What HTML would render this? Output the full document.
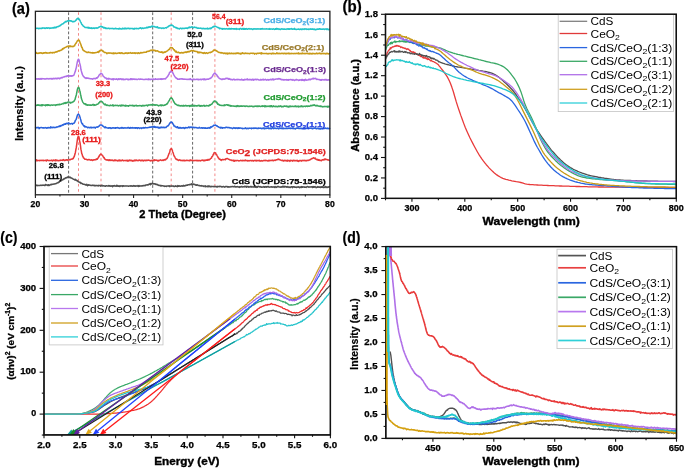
<!DOCTYPE html>
<html><head><meta charset="utf-8"><style>
html,body{margin:0;padding:0;background:#fff;overflow:hidden}
svg{display:block;will-change:transform}
text{font-family:"Liberation Sans",sans-serif}
</style></head><body>
<svg width="685" height="468" viewBox="0 0 685 468">
<rect x="0" y="0" width="685" height="468" fill="#fff"/>
<line x1="68.6" y1="12.3" x2="68.6" y2="194.8" stroke="#333" stroke-width="0.75" stroke-dasharray="2.8,2"/>
<line x1="152.7" y1="12.3" x2="152.7" y2="194.8" stroke="#333" stroke-width="0.75" stroke-dasharray="2.8,2"/>
<line x1="192.6" y1="12.3" x2="192.6" y2="194.8" stroke="#333" stroke-width="0.75" stroke-dasharray="2.8,2"/>
<line x1="78.5" y1="12.3" x2="78.5" y2="194.8" stroke="#f06a6a" stroke-width="0.8" stroke-dasharray="2.6,2.6"/>
<line x1="101" y1="12.3" x2="101" y2="194.8" stroke="#f06a6a" stroke-width="0.8" stroke-dasharray="2.6,2.6"/>
<line x1="171.2" y1="12.3" x2="171.2" y2="194.8" stroke="#f06a6a" stroke-width="0.8" stroke-dasharray="2.6,2.6"/>
<line x1="214.9" y1="12.3" x2="214.9" y2="194.8" stroke="#f06a6a" stroke-width="0.8" stroke-dasharray="2.6,2.6"/>
<polyline points="35.4,185.6 35.8,185.7 36.2,185.5 36.7,185.1 37.1,185.7 37.5,185.6 37.9,185.3 38.3,185.6 38.8,185.5 39.2,185.5 39.6,185.4 40.0,185.5 40.5,185.2 40.9,185.3 41.3,185.2 41.7,185.5 42.1,185.3 42.6,185.3 43.0,185.1 43.4,185.2 43.8,185.3 44.2,185.2 44.7,185.6 45.1,185.5 45.5,184.5 45.9,184.7 46.4,185.1 46.8,185.0 47.2,185.2 47.6,185.1 48.0,185.6 48.5,184.7 48.9,184.9 49.3,185.4 49.7,185.0 50.1,185.0 50.6,184.6 51.0,184.3 51.4,184.7 51.8,184.6 52.3,184.2 52.7,184.2 53.1,184.3 53.5,184.0 53.9,184.1 54.4,184.0 54.8,183.9 55.2,183.6 55.6,183.8 56.0,183.7 56.5,183.4 56.9,182.9 57.3,183.1 57.7,182.6 58.2,182.8 58.6,182.1 59.0,182.3 59.4,181.9 59.8,181.3 60.3,181.3 60.7,181.1 61.1,180.9 61.5,180.3 61.9,180.0 62.4,180.1 62.8,179.6 63.2,179.5 63.6,179.4 64.0,178.5 64.5,178.7 64.9,178.7 65.3,178.1 65.7,177.7 66.2,177.9 66.6,177.6 67.0,177.7 67.4,177.3 67.8,176.9 68.3,177.2 68.7,177.1 69.1,177.5 69.5,177.4 69.9,177.1 70.4,177.3 70.8,178.0 71.2,178.1 71.6,178.0 72.1,178.3 72.5,178.7 72.9,178.9 73.3,179.2 73.7,179.3 74.2,179.4 74.6,179.5 75.0,180.1 75.4,179.4 75.8,180.1 76.3,180.4 76.7,180.2 77.1,180.9 77.5,180.8 78.0,181.5 78.4,181.5 78.8,181.9 79.2,182.3 79.6,182.4 80.1,182.3 80.5,182.4 80.9,183.4 81.3,183.2 81.7,183.3 82.2,183.7 82.6,183.8 83.0,184.2 83.4,184.2 83.9,184.3 84.3,184.2 84.7,184.6 85.1,184.4 85.5,184.9 86.0,185.2 86.4,184.5 86.8,184.3 87.2,185.2 87.6,185.7 88.1,184.9 88.5,184.8 88.9,185.3 89.3,185.0 89.7,185.1 90.2,185.2 90.6,185.5 91.0,185.3 91.4,185.5 91.9,185.4 92.3,185.2 92.7,185.4 93.1,185.3 93.5,185.5 94.0,185.3 94.4,185.3 94.8,185.9 95.2,185.6 95.6,185.6 96.1,185.7 96.5,185.5 96.9,185.6 97.3,185.8 97.8,185.7 98.2,185.4 98.6,185.9 99.0,185.6 99.4,185.5 99.9,185.5 100.3,185.6 100.7,186.2 101.1,185.5 101.5,185.8 102.0,185.2 102.4,185.8 102.8,186.0 103.2,185.8 103.7,185.7 104.1,185.9 104.5,186.0 104.9,186.0 105.3,186.3 105.8,185.9 106.2,185.7 106.6,185.8 107.0,185.9 107.4,185.9 107.9,185.9 108.3,185.9 108.7,185.5 109.1,186.1 109.6,185.8 110.0,185.6 110.4,186.1 110.8,186.3 111.2,186.1 111.7,186.0 112.1,185.7 112.5,186.7 112.9,186.2 113.3,185.7 113.8,185.8 114.2,186.0 114.6,185.6 115.0,186.0 115.5,185.9 115.9,186.3 116.3,186.2 116.7,185.3 117.1,186.0 117.6,185.6 118.0,186.3 118.4,186.1 118.8,186.2 119.2,185.8 119.7,186.5 120.1,186.5 120.5,185.8 120.9,186.1 121.3,185.9 121.8,186.0 122.2,185.7 122.6,186.5 123.0,185.8 123.5,186.0 123.9,186.2 124.3,185.9 124.7,186.0 125.1,185.9 125.6,186.0 126.0,185.8 126.4,186.0 126.8,186.0 127.2,186.0 127.7,186.1 128.1,186.0 128.5,186.3 128.9,186.0 129.4,186.0 129.8,185.9 130.2,185.9 130.6,185.8 131.0,186.2 131.5,185.8 131.9,185.9 132.3,186.2 132.7,186.2 133.1,186.0 133.6,185.6 134.0,186.2 134.4,186.1 134.8,185.7 135.3,186.3 135.7,185.9 136.1,185.8 136.5,186.1 136.9,186.0 137.4,186.1 137.8,185.6 138.2,186.5 138.6,185.9 139.0,185.6 139.5,186.2 139.9,185.9 140.3,186.1 140.7,185.9 141.2,185.9 141.6,186.0 142.0,185.7 142.4,186.0 142.8,185.7 143.3,185.5 143.7,185.7 144.1,185.8 144.5,185.5 144.9,185.3 145.4,185.6 145.8,184.9 146.2,185.0 146.6,185.1 147.0,184.7 147.5,184.9 147.9,184.8 148.3,184.9 148.7,184.3 149.2,184.2 149.6,184.3 150.0,183.5 150.4,184.8 150.8,183.7 151.3,183.6 151.7,184.0 152.1,183.7 152.5,183.2 152.9,183.8 153.4,183.9 153.8,183.7 154.2,183.8 154.6,184.1 155.1,183.8 155.5,184.3 155.9,184.4 156.3,184.3 156.7,184.2 157.2,184.7 157.6,184.6 158.0,185.2 158.4,185.1 158.8,185.4 159.3,185.3 159.7,185.5 160.1,185.3 160.5,185.8 161.0,186.1 161.4,185.7 161.8,185.6 162.2,185.8 162.6,185.8 163.1,185.8 163.5,186.0 163.9,185.9 164.3,186.4 164.7,186.1 165.2,186.2 165.6,186.3 166.0,186.0 166.4,186.5 166.9,186.0 167.3,186.0 167.7,186.1 168.1,186.1 168.5,185.8 169.0,186.2 169.4,185.8 169.8,186.6 170.2,186.2 170.6,186.1 171.1,186.0 171.5,186.1 171.9,186.2 172.3,186.0 172.7,186.0 173.2,186.2 173.6,186.1 174.0,186.5 174.4,186.5 174.9,186.2 175.3,186.3 175.7,185.9 176.1,186.4 176.5,186.2 177.0,186.3 177.4,186.6 177.8,185.6 178.2,186.3 178.6,185.9 179.1,186.3 179.5,185.8 179.9,186.0 180.3,186.2 180.8,186.2 181.2,186.1 181.6,185.8 182.0,185.8 182.4,186.2 182.9,185.9 183.3,185.4 183.7,186.0 184.1,185.8 184.5,185.9 185.0,185.5 185.4,185.7 185.8,185.2 186.2,185.5 186.7,185.1 187.1,185.3 187.5,185.3 187.9,184.8 188.3,184.8 188.8,184.7 189.2,184.9 189.6,184.7 190.0,184.2 190.4,184.5 190.9,184.5 191.3,184.8 191.7,183.8 192.1,184.1 192.6,184.5 193.0,183.9 193.4,183.9 193.8,184.4 194.2,184.6 194.7,184.3 195.1,184.7 195.5,184.7 195.9,185.1 196.3,184.8 196.8,185.2 197.2,184.8 197.6,185.1 198.0,185.2 198.4,185.6 198.9,185.6 199.3,185.4 199.7,185.8 200.1,185.9 200.6,185.8 201.0,185.8 201.4,185.9 201.8,185.6 202.2,186.1 202.7,186.1 203.1,185.9 203.5,186.4 203.9,185.9 204.3,186.1 204.8,186.2 205.2,186.8 205.6,185.9 206.0,186.5 206.5,186.6 206.9,186.5 207.3,186.7 207.7,186.2 208.1,185.9 208.6,186.6 209.0,186.1 209.4,186.4 209.8,186.2 210.2,186.7 210.7,186.7 211.1,186.3 211.5,186.7 211.9,186.5 212.4,186.5 212.8,186.5 213.2,186.5 213.6,186.7 214.0,186.6 214.5,186.5 214.9,186.8 215.3,186.4 215.7,186.6 216.1,186.7 216.6,186.9 217.0,186.4 217.4,187.0 217.8,186.6 218.3,186.5 218.7,186.4 219.1,186.7 219.5,186.6 219.9,186.3 220.4,186.3 220.8,186.5 221.2,186.4 221.6,186.9 222.0,187.0 222.5,186.8 222.9,186.7 223.3,186.5 223.7,186.6 224.1,186.9 224.6,187.2 225.0,186.9 225.4,186.6 225.8,186.7 226.3,186.5 226.7,186.5 227.1,186.6 227.5,186.7 227.9,187.1 228.4,186.7 228.8,187.0 229.2,187.1 229.6,186.7 230.0,187.1 230.5,186.9 230.9,186.6 231.3,186.7 231.7,186.7 232.2,186.6 232.6,186.6 233.0,186.7 233.4,186.8 233.8,186.5 234.3,186.7 234.7,186.3 235.1,186.8 235.5,186.9 235.9,186.8 236.4,186.8 236.8,186.9 237.2,186.6 237.6,186.7 238.1,186.9 238.5,187.0 238.9,186.8 239.3,187.4 239.7,186.7 240.2,187.0 240.6,187.1 241.0,186.7 241.4,186.5 241.8,186.5 242.3,186.8 242.7,187.0 243.1,186.8 243.5,186.8 244.0,186.7 244.4,186.9 244.8,186.2 245.2,186.8 245.6,186.8 246.1,186.4 246.5,187.3 246.9,186.4 247.3,186.5 247.7,186.5 248.2,187.1 248.6,186.6 249.0,187.0 249.4,186.9 249.8,186.9 250.3,186.5 250.7,186.6 251.1,187.2 251.5,186.5 252.0,186.6 252.4,186.8 252.8,187.0 253.2,186.9 253.6,187.0 254.1,186.5 254.5,187.1 254.9,187.0 255.3,186.4 255.7,187.2 256.2,187.4 256.6,186.6 257.0,186.8 257.4,187.2 257.9,186.5 258.3,186.3 258.7,186.5 259.1,186.7 259.5,186.7 260.0,187.0 260.4,186.9 260.8,186.5 261.2,187.0 261.6,187.3 262.1,187.2 262.5,187.1 262.9,186.9 263.3,187.1 263.8,186.6 264.2,187.1 264.6,186.8 265.0,187.2 265.4,187.0 265.9,186.6 266.3,186.9 266.7,187.2 267.1,186.6 267.5,186.7 268.0,186.7 268.4,186.5 268.8,187.1 269.2,187.2 269.7,187.1 270.1,187.0 270.5,186.9 270.9,187.0 271.3,186.7 271.8,187.1 272.2,187.2 272.6,187.1 273.0,186.8 273.4,186.9 273.9,186.9 274.3,187.4 274.7,187.0 275.1,186.5 275.6,187.0 276.0,187.4 276.4,187.1 276.8,187.2 277.2,186.9 277.7,186.4 278.1,186.5 278.5,186.6 278.9,186.9 279.3,187.0 279.8,187.1 280.2,186.9 280.6,187.2 281.0,186.9 281.4,186.8 281.9,187.2 282.3,186.7 282.7,186.3 283.1,186.7 283.6,187.0 284.0,186.2 284.4,186.9 284.8,186.9 285.2,186.6 285.7,186.6 286.1,186.9 286.5,186.8 286.9,187.3 287.3,187.1 287.8,186.6 288.2,186.8 288.6,187.2 289.0,187.5 289.5,187.1 289.9,187.1 290.3,187.5 290.7,187.0 291.1,186.9 291.6,186.7 292.0,186.9 292.4,187.6 292.8,186.7 293.2,187.0 293.7,186.7 294.1,187.0 294.5,187.2 294.9,187.0 295.4,187.2 295.8,187.2 296.2,187.1 296.6,187.5 297.0,187.2 297.5,187.0 297.9,186.9 298.3,186.8 298.7,187.2 299.1,187.0 299.6,187.7 300.0,187.5 300.4,187.0 300.8,187.0 301.3,187.5 301.7,186.6 302.1,186.9 302.5,187.3 302.9,186.8 303.4,186.9 303.8,187.0 304.2,187.2 304.6,187.1 305.0,187.2 305.5,187.2 305.9,187.1 306.3,187.4 306.7,186.9 307.1,186.7 307.6,186.6 308.0,186.7 308.4,186.9 308.8,187.3 309.3,187.1 309.7,186.9 310.1,186.8 310.5,187.0 310.9,187.0 311.4,187.0 311.8,186.7 312.2,187.0 312.6,187.4 313.0,186.6 313.5,187.1 313.9,186.6 314.3,187.2 314.7,186.9 315.2,186.6 315.6,187.1 316.0,187.6 316.4,187.2 316.8,187.4 317.3,187.1 317.7,186.6 318.1,187.3 318.5,187.0 318.9,186.8 319.4,187.3 319.8,187.2 320.2,187.0 320.6,187.4 321.1,186.9 321.5,187.3 321.9,186.9 322.3,187.3 322.7,186.9 323.2,187.5 323.6,187.2 324.0,187.5 324.4,187.0 324.8,187.0 325.3,187.4 325.7,186.5 326.1,186.9 326.5,187.4 327.0,187.3 327.4,187.4 327.8,187.1 328.2,187.3 328.6,187.0 329.1,186.8 329.5,186.8 329.9,187.1" fill="none" stroke="#505050" stroke-width="1.5" stroke-linejoin="round"/>
<polyline points="35.4,160.5 35.8,160.3 36.2,160.4 36.7,159.8 37.1,160.9 37.5,160.7 37.9,160.4 38.3,160.6 38.8,160.5 39.2,160.3 39.6,160.7 40.0,160.4 40.5,160.4 40.9,160.3 41.3,160.6 41.7,160.4 42.1,160.6 42.6,160.3 43.0,160.5 43.4,160.2 43.8,160.7 44.2,160.5 44.7,160.5 45.1,160.5 45.5,160.2 45.9,160.6 46.4,161.0 46.8,160.0 47.2,160.0 47.6,160.1 48.0,160.6 48.5,160.5 48.9,160.7 49.3,160.6 49.7,160.5 50.1,160.5 50.6,160.4 51.0,160.6 51.4,160.1 51.8,160.3 52.3,160.5 52.7,160.9 53.1,160.2 53.5,160.1 53.9,160.3 54.4,160.6 54.8,160.3 55.2,160.7 55.6,159.9 56.0,160.7 56.5,160.6 56.9,160.0 57.3,160.4 57.7,160.7 58.2,160.4 58.6,160.6 59.0,160.9 59.4,160.4 59.8,160.3 60.3,160.1 60.7,160.5 61.1,160.2 61.5,160.2 61.9,160.2 62.4,160.4 62.8,160.0 63.2,159.8 63.6,159.6 64.0,160.5 64.5,160.2 64.9,160.5 65.3,160.1 65.7,159.9 66.2,160.2 66.6,160.0 67.0,159.7 67.4,159.8 67.8,160.4 68.3,160.0 68.7,160.0 69.1,159.7 69.5,159.6 69.9,159.9 70.4,159.5 70.8,159.3 71.2,159.3 71.6,159.0 72.1,159.1 72.5,159.1 72.9,158.3 73.3,158.4 73.7,157.3 74.2,156.7 74.6,155.3 75.0,154.1 75.4,152.4 75.8,150.0 76.3,147.4 76.7,144.6 77.1,141.7 77.5,138.8 78.0,137.0 78.4,136.2 78.8,136.6 79.2,138.0 79.6,140.9 80.1,143.2 80.5,145.9 80.9,149.2 81.3,150.9 81.7,153.4 82.2,154.5 82.6,156.1 83.0,156.5 83.4,157.9 83.9,158.2 84.3,158.3 84.7,159.3 85.1,159.3 85.5,159.2 86.0,159.2 86.4,159.5 86.8,159.5 87.2,159.8 87.6,159.9 88.1,159.6 88.5,159.7 88.9,159.7 89.3,159.5 89.7,159.8 90.2,159.9 90.6,160.1 91.0,160.3 91.4,159.8 91.9,160.1 92.3,159.9 92.7,160.5 93.1,160.0 93.5,160.1 94.0,159.7 94.4,159.7 94.8,159.9 95.2,159.7 95.6,159.8 96.1,159.1 96.5,159.5 96.9,158.9 97.3,159.2 97.8,158.2 98.2,158.1 98.6,156.9 99.0,156.6 99.4,155.6 99.9,155.0 100.3,154.6 100.7,154.1 101.1,154.2 101.5,154.6 102.0,155.0 102.4,155.5 102.8,155.9 103.2,156.7 103.7,157.5 104.1,157.6 104.5,158.8 104.9,159.0 105.3,159.3 105.8,159.8 106.2,159.9 106.6,159.9 107.0,159.7 107.4,160.1 107.9,160.2 108.3,159.9 108.7,160.5 109.1,160.4 109.6,159.8 110.0,160.3 110.4,160.0 110.8,160.6 111.2,160.5 111.7,160.1 112.1,160.1 112.5,160.4 112.9,160.3 113.3,160.8 113.8,160.6 114.2,160.3 114.6,160.6 115.0,159.9 115.5,160.5 115.9,160.7 116.3,160.4 116.7,160.3 117.1,160.6 117.6,160.9 118.0,160.5 118.4,160.2 118.8,160.8 119.2,160.0 119.7,160.6 120.1,160.3 120.5,160.7 120.9,160.3 121.3,160.8 121.8,160.6 122.2,160.1 122.6,160.0 123.0,160.4 123.5,160.8 123.9,160.5 124.3,160.5 124.7,160.4 125.1,160.7 125.6,160.6 126.0,160.6 126.4,160.3 126.8,160.8 127.2,160.9 127.7,160.2 128.1,161.1 128.5,160.7 128.9,160.4 129.4,160.0 129.8,160.7 130.2,160.7 130.6,160.4 131.0,160.1 131.5,160.8 131.9,160.4 132.3,160.4 132.7,161.2 133.1,161.1 133.6,160.8 134.0,160.4 134.4,160.7 134.8,160.0 135.3,160.6 135.7,160.3 136.1,160.2 136.5,160.1 136.9,160.7 137.4,160.6 137.8,160.6 138.2,160.7 138.6,160.3 139.0,160.2 139.5,160.1 139.9,160.4 140.3,160.7 140.7,160.5 141.2,160.7 141.6,160.2 142.0,160.4 142.4,160.3 142.8,160.2 143.3,161.0 143.7,160.7 144.1,160.3 144.5,160.3 144.9,160.5 145.4,160.2 145.8,160.6 146.2,160.2 146.6,160.4 147.0,160.3 147.5,160.4 147.9,160.2 148.3,160.1 148.7,160.3 149.2,160.3 149.6,160.4 150.0,160.5 150.4,160.9 150.8,160.7 151.3,160.4 151.7,160.7 152.1,160.3 152.5,160.9 152.9,160.6 153.4,160.1 153.8,160.7 154.2,160.7 154.6,159.8 155.1,160.3 155.5,160.3 155.9,160.0 156.3,160.2 156.7,160.2 157.2,160.5 157.6,160.5 158.0,161.1 158.4,160.3 158.8,160.7 159.3,160.4 159.7,160.4 160.1,160.0 160.5,159.8 161.0,160.1 161.4,160.4 161.8,160.6 162.2,160.3 162.6,160.3 163.1,159.9 163.5,160.4 163.9,160.3 164.3,159.8 164.7,159.8 165.2,159.4 165.6,159.9 166.0,159.4 166.4,158.9 166.9,158.6 167.3,158.0 167.7,157.1 168.1,156.0 168.5,154.9 169.0,153.6 169.4,152.8 169.8,151.9 170.2,149.7 170.6,149.2 171.1,148.7 171.5,148.5 171.9,149.4 172.3,150.2 172.7,152.0 173.2,152.9 173.6,154.4 174.0,155.7 174.4,156.5 174.9,157.0 175.3,158.0 175.7,158.8 176.1,159.0 176.5,159.4 177.0,159.3 177.4,159.8 177.8,160.0 178.2,159.9 178.6,160.5 179.1,160.0 179.5,159.9 179.9,159.8 180.3,160.5 180.8,160.2 181.2,160.5 181.6,160.4 182.0,160.7 182.4,160.7 182.9,160.3 183.3,160.4 183.7,160.7 184.1,160.1 184.5,160.8 185.0,160.7 185.4,160.7 185.8,160.4 186.2,160.5 186.7,160.2 187.1,160.5 187.5,160.3 187.9,160.5 188.3,160.4 188.8,160.6 189.2,160.8 189.6,160.2 190.0,160.7 190.4,160.0 190.9,160.0 191.3,160.5 191.7,160.5 192.1,160.6 192.6,160.1 193.0,160.5 193.4,160.5 193.8,160.8 194.2,160.5 194.7,160.6 195.1,160.3 195.5,160.5 195.9,160.4 196.3,160.7 196.8,160.3 197.2,160.3 197.6,160.6 198.0,160.9 198.4,160.6 198.9,160.6 199.3,160.4 199.7,160.8 200.1,160.6 200.6,160.9 201.0,160.6 201.4,160.2 201.8,160.3 202.2,160.2 202.7,160.1 203.1,160.7 203.5,160.6 203.9,160.1 204.3,160.8 204.8,160.4 205.2,160.1 205.6,160.4 206.0,160.3 206.5,160.1 206.9,159.7 207.3,160.2 207.7,160.2 208.1,159.4 208.6,160.1 209.0,160.0 209.4,159.5 209.8,159.4 210.2,159.0 210.7,158.5 211.1,158.2 211.5,158.1 211.9,156.7 212.4,156.4 212.8,155.6 213.2,154.6 213.6,153.8 214.0,152.9 214.5,152.6 214.9,152.6 215.3,152.9 215.7,153.0 216.1,154.6 216.6,154.5 217.0,155.5 217.4,156.2 217.8,156.9 218.3,158.0 218.7,158.1 219.1,159.0 219.5,159.3 219.9,159.1 220.4,159.8 220.8,159.6 221.2,160.5 221.6,159.8 222.0,159.7 222.5,159.5 222.9,159.7 223.3,159.8 223.7,159.6 224.1,159.5 224.6,159.5 225.0,159.5 225.4,159.8 225.8,158.8 226.3,158.9 226.7,158.7 227.1,158.5 227.5,158.6 227.9,158.8 228.4,159.3 228.8,159.3 229.2,159.4 229.6,159.8 230.0,159.9 230.5,160.0 230.9,160.2 231.3,160.0 231.7,160.5 232.2,160.5 232.6,160.3 233.0,160.1 233.4,160.9 233.8,160.5 234.3,161.3 234.7,160.4 235.1,160.8 235.5,160.4 235.9,160.6 236.4,160.8 236.8,160.4 237.2,160.6 237.6,160.6 238.1,160.6 238.5,160.8 238.9,160.9 239.3,160.8 239.7,160.7 240.2,160.5 240.6,160.3 241.0,160.4 241.4,160.5 241.8,160.8 242.3,160.5 242.7,160.3 243.1,160.8 243.5,160.4 244.0,160.5 244.4,160.6 244.8,160.8 245.2,160.0 245.6,160.4 246.1,160.7 246.5,160.6 246.9,160.4 247.3,160.5 247.7,161.0 248.2,160.5 248.6,160.8 249.0,160.9 249.4,160.6 249.8,160.8 250.3,160.6 250.7,160.5 251.1,160.4 251.5,160.9 252.0,160.6 252.4,160.5 252.8,160.4 253.2,161.1 253.6,160.9 254.1,160.6 254.5,160.5 254.9,160.3 255.3,160.8 255.7,160.8 256.2,160.3 256.6,161.0 257.0,160.9 257.4,160.4 257.9,160.5 258.3,160.6 258.7,160.7 259.1,160.6 259.5,160.3 260.0,161.1 260.4,160.8 260.8,161.0 261.2,161.0 261.6,160.6 262.1,160.8 262.5,160.9 262.9,160.9 263.3,160.6 263.8,160.5 264.2,160.7 264.6,160.5 265.0,160.5 265.4,160.2 265.9,160.7 266.3,160.4 266.7,160.5 267.1,160.7 267.5,160.8 268.0,161.1 268.4,160.7 268.8,160.3 269.2,160.7 269.7,160.5 270.1,160.7 270.5,160.5 270.9,160.5 271.3,160.5 271.8,160.5 272.2,160.1 272.6,160.4 273.0,160.5 273.4,160.8 273.9,160.3 274.3,160.2 274.7,160.4 275.1,160.2 275.6,160.4 276.0,160.0 276.4,159.7 276.8,159.8 277.2,159.8 277.7,159.2 278.1,159.4 278.5,159.0 278.9,159.4 279.3,159.4 279.8,159.8 280.2,159.9 280.6,160.1 281.0,160.2 281.4,160.5 281.9,160.5 282.3,160.3 282.7,160.2 283.1,160.9 283.6,161.0 284.0,160.5 284.4,160.8 284.8,160.3 285.2,160.3 285.7,160.6 286.1,161.0 286.5,160.4 286.9,160.5 287.3,161.1 287.8,160.2 288.2,160.8 288.6,160.8 289.0,160.6 289.5,160.7 289.9,161.4 290.3,160.4 290.7,160.6 291.1,160.6 291.6,160.5 292.0,160.4 292.4,161.1 292.8,160.8 293.2,160.3 293.7,160.5 294.1,160.8 294.5,160.8 294.9,160.3 295.4,160.7 295.8,160.8 296.2,160.8 296.6,160.8 297.0,160.2 297.5,161.2 297.9,160.7 298.3,161.1 298.7,161.4 299.1,160.6 299.6,160.4 300.0,160.9 300.4,160.6 300.8,160.6 301.3,160.4 301.7,161.1 302.1,160.6 302.5,160.3 302.9,160.5 303.4,160.4 303.8,160.7 304.2,160.5 304.6,160.3 305.0,160.8 305.5,160.4 305.9,160.7 306.3,160.9 306.7,160.4 307.1,160.3 307.6,160.5 308.0,160.6 308.4,160.3 308.8,160.2 309.3,160.0 309.7,160.0 310.1,159.8 310.5,159.3 310.9,159.1 311.4,159.0 311.8,158.6 312.2,158.5 312.6,158.4 313.0,158.1 313.5,157.8 313.9,157.8 314.3,158.5 314.7,158.4 315.2,158.1 315.6,158.5 316.0,159.4 316.4,159.6 316.8,159.5 317.3,159.9 317.7,159.4 318.1,160.0 318.5,160.3 318.9,159.7 319.4,160.1 319.8,160.5 320.2,160.6 320.6,160.2 321.1,160.4 321.5,160.7 321.9,160.1 322.3,159.7 322.7,159.9 323.2,159.7 323.6,160.0 324.0,159.5 324.4,159.1 324.8,159.8 325.3,159.0 325.7,159.2 326.1,159.4 326.5,159.5 327.0,159.6 327.4,159.8 327.8,159.9 328.2,159.7 328.6,160.1 329.1,160.3 329.5,160.4 329.9,160.5" fill="none" stroke="#e83a3a" stroke-width="1.5" stroke-linejoin="round"/>
<polyline points="35.4,128.3 35.8,127.2 36.2,127.9 36.7,127.7 37.1,127.7 37.5,127.7 37.9,127.3 38.3,127.7 38.8,127.6 39.2,128.6 39.6,127.8 40.0,127.7 40.5,127.7 40.9,127.6 41.3,127.5 41.7,127.7 42.1,127.9 42.6,127.7 43.0,128.0 43.4,127.7 43.8,127.8 44.2,128.1 44.7,127.9 45.1,127.6 45.5,127.7 45.9,127.9 46.4,128.2 46.8,127.7 47.2,127.7 47.6,128.0 48.0,127.5 48.5,127.6 48.9,127.9 49.3,127.8 49.7,127.7 50.1,127.8 50.6,126.9 51.0,127.9 51.4,127.4 51.8,127.2 52.3,127.6 52.7,127.7 53.1,127.4 53.5,127.2 53.9,127.5 54.4,127.4 54.8,127.7 55.2,127.5 55.6,127.3 56.0,127.5 56.5,127.1 56.9,126.8 57.3,127.1 57.7,127.0 58.2,126.7 58.6,126.5 59.0,126.6 59.4,125.8 59.8,126.5 60.3,126.3 60.7,125.6 61.1,125.8 61.5,125.4 61.9,125.6 62.4,124.8 62.8,124.8 63.2,125.0 63.6,125.0 64.0,123.9 64.5,124.2 64.9,124.2 65.3,123.8 65.7,124.2 66.2,123.4 66.6,123.6 67.0,123.2 67.4,123.7 67.8,123.3 68.3,123.2 68.7,122.9 69.1,123.8 69.5,123.6 69.9,123.7 70.4,123.9 70.8,123.8 71.2,123.6 71.6,123.6 72.1,123.6 72.5,124.2 72.9,123.4 73.3,123.4 73.7,123.2 74.2,123.0 74.6,122.5 75.0,121.4 75.4,120.4 75.8,119.8 76.3,119.0 76.7,117.7 77.1,116.3 77.5,115.1 78.0,114.5 78.4,114.1 78.8,114.5 79.2,114.8 79.6,116.1 80.1,117.4 80.5,118.9 80.9,120.2 81.3,122.0 81.7,122.9 82.2,123.9 82.6,123.8 83.0,124.9 83.4,125.4 83.9,126.1 84.3,125.7 84.7,126.8 85.1,127.0 85.5,126.5 86.0,126.7 86.4,126.9 86.8,127.1 87.2,127.4 87.6,127.8 88.1,127.2 88.5,127.5 88.9,127.4 89.3,127.8 89.7,127.6 90.2,127.8 90.6,127.2 91.0,127.5 91.4,127.3 91.9,127.9 92.3,127.7 92.7,127.5 93.1,127.4 93.5,127.7 94.0,127.4 94.4,127.3 94.8,127.6 95.2,128.1 95.6,127.4 96.1,127.3 96.5,127.0 96.9,126.9 97.3,127.2 97.8,127.1 98.2,126.7 98.6,126.5 99.0,126.1 99.4,125.8 99.9,125.1 100.3,125.1 100.7,125.1 101.1,124.9 101.5,125.0 102.0,125.2 102.4,125.6 102.8,126.2 103.2,126.2 103.7,126.6 104.1,127.1 104.5,127.2 104.9,127.7 105.3,126.9 105.8,127.7 106.2,127.5 106.6,127.7 107.0,127.9 107.4,128.0 107.9,128.0 108.3,127.8 108.7,128.2 109.1,127.7 109.6,127.8 110.0,128.0 110.4,127.7 110.8,128.4 111.2,128.1 111.7,128.4 112.1,127.9 112.5,127.8 112.9,127.9 113.3,128.1 113.8,127.7 114.2,128.0 114.6,127.9 115.0,128.3 115.5,127.7 115.9,128.2 116.3,127.8 116.7,127.7 117.1,127.7 117.6,127.6 118.0,128.0 118.4,128.2 118.8,128.0 119.2,128.1 119.7,128.4 120.1,128.0 120.5,128.0 120.9,127.9 121.3,127.5 121.8,128.1 122.2,127.5 122.6,128.1 123.0,128.0 123.5,128.2 123.9,127.9 124.3,127.8 124.7,128.1 125.1,127.8 125.6,127.9 126.0,128.0 126.4,127.9 126.8,127.9 127.2,127.8 127.7,127.9 128.1,127.4 128.5,127.9 128.9,127.7 129.4,128.3 129.8,128.3 130.2,127.5 130.6,128.0 131.0,127.9 131.5,127.7 131.9,128.1 132.3,127.9 132.7,127.5 133.1,127.9 133.6,127.9 134.0,128.0 134.4,127.7 134.8,128.1 135.3,128.2 135.7,127.7 136.1,127.8 136.5,127.9 136.9,127.8 137.4,128.4 137.8,128.0 138.2,127.7 138.6,127.8 139.0,127.9 139.5,128.5 139.9,127.9 140.3,128.0 140.7,128.1 141.2,127.9 141.6,128.5 142.0,127.8 142.4,128.1 142.8,127.9 143.3,128.0 143.7,127.5 144.1,128.2 144.5,127.7 144.9,127.8 145.4,127.5 145.8,127.5 146.2,127.8 146.6,127.8 147.0,127.7 147.5,127.8 147.9,127.6 148.3,127.4 148.7,127.5 149.2,127.4 149.6,127.1 150.0,127.3 150.4,127.3 150.8,127.0 151.3,126.8 151.7,127.0 152.1,127.3 152.5,126.8 152.9,126.8 153.4,126.8 153.8,127.2 154.2,126.4 154.6,127.0 155.1,127.3 155.5,126.9 155.9,127.5 156.3,127.3 156.7,127.1 157.2,127.4 157.6,127.0 158.0,127.3 158.4,127.9 158.8,127.3 159.3,128.0 159.7,127.6 160.1,127.9 160.5,127.6 161.0,127.1 161.4,127.5 161.8,127.7 162.2,127.4 162.6,127.3 163.1,127.7 163.5,127.5 163.9,127.2 164.3,127.4 164.7,127.7 165.2,127.3 165.6,127.6 166.0,127.6 166.4,127.0 166.9,126.5 167.3,126.1 167.7,126.1 168.1,125.8 168.5,125.2 169.0,124.7 169.4,123.8 169.8,123.4 170.2,122.7 170.6,122.4 171.1,121.9 171.5,121.9 171.9,122.4 172.3,122.7 172.7,123.3 173.2,124.3 173.6,124.7 174.0,126.0 174.4,126.0 174.9,126.1 175.3,126.8 175.7,126.9 176.1,126.9 176.5,127.5 177.0,127.2 177.4,126.7 177.8,127.8 178.2,127.5 178.6,128.1 179.1,127.6 179.5,127.5 179.9,128.2 180.3,127.5 180.8,127.9 181.2,128.2 181.6,127.9 182.0,127.8 182.4,127.9 182.9,128.1 183.3,127.6 183.7,128.0 184.1,128.0 184.5,128.4 185.0,127.7 185.4,127.6 185.8,128.0 186.2,127.6 186.7,127.8 187.1,127.7 187.5,127.9 187.9,127.4 188.3,127.5 188.8,126.9 189.2,127.3 189.6,127.8 190.0,127.2 190.4,127.2 190.9,127.0 191.3,127.5 191.7,127.3 192.1,127.0 192.6,127.4 193.0,127.4 193.4,127.5 193.8,127.2 194.2,127.8 194.7,127.5 195.1,127.4 195.5,127.4 195.9,127.5 196.3,127.8 196.8,127.6 197.2,127.9 197.6,127.9 198.0,128.1 198.4,128.0 198.9,127.8 199.3,127.4 199.7,127.9 200.1,128.1 200.6,128.0 201.0,128.1 201.4,127.8 201.8,127.9 202.2,127.7 202.7,128.3 203.1,128.0 203.5,127.9 203.9,127.7 204.3,127.9 204.8,128.3 205.2,128.1 205.6,127.8 206.0,128.3 206.5,128.3 206.9,128.2 207.3,128.1 207.7,128.2 208.1,128.0 208.6,128.0 209.0,127.6 209.4,128.1 209.8,127.7 210.2,128.0 210.7,126.9 211.1,127.4 211.5,127.2 211.9,126.6 212.4,126.5 212.8,126.3 213.2,125.9 213.6,125.3 214.0,125.2 214.5,125.3 214.9,125.3 215.3,125.0 215.7,125.2 216.1,125.5 216.6,126.0 217.0,125.8 217.4,126.1 217.8,126.7 218.3,126.7 218.7,127.0 219.1,127.4 219.5,127.6 219.9,127.4 220.4,127.9 220.8,127.4 221.2,128.0 221.6,127.5 222.0,127.6 222.5,128.1 222.9,127.8 223.3,127.7 223.7,127.7 224.1,127.9 224.6,127.7 225.0,127.7 225.4,127.8 225.8,127.3 226.3,127.3 226.7,127.2 227.1,127.6 227.5,127.6 227.9,127.7 228.4,127.4 228.8,127.5 229.2,127.8 229.6,127.6 230.0,128.0 230.5,128.1 230.9,127.8 231.3,128.0 231.7,128.0 232.2,128.5 232.6,128.7 233.0,128.1 233.4,128.1 233.8,127.6 234.3,128.2 234.7,128.1 235.1,127.9 235.5,128.4 235.9,127.8 236.4,128.1 236.8,128.2 237.2,127.9 237.6,128.4 238.1,128.5 238.5,127.8 238.9,127.8 239.3,128.3 239.7,128.2 240.2,127.9 240.6,128.1 241.0,128.2 241.4,128.2 241.8,128.4 242.3,128.3 242.7,128.7 243.1,128.6 243.5,128.4 244.0,128.5 244.4,128.6 244.8,128.4 245.2,127.9 245.6,128.4 246.1,128.2 246.5,128.6 246.9,128.3 247.3,128.4 247.7,128.3 248.2,128.7 248.6,128.3 249.0,128.2 249.4,128.3 249.8,128.1 250.3,128.3 250.7,128.2 251.1,128.3 251.5,128.7 252.0,128.1 252.4,128.3 252.8,128.2 253.2,128.4 253.6,128.0 254.1,128.1 254.5,128.2 254.9,128.4 255.3,128.2 255.7,128.1 256.2,128.0 256.6,128.4 257.0,128.6 257.4,128.3 257.9,128.3 258.3,128.4 258.7,128.0 259.1,128.2 259.5,128.2 260.0,128.3 260.4,128.3 260.8,128.0 261.2,128.5 261.6,128.7 262.1,128.2 262.5,128.4 262.9,128.3 263.3,128.5 263.8,127.9 264.2,128.7 264.6,128.2 265.0,128.6 265.4,128.3 265.9,128.2 266.3,128.2 266.7,128.5 267.1,128.1 267.5,128.2 268.0,128.2 268.4,127.9 268.8,128.6 269.2,128.4 269.7,128.3 270.1,128.6 270.5,128.0 270.9,128.3 271.3,128.7 271.8,128.5 272.2,127.7 272.6,127.5 273.0,128.0 273.4,128.6 273.9,128.2 274.3,128.2 274.7,128.4 275.1,128.1 275.6,128.3 276.0,128.5 276.4,128.4 276.8,128.4 277.2,128.1 277.7,128.4 278.1,128.2 278.5,128.6 278.9,128.9 279.3,128.1 279.8,127.8 280.2,128.2 280.6,128.4 281.0,128.6 281.4,128.6 281.9,128.1 282.3,128.1 282.7,128.6 283.1,128.0 283.6,128.6 284.0,128.3 284.4,128.5 284.8,128.5 285.2,128.5 285.7,128.5 286.1,128.1 286.5,128.4 286.9,128.3 287.3,128.4 287.8,128.6 288.2,128.3 288.6,128.1 289.0,128.1 289.5,128.2 289.9,128.5 290.3,128.1 290.7,128.6 291.1,128.4 291.6,128.3 292.0,128.0 292.4,128.4 292.8,128.5 293.2,127.9 293.7,128.6 294.1,128.7 294.5,128.4 294.9,128.5 295.4,128.9 295.8,128.6 296.2,128.1 296.6,128.3 297.0,128.3 297.5,128.3 297.9,127.7 298.3,128.5 298.7,128.2 299.1,128.4 299.6,128.3 300.0,128.6 300.4,128.3 300.8,128.1 301.3,128.5 301.7,128.7 302.1,128.3 302.5,128.7 302.9,128.4 303.4,128.2 303.8,128.7 304.2,128.1 304.6,128.6 305.0,128.2 305.5,128.5 305.9,128.0 306.3,128.1 306.7,128.6 307.1,128.4 307.6,128.4 308.0,128.2 308.4,128.5 308.8,128.0 309.3,128.1 309.7,128.3 310.1,128.2 310.5,128.2 310.9,128.3 311.4,128.3 311.8,128.3 312.2,128.8 312.6,128.6 313.0,128.7 313.5,128.4 313.9,128.2 314.3,128.0 314.7,128.3 315.2,127.8 315.6,128.2 316.0,128.6 316.4,128.8 316.8,128.6 317.3,128.2 317.7,128.5 318.1,128.2 318.5,128.6 318.9,128.3 319.4,128.6 319.8,129.0 320.2,128.6 320.6,129.0 321.1,128.4 321.5,128.3 321.9,128.7 322.3,128.8 322.7,128.2 323.2,128.4 323.6,128.0 324.0,128.3 324.4,128.6 324.8,128.4 325.3,128.2 325.7,128.0 326.1,128.5 326.5,128.6 327.0,128.5 327.4,128.5 327.8,128.1 328.2,128.8 328.6,128.4 329.1,128.4 329.5,128.6 329.9,127.9" fill="none" stroke="#2a62dc" stroke-width="1.5" stroke-linejoin="round"/>
<polyline points="35.4,105.1 35.8,105.2 36.2,105.6 36.7,105.4 37.1,104.8 37.5,105.2 37.9,105.1 38.3,105.3 38.8,104.8 39.2,105.3 39.6,105.3 40.0,105.6 40.5,105.3 40.9,105.4 41.3,104.9 41.7,105.8 42.1,104.7 42.6,105.5 43.0,105.1 43.4,105.0 43.8,105.1 44.2,105.1 44.7,105.3 45.1,105.2 45.5,105.6 45.9,104.8 46.4,105.2 46.8,105.0 47.2,105.4 47.6,104.7 48.0,105.1 48.5,105.2 48.9,104.8 49.3,105.4 49.7,105.2 50.1,105.4 50.6,105.4 51.0,104.9 51.4,105.0 51.8,105.1 52.3,105.3 52.7,105.3 53.1,104.9 53.5,104.9 53.9,104.9 54.4,104.9 54.8,105.0 55.2,105.0 55.6,105.5 56.0,104.8 56.5,104.8 56.9,105.0 57.3,104.6 57.7,104.7 58.2,104.7 58.6,104.8 59.0,104.2 59.4,104.8 59.8,104.3 60.3,104.4 60.7,104.4 61.1,104.3 61.5,104.3 61.9,103.9 62.4,103.8 62.8,103.7 63.2,103.3 63.6,103.7 64.0,103.1 64.5,102.8 64.9,103.5 65.3,102.9 65.7,102.5 66.2,103.2 66.6,102.6 67.0,102.8 67.4,102.3 67.8,102.4 68.3,102.0 68.7,102.0 69.1,102.2 69.5,102.4 69.9,102.7 70.4,103.1 70.8,102.3 71.2,102.8 71.6,102.4 72.1,102.4 72.5,102.0 72.9,101.9 73.3,101.8 73.7,101.3 74.2,101.0 74.6,100.1 75.0,99.6 75.4,98.0 75.8,96.5 76.3,95.0 76.7,92.9 77.1,90.8 77.5,89.0 78.0,87.7 78.4,87.3 78.8,87.5 79.2,88.4 79.6,90.2 80.1,91.8 80.5,94.2 80.9,95.7 81.3,98.1 81.7,99.3 82.2,100.6 82.6,101.8 83.0,102.4 83.4,102.9 83.9,103.7 84.3,103.8 84.7,103.8 85.1,104.3 85.5,103.9 86.0,104.9 86.4,104.5 86.8,104.6 87.2,105.3 87.6,105.3 88.1,104.8 88.5,105.0 88.9,105.2 89.3,105.3 89.7,104.9 90.2,105.0 90.6,105.3 91.0,105.1 91.4,105.2 91.9,105.2 92.3,104.8 92.7,104.8 93.1,104.4 93.5,105.0 94.0,105.4 94.4,104.7 94.8,105.3 95.2,105.2 95.6,104.9 96.1,104.8 96.5,104.7 96.9,104.3 97.3,104.2 97.8,104.0 98.2,103.8 98.6,103.5 99.0,102.6 99.4,102.6 99.9,101.7 100.3,101.5 100.7,101.4 101.1,101.2 101.5,101.4 102.0,101.8 102.4,102.0 102.8,102.5 103.2,103.1 103.7,103.8 104.1,103.9 104.5,104.7 104.9,104.6 105.3,104.0 105.8,104.8 106.2,105.4 106.6,105.1 107.0,105.1 107.4,105.0 107.9,105.6 108.3,105.6 108.7,105.5 109.1,105.5 109.6,105.7 110.0,105.6 110.4,105.1 110.8,105.6 111.2,105.5 111.7,105.4 112.1,105.6 112.5,105.5 112.9,104.7 113.3,105.9 113.8,105.8 114.2,105.5 114.6,105.4 115.0,105.6 115.5,105.2 115.9,105.6 116.3,105.5 116.7,105.4 117.1,105.3 117.6,105.4 118.0,105.8 118.4,105.9 118.8,105.7 119.2,105.6 119.7,105.3 120.1,105.7 120.5,106.0 120.9,105.2 121.3,105.9 121.8,105.0 122.2,105.5 122.6,105.7 123.0,105.3 123.5,105.2 123.9,105.6 124.3,105.8 124.7,105.5 125.1,105.9 125.6,105.4 126.0,106.1 126.4,105.6 126.8,105.7 127.2,105.8 127.7,105.7 128.1,106.1 128.5,106.2 128.9,105.8 129.4,105.6 129.8,105.3 130.2,105.4 130.6,105.6 131.0,105.6 131.5,105.6 131.9,105.6 132.3,105.8 132.7,105.3 133.1,105.4 133.6,105.9 134.0,105.9 134.4,105.5 134.8,106.0 135.3,105.5 135.7,105.6 136.1,105.2 136.5,105.9 136.9,105.6 137.4,105.9 137.8,105.8 138.2,105.7 138.6,105.7 139.0,105.9 139.5,105.6 139.9,105.6 140.3,105.6 140.7,105.8 141.2,105.8 141.6,106.1 142.0,105.6 142.4,105.9 142.8,105.4 143.3,105.7 143.7,105.6 144.1,106.0 144.5,105.7 144.9,105.4 145.4,105.6 145.8,105.5 146.2,105.3 146.6,105.3 147.0,105.1 147.5,106.0 147.9,105.3 148.3,105.4 148.7,104.8 149.2,104.8 149.6,105.0 150.0,104.9 150.4,105.1 150.8,104.6 151.3,104.9 151.7,105.1 152.1,104.5 152.5,105.0 152.9,104.5 153.4,104.8 153.8,104.8 154.2,105.2 154.6,104.7 155.1,104.9 155.5,105.2 155.9,104.7 156.3,105.0 156.7,104.9 157.2,105.0 157.6,105.3 158.0,105.4 158.4,105.9 158.8,105.6 159.3,105.6 159.7,105.3 160.1,105.3 160.5,105.4 161.0,104.8 161.4,105.8 161.8,105.2 162.2,105.1 162.6,105.2 163.1,105.6 163.5,105.6 163.9,105.2 164.3,105.3 164.7,105.1 165.2,104.7 165.6,104.9 166.0,104.7 166.4,104.0 166.9,104.3 167.3,103.2 167.7,103.2 168.1,102.2 168.5,101.6 169.0,100.8 169.4,100.4 169.8,99.1 170.2,98.6 170.6,98.5 171.1,97.7 171.5,97.9 171.9,98.4 172.3,98.7 172.7,99.8 173.2,100.3 173.6,101.5 174.0,102.1 174.4,102.5 174.9,103.7 175.3,103.8 175.7,104.2 176.1,104.3 176.5,104.7 177.0,105.0 177.4,105.2 177.8,105.5 178.2,105.0 178.6,105.3 179.1,105.8 179.5,105.6 179.9,105.6 180.3,106.0 180.8,105.7 181.2,105.7 181.6,105.6 182.0,106.1 182.4,106.0 182.9,105.5 183.3,105.9 183.7,105.4 184.1,106.0 184.5,105.9 185.0,105.7 185.4,105.7 185.8,105.3 186.2,106.0 186.7,105.8 187.1,105.7 187.5,106.0 187.9,105.7 188.3,105.7 188.8,105.7 189.2,105.5 189.6,106.5 190.0,105.8 190.4,105.8 190.9,106.1 191.3,105.1 191.7,105.9 192.1,105.9 192.6,105.6 193.0,106.0 193.4,105.4 193.8,105.9 194.2,106.1 194.7,105.3 195.1,105.5 195.5,105.8 195.9,105.9 196.3,105.7 196.8,106.0 197.2,105.9 197.6,105.5 198.0,105.8 198.4,105.5 198.9,105.3 199.3,105.3 199.7,106.1 200.1,105.8 200.6,106.3 201.0,105.5 201.4,105.8 201.8,105.9 202.2,105.8 202.7,106.0 203.1,105.9 203.5,105.7 203.9,105.2 204.3,105.6 204.8,106.2 205.2,106.0 205.6,106.1 206.0,105.6 206.5,105.7 206.9,105.5 207.3,105.8 207.7,105.7 208.1,105.7 208.6,106.0 209.0,105.3 209.4,105.6 209.8,104.9 210.2,105.3 210.7,104.7 211.1,104.5 211.5,104.2 211.9,104.2 212.4,103.3 212.8,102.7 213.2,102.0 213.6,101.9 214.0,101.2 214.5,101.0 214.9,101.0 215.3,101.3 215.7,101.2 216.1,102.0 216.6,102.7 217.0,102.4 217.4,103.6 217.8,104.3 218.3,104.0 218.7,104.7 219.1,104.5 219.5,105.1 219.9,105.2 220.4,105.4 220.8,105.2 221.2,105.3 221.6,105.5 222.0,105.5 222.5,105.5 222.9,105.6 223.3,105.3 223.7,105.6 224.1,105.7 224.6,104.9 225.0,105.4 225.4,105.1 225.8,104.9 226.3,104.8 226.7,104.8 227.1,104.8 227.5,105.1 227.9,104.7 228.4,105.4 228.8,105.0 229.2,105.5 229.6,105.8 230.0,105.3 230.5,106.0 230.9,106.3 231.3,105.7 231.7,106.0 232.2,105.9 232.6,106.0 233.0,105.9 233.4,105.9 233.8,106.2 234.3,106.3 234.7,106.1 235.1,106.4 235.5,106.3 235.9,106.3 236.4,105.9 236.8,106.6 237.2,106.4 237.6,105.6 238.1,105.8 238.5,106.0 238.9,106.4 239.3,106.4 239.7,106.1 240.2,106.2 240.6,106.3 241.0,105.8 241.4,106.3 241.8,106.1 242.3,106.2 242.7,106.2 243.1,105.9 243.5,105.9 244.0,106.2 244.4,106.2 244.8,106.1 245.2,106.5 245.6,106.1 246.1,105.9 246.5,106.1 246.9,106.2 247.3,106.2 247.7,106.5 248.2,106.3 248.6,106.5 249.0,106.4 249.4,106.2 249.8,106.5 250.3,106.2 250.7,106.3 251.1,106.0 251.5,106.3 252.0,106.1 252.4,106.3 252.8,106.7 253.2,106.8 253.6,106.5 254.1,106.2 254.5,106.4 254.9,106.3 255.3,106.1 255.7,106.2 256.2,106.2 256.6,106.1 257.0,106.6 257.4,106.1 257.9,106.1 258.3,106.4 258.7,106.1 259.1,106.0 259.5,106.1 260.0,106.4 260.4,106.4 260.8,106.4 261.2,106.2 261.6,106.1 262.1,106.5 262.5,105.9 262.9,106.2 263.3,106.0 263.8,106.2 264.2,106.3 264.6,106.6 265.0,105.6 265.4,106.6 265.9,106.1 266.3,106.4 266.7,106.5 267.1,106.1 267.5,106.3 268.0,106.4 268.4,106.3 268.8,106.1 269.2,106.4 269.7,106.3 270.1,105.9 270.5,106.7 270.9,106.4 271.3,105.7 271.8,106.1 272.2,106.8 272.6,106.7 273.0,106.4 273.4,105.9 273.9,106.3 274.3,106.6 274.7,106.4 275.1,106.3 275.6,106.2 276.0,106.6 276.4,106.3 276.8,106.4 277.2,106.5 277.7,106.8 278.1,106.4 278.5,106.4 278.9,105.9 279.3,106.6 279.8,106.6 280.2,106.4 280.6,105.8 281.0,106.2 281.4,106.4 281.9,106.9 282.3,106.5 282.7,106.6 283.1,106.6 283.6,106.7 284.0,106.1 284.4,106.2 284.8,106.1 285.2,106.3 285.7,106.3 286.1,106.4 286.5,106.1 286.9,106.4 287.3,106.2 287.8,106.9 288.2,106.3 288.6,107.0 289.0,106.8 289.5,106.1 289.9,106.7 290.3,106.6 290.7,106.0 291.1,106.6 291.6,106.4 292.0,106.5 292.4,106.2 292.8,106.4 293.2,106.5 293.7,106.4 294.1,106.3 294.5,106.4 294.9,106.2 295.4,106.5 295.8,105.8 296.2,106.8 296.6,106.4 297.0,106.5 297.5,106.6 297.9,106.1 298.3,107.0 298.7,106.2 299.1,106.6 299.6,106.5 300.0,106.8 300.4,106.4 300.8,106.1 301.3,106.5 301.7,105.8 302.1,106.4 302.5,106.3 302.9,106.8 303.4,106.4 303.8,106.3 304.2,106.2 304.6,106.2 305.0,106.3 305.5,106.6 305.9,106.1 306.3,106.3 306.7,106.0 307.1,106.3 307.6,106.4 308.0,106.0 308.4,106.1 308.8,106.2 309.3,106.3 309.7,106.3 310.1,105.9 310.5,105.6 310.9,105.3 311.4,105.8 311.8,105.8 312.2,105.4 312.6,105.6 313.0,105.0 313.5,104.9 313.9,105.4 314.3,104.8 314.7,105.3 315.2,105.4 315.6,105.5 316.0,106.0 316.4,105.5 316.8,105.7 317.3,105.4 317.7,105.8 318.1,106.0 318.5,106.1 318.9,106.2 319.4,106.4 319.8,106.2 320.2,105.9 320.6,106.5 321.1,106.5 321.5,106.2 321.9,106.3 322.3,106.9 322.7,106.7 323.2,106.8 323.6,106.7 324.0,106.5 324.4,106.4 324.8,106.7 325.3,106.5 325.7,106.4 326.1,106.5 326.5,106.5 327.0,106.8 327.4,106.3 327.8,107.2 328.2,106.3 328.6,106.5 329.1,106.8 329.5,106.4 329.9,106.4" fill="none" stroke="#3aa860" stroke-width="1.5" stroke-linejoin="round"/>
<polyline points="35.4,78.7 35.8,78.6 36.2,78.9 36.7,79.0 37.1,79.2 37.5,79.0 37.9,78.8 38.3,78.7 38.8,79.1 39.2,79.3 39.6,79.0 40.0,78.6 40.5,78.7 40.9,79.3 41.3,79.0 41.7,78.5 42.1,78.9 42.6,78.6 43.0,78.8 43.4,78.8 43.8,78.7 44.2,79.0 44.7,78.9 45.1,78.8 45.5,79.0 45.9,79.1 46.4,78.5 46.8,78.8 47.2,78.6 47.6,78.8 48.0,78.6 48.5,78.9 48.9,78.9 49.3,78.8 49.7,78.6 50.1,78.8 50.6,78.6 51.0,78.5 51.4,78.9 51.8,78.5 52.3,79.1 52.7,79.0 53.1,78.3 53.5,78.8 53.9,78.5 54.4,78.7 54.8,78.7 55.2,78.2 55.6,78.6 56.0,78.5 56.5,78.8 56.9,78.2 57.3,78.7 57.7,78.2 58.2,78.3 58.6,78.1 59.0,78.6 59.4,78.3 59.8,78.7 60.3,78.1 60.7,78.1 61.1,78.0 61.5,77.5 61.9,77.5 62.4,77.8 62.8,77.2 63.2,77.2 63.6,77.0 64.0,77.1 64.5,76.7 64.9,76.6 65.3,76.6 65.7,76.5 66.2,76.1 66.6,76.5 67.0,75.9 67.4,75.8 67.8,75.8 68.3,76.3 68.7,76.0 69.1,75.8 69.5,75.8 69.9,76.2 70.4,75.8 70.8,75.8 71.2,76.3 71.6,75.8 72.1,76.0 72.5,75.9 72.9,75.6 73.3,75.4 73.7,75.4 74.2,74.3 74.6,73.3 75.0,72.0 75.4,71.1 75.8,69.3 76.3,67.6 76.7,65.3 77.1,63.2 77.5,61.2 78.0,59.8 78.4,59.2 78.8,59.4 79.2,60.6 79.6,62.9 80.1,64.6 80.5,66.4 80.9,69.3 81.3,70.9 81.7,72.2 82.2,74.1 82.6,74.9 83.0,75.6 83.4,76.3 83.9,76.7 84.3,77.3 84.7,77.8 85.1,77.7 85.5,78.0 86.0,78.5 86.4,77.8 86.8,78.3 87.2,78.2 87.6,78.1 88.1,78.1 88.5,78.4 88.9,78.6 89.3,78.4 89.7,78.5 90.2,78.7 90.6,78.7 91.0,78.8 91.4,78.7 91.9,78.7 92.3,79.1 92.7,78.8 93.1,78.6 93.5,78.8 94.0,78.4 94.4,78.5 94.8,78.7 95.2,78.6 95.6,78.7 96.1,78.2 96.5,77.7 96.9,78.3 97.3,77.8 97.8,76.9 98.2,77.0 98.6,76.1 99.0,75.1 99.4,74.8 99.9,74.2 100.3,74.2 100.7,73.2 101.1,73.3 101.5,73.5 102.0,73.9 102.4,74.4 102.8,75.3 103.2,76.2 103.7,76.6 104.1,76.8 104.5,77.2 104.9,77.8 105.3,77.9 105.8,78.1 106.2,78.0 106.6,79.1 107.0,78.9 107.4,78.5 107.9,79.0 108.3,79.2 108.7,78.3 109.1,78.8 109.6,78.8 110.0,79.1 110.4,79.0 110.8,78.9 111.2,79.0 111.7,79.5 112.1,79.6 112.5,78.9 112.9,78.8 113.3,79.8 113.8,78.8 114.2,79.0 114.6,79.1 115.0,79.2 115.5,79.4 115.9,79.2 116.3,78.9 116.7,79.3 117.1,79.2 117.6,79.6 118.0,79.2 118.4,78.8 118.8,78.9 119.2,79.5 119.7,79.0 120.1,78.7 120.5,79.0 120.9,79.2 121.3,79.5 121.8,78.9 122.2,79.4 122.6,79.4 123.0,79.0 123.5,79.2 123.9,79.7 124.3,79.6 124.7,79.4 125.1,79.3 125.6,79.5 126.0,79.2 126.4,79.2 126.8,79.0 127.2,79.2 127.7,79.2 128.1,79.9 128.5,79.2 128.9,79.6 129.4,79.6 129.8,79.2 130.2,79.5 130.6,78.7 131.0,79.3 131.5,79.5 131.9,78.7 132.3,79.0 132.7,79.5 133.1,79.2 133.6,79.0 134.0,79.2 134.4,79.1 134.8,79.4 135.3,79.4 135.7,79.2 136.1,79.1 136.5,79.3 136.9,79.6 137.4,79.4 137.8,79.4 138.2,79.2 138.6,79.0 139.0,79.1 139.5,79.4 139.9,79.3 140.3,79.1 140.7,78.9 141.2,79.3 141.6,79.2 142.0,79.2 142.4,79.2 142.8,79.4 143.3,79.4 143.7,79.5 144.1,79.5 144.5,79.6 144.9,79.5 145.4,79.2 145.8,79.3 146.2,79.4 146.6,79.2 147.0,79.4 147.5,79.6 147.9,79.1 148.3,78.9 148.7,79.6 149.2,79.3 149.6,79.5 150.0,79.0 150.4,79.7 150.8,79.5 151.3,79.3 151.7,79.2 152.1,79.3 152.5,79.2 152.9,79.2 153.4,79.0 153.8,79.6 154.2,79.3 154.6,79.3 155.1,79.3 155.5,78.7 155.9,79.4 156.3,79.2 156.7,79.2 157.2,79.3 157.6,79.0 158.0,79.4 158.4,79.0 158.8,79.0 159.3,79.0 159.7,79.2 160.1,79.3 160.5,79.0 161.0,78.7 161.4,79.4 161.8,78.8 162.2,79.3 162.6,79.0 163.1,78.8 163.5,78.8 163.9,79.0 164.3,79.0 164.7,78.7 165.2,78.8 165.6,78.9 166.0,78.1 166.4,77.6 166.9,77.3 167.3,76.7 167.7,76.4 168.1,75.7 168.5,74.8 169.0,74.4 169.4,72.8 169.8,72.2 170.2,72.3 170.6,71.5 171.1,71.1 171.5,71.1 171.9,71.8 172.3,72.2 172.7,72.9 173.2,73.4 173.6,74.5 174.0,75.2 174.4,75.9 174.9,76.6 175.3,77.2 175.7,77.6 176.1,78.2 176.5,78.0 177.0,78.5 177.4,79.1 177.8,78.8 178.2,79.2 178.6,79.2 179.1,79.3 179.5,79.2 179.9,78.7 180.3,79.0 180.8,79.0 181.2,78.8 181.6,79.1 182.0,78.9 182.4,78.8 182.9,79.3 183.3,79.3 183.7,79.1 184.1,79.1 184.5,79.2 185.0,79.2 185.4,79.2 185.8,79.3 186.2,79.2 186.7,79.4 187.1,79.5 187.5,79.4 187.9,79.2 188.3,79.2 188.8,79.5 189.2,79.3 189.6,79.4 190.0,78.8 190.4,78.7 190.9,79.5 191.3,79.5 191.7,79.8 192.1,79.6 192.6,79.5 193.0,79.4 193.4,79.1 193.8,79.6 194.2,79.3 194.7,79.5 195.1,79.5 195.5,79.5 195.9,79.6 196.3,79.3 196.8,79.3 197.2,79.2 197.6,79.3 198.0,79.8 198.4,79.3 198.9,79.7 199.3,79.6 199.7,79.6 200.1,79.6 200.6,79.2 201.0,79.5 201.4,79.8 201.8,79.2 202.2,79.4 202.7,79.2 203.1,79.4 203.5,79.1 203.9,79.8 204.3,79.2 204.8,78.9 205.2,79.8 205.6,79.5 206.0,79.4 206.5,79.4 206.9,79.1 207.3,79.1 207.7,79.3 208.1,79.3 208.6,79.2 209.0,78.9 209.4,78.6 209.8,78.5 210.2,78.6 210.7,78.4 211.1,77.6 211.5,77.2 211.9,77.1 212.4,76.4 212.8,75.7 213.2,74.6 213.6,74.2 214.0,73.6 214.5,73.5 214.9,72.8 215.3,73.7 215.7,73.8 216.1,74.4 216.6,74.6 217.0,75.5 217.4,76.5 217.8,76.3 218.3,77.3 218.7,77.9 219.1,77.9 219.5,78.5 219.9,78.5 220.4,79.1 220.8,79.0 221.2,79.0 221.6,79.5 222.0,79.3 222.5,79.4 222.9,78.8 223.3,78.9 223.7,79.3 224.1,79.3 224.6,79.0 225.0,79.1 225.4,78.5 225.8,78.7 226.3,78.3 226.7,78.6 227.1,78.4 227.5,78.3 227.9,78.6 228.4,79.1 228.8,78.5 229.2,78.7 229.6,79.3 230.0,79.0 230.5,79.6 230.9,79.3 231.3,79.4 231.7,79.5 232.2,79.9 232.6,79.6 233.0,79.6 233.4,79.6 233.8,79.1 234.3,79.3 234.7,79.9 235.1,79.8 235.5,79.7 235.9,79.7 236.4,79.4 236.8,79.7 237.2,79.4 237.6,79.7 238.1,79.4 238.5,79.6 238.9,79.7 239.3,79.5 239.7,79.8 240.2,79.7 240.6,79.7 241.0,80.0 241.4,79.3 241.8,79.2 242.3,79.8 242.7,79.9 243.1,80.2 243.5,79.8 244.0,79.9 244.4,79.4 244.8,79.9 245.2,79.8 245.6,79.4 246.1,79.4 246.5,79.6 246.9,79.7 247.3,78.9 247.7,79.7 248.2,79.7 248.6,79.6 249.0,79.8 249.4,79.8 249.8,79.4 250.3,79.8 250.7,79.6 251.1,79.5 251.5,79.7 252.0,80.1 252.4,79.3 252.8,79.3 253.2,79.3 253.6,80.2 254.1,79.6 254.5,79.7 254.9,79.5 255.3,79.5 255.7,79.2 256.2,79.8 256.6,79.8 257.0,79.2 257.4,79.5 257.9,79.5 258.3,79.7 258.7,79.8 259.1,80.0 259.5,80.1 260.0,80.0 260.4,80.1 260.8,79.4 261.2,79.6 261.6,80.0 262.1,79.8 262.5,79.7 262.9,79.2 263.3,79.3 263.8,79.9 264.2,79.8 264.6,79.7 265.0,79.6 265.4,79.3 265.9,79.8 266.3,80.0 266.7,80.2 267.1,79.8 267.5,79.7 268.0,79.5 268.4,80.0 268.8,80.2 269.2,79.6 269.7,79.8 270.1,79.8 270.5,79.6 270.9,79.1 271.3,79.6 271.8,79.9 272.2,79.3 272.6,79.5 273.0,78.8 273.4,79.9 273.9,79.7 274.3,79.5 274.7,79.4 275.1,79.2 275.6,79.2 276.0,79.1 276.4,79.0 276.8,78.9 277.2,78.9 277.7,79.2 278.1,78.5 278.5,78.9 278.9,78.8 279.3,78.8 279.8,78.6 280.2,79.4 280.6,79.1 281.0,79.3 281.4,79.7 281.9,79.3 282.3,79.7 282.7,79.7 283.1,79.9 283.6,80.0 284.0,79.5 284.4,80.0 284.8,79.7 285.2,79.8 285.7,79.7 286.1,80.0 286.5,79.5 286.9,79.9 287.3,80.1 287.8,79.7 288.2,80.3 288.6,79.6 289.0,79.9 289.5,79.7 289.9,79.7 290.3,79.5 290.7,79.7 291.1,79.8 291.6,79.6 292.0,80.1 292.4,80.2 292.8,79.5 293.2,80.0 293.7,79.9 294.1,79.9 294.5,80.5 294.9,80.1 295.4,79.9 295.8,79.9 296.2,79.3 296.6,80.0 297.0,79.7 297.5,79.9 297.9,79.9 298.3,80.1 298.7,80.4 299.1,80.1 299.6,80.2 300.0,79.8 300.4,80.0 300.8,80.0 301.3,79.5 301.7,80.4 302.1,79.7 302.5,79.5 302.9,80.3 303.4,80.4 303.8,79.7 304.2,79.7 304.6,80.6 305.0,79.9 305.5,79.3 305.9,79.7 306.3,80.3 306.7,79.9 307.1,80.0 307.6,80.0 308.0,79.9 308.4,79.6 308.8,79.2 309.3,79.6 309.7,79.2 310.1,79.3 310.5,79.7 310.9,79.3 311.4,79.0 311.8,78.9 312.2,78.9 312.6,78.8 313.0,78.2 313.5,78.5 313.9,78.9 314.3,78.7 314.7,78.4 315.2,78.5 315.6,78.3 316.0,78.8 316.4,79.5 316.8,79.2 317.3,79.2 317.7,79.3 318.1,79.5 318.5,79.6 318.9,79.6 319.4,79.5 319.8,79.9 320.2,80.2 320.6,79.7 321.1,79.7 321.5,80.2 321.9,79.5 322.3,79.7 322.7,79.8 323.2,79.9 323.6,79.8 324.0,79.7 324.4,80.0 324.8,79.6 325.3,79.5 325.7,79.4 326.1,80.1 326.5,79.5 327.0,80.1 327.4,80.1 327.8,80.2 328.2,79.9 328.6,79.8 329.1,80.0 329.5,79.8 329.9,79.6" fill="none" stroke="#b070e8" stroke-width="1.5" stroke-linejoin="round"/>
<polyline points="35.4,53.3 35.8,53.5 36.2,52.4 36.7,53.0 37.1,53.3 37.5,53.4 37.9,53.2 38.3,53.4 38.8,53.1 39.2,53.2 39.6,53.1 40.0,52.7 40.5,52.8 40.9,53.1 41.3,52.8 41.7,53.3 42.1,53.3 42.6,53.4 43.0,53.0 43.4,53.3 43.8,52.7 44.2,52.7 44.7,53.0 45.1,53.0 45.5,52.5 45.9,52.5 46.4,53.0 46.8,52.7 47.2,53.2 47.6,53.0 48.0,52.9 48.5,52.9 48.9,53.0 49.3,52.8 49.7,53.0 50.1,52.6 50.6,52.7 51.0,52.5 51.4,52.8 51.8,52.6 52.3,52.4 52.7,53.0 53.1,52.4 53.5,52.4 53.9,52.5 54.4,52.8 54.8,52.2 55.2,52.3 55.6,52.1 56.0,51.6 56.5,52.1 56.9,52.0 57.3,51.6 57.7,51.5 58.2,51.0 58.6,50.8 59.0,50.9 59.4,51.0 59.8,50.5 60.3,50.5 60.7,50.5 61.1,50.0 61.5,49.9 61.9,49.9 62.4,48.9 62.8,49.2 63.2,48.3 63.6,48.6 64.0,48.3 64.5,47.8 64.9,47.5 65.3,47.5 65.7,47.2 66.2,47.1 66.6,46.6 67.0,46.8 67.4,46.3 67.8,46.3 68.3,46.2 68.7,46.6 69.1,45.9 69.5,46.1 69.9,46.6 70.4,46.1 70.8,46.0 71.2,46.5 71.6,46.4 72.1,46.7 72.5,46.3 72.9,46.5 73.3,46.5 73.7,46.4 74.2,45.6 74.6,45.8 75.0,44.7 75.4,44.0 75.8,43.4 76.3,42.9 76.7,42.0 77.1,41.4 77.5,40.7 78.0,40.3 78.4,40.0 78.8,40.8 79.2,40.4 79.6,41.4 80.1,42.7 80.5,43.7 80.9,44.5 81.3,46.1 81.7,47.1 82.2,47.6 82.6,49.2 83.0,50.0 83.4,50.5 83.9,50.5 84.3,51.1 84.7,51.1 85.1,51.6 85.5,51.6 86.0,52.0 86.4,52.0 86.8,52.4 87.2,52.4 87.6,52.6 88.1,52.0 88.5,52.0 88.9,52.6 89.3,52.4 89.7,52.6 90.2,52.6 90.6,52.6 91.0,52.9 91.4,52.8 91.9,52.8 92.3,52.5 92.7,53.1 93.1,52.7 93.5,53.0 94.0,52.8 94.4,53.0 94.8,52.7 95.2,52.7 95.6,52.7 96.1,52.4 96.5,52.4 96.9,52.4 97.3,52.2 97.8,51.8 98.2,52.5 98.6,51.4 99.0,51.3 99.4,51.7 99.9,50.6 100.3,50.7 100.7,50.5 101.1,50.3 101.5,50.1 102.0,50.3 102.4,50.9 102.8,51.4 103.2,51.0 103.7,51.9 104.1,51.9 104.5,52.5 104.9,52.5 105.3,52.4 105.8,52.6 106.2,52.8 106.6,53.2 107.0,53.7 107.4,53.0 107.9,53.0 108.3,53.2 108.7,53.0 109.1,53.2 109.6,53.1 110.0,53.1 110.4,52.9 110.8,53.1 111.2,53.3 111.7,53.1 112.1,53.5 112.5,53.3 112.9,53.1 113.3,53.6 113.8,52.8 114.2,53.4 114.6,53.6 115.0,53.1 115.5,53.1 115.9,53.4 116.3,53.5 116.7,53.3 117.1,53.2 117.6,53.4 118.0,53.2 118.4,52.9 118.8,53.1 119.2,53.2 119.7,52.8 120.1,53.3 120.5,53.0 120.9,53.4 121.3,52.8 121.8,53.0 122.2,52.8 122.6,53.5 123.0,53.5 123.5,53.6 123.9,53.6 124.3,53.4 124.7,53.4 125.1,52.8 125.6,53.3 126.0,53.1 126.4,53.1 126.8,52.9 127.2,53.5 127.7,53.2 128.1,52.8 128.5,53.3 128.9,53.2 129.4,52.9 129.8,53.1 130.2,53.0 130.6,52.6 131.0,52.8 131.5,53.3 131.9,53.2 132.3,53.2 132.7,52.8 133.1,53.0 133.6,53.1 134.0,53.3 134.4,52.9 134.8,52.8 135.3,53.4 135.7,53.1 136.1,53.0 136.5,52.9 136.9,52.9 137.4,53.4 137.8,53.3 138.2,52.9 138.6,52.7 139.0,53.4 139.5,53.4 139.9,53.2 140.3,53.1 140.7,52.4 141.2,52.5 141.6,52.9 142.0,52.7 142.4,52.8 142.8,52.5 143.3,52.4 143.7,52.6 144.1,52.3 144.5,52.3 144.9,52.3 145.4,52.2 145.8,52.3 146.2,52.3 146.6,51.5 147.0,51.6 147.5,51.4 147.9,51.6 148.3,51.0 148.7,51.3 149.2,51.2 149.6,51.0 150.0,50.5 150.4,50.5 150.8,50.2 151.3,50.5 151.7,50.5 152.1,49.9 152.5,50.0 152.9,50.2 153.4,50.1 153.8,50.7 154.2,50.3 154.6,50.5 155.1,50.3 155.5,51.1 155.9,50.8 156.3,51.1 156.7,51.1 157.2,50.7 157.6,50.9 158.0,51.1 158.4,51.7 158.8,51.6 159.3,51.9 159.7,52.0 160.1,52.1 160.5,52.3 161.0,52.2 161.4,51.8 161.8,52.1 162.2,52.7 162.6,52.1 163.1,52.7 163.5,52.8 163.9,52.2 164.3,52.4 164.7,51.9 165.2,52.3 165.6,51.8 166.0,51.5 166.4,51.5 166.9,51.2 167.3,50.9 167.7,50.7 168.1,50.2 168.5,49.6 169.0,49.6 169.4,49.5 169.8,48.4 170.2,47.9 170.6,47.5 171.1,47.8 171.5,47.6 171.9,47.9 172.3,47.7 172.7,48.3 173.2,48.7 173.6,49.8 174.0,49.9 174.4,49.8 174.9,51.0 175.3,51.5 175.7,51.9 176.1,51.1 176.5,52.1 177.0,52.4 177.4,52.5 177.8,52.4 178.2,52.1 178.6,52.5 179.1,52.6 179.5,52.9 179.9,52.9 180.3,52.7 180.8,53.0 181.2,52.5 181.6,52.6 182.0,52.7 182.4,52.9 182.9,52.6 183.3,53.0 183.7,52.7 184.1,52.3 184.5,52.5 185.0,52.2 185.4,52.1 185.8,51.9 186.2,52.5 186.7,52.3 187.1,51.6 187.5,52.1 187.9,52.0 188.3,51.5 188.8,51.6 189.2,51.9 189.6,51.3 190.0,51.2 190.4,51.3 190.9,50.7 191.3,50.6 191.7,50.5 192.1,50.8 192.6,51.0 193.0,50.6 193.4,50.5 193.8,51.0 194.2,50.9 194.7,51.3 195.1,51.2 195.5,51.3 195.9,51.5 196.3,51.6 196.8,51.5 197.2,51.6 197.6,52.4 198.0,52.9 198.4,52.5 198.9,51.9 199.3,52.4 199.7,52.8 200.1,52.2 200.6,52.5 201.0,52.6 201.4,52.6 201.8,52.6 202.2,53.1 202.7,52.8 203.1,52.9 203.5,53.4 203.9,52.8 204.3,52.5 204.8,53.2 205.2,53.5 205.6,53.1 206.0,53.1 206.5,52.7 206.9,52.8 207.3,53.4 207.7,53.3 208.1,53.1 208.6,52.8 209.0,52.6 209.4,52.5 209.8,52.4 210.2,52.7 210.7,52.2 211.1,52.1 211.5,52.2 211.9,51.9 212.4,51.5 212.8,51.3 213.2,50.9 213.6,50.1 214.0,50.3 214.5,50.1 214.9,50.0 215.3,50.3 215.7,50.2 216.1,50.9 216.6,50.8 217.0,51.2 217.4,51.5 217.8,51.7 218.3,52.2 218.7,52.4 219.1,52.6 219.5,52.4 219.9,52.5 220.4,52.7 220.8,53.0 221.2,52.6 221.6,52.9 222.0,52.8 222.5,53.0 222.9,52.9 223.3,53.4 223.7,53.3 224.1,53.5 224.6,53.0 225.0,53.1 225.4,53.2 225.8,53.7 226.3,53.7 226.7,53.1 227.1,53.5 227.5,53.9 227.9,53.1 228.4,53.3 228.8,53.7 229.2,53.5 229.6,53.1 230.0,53.7 230.5,53.6 230.9,53.5 231.3,53.1 231.7,53.3 232.2,53.7 232.6,53.5 233.0,53.6 233.4,53.3 233.8,53.8 234.3,53.3 234.7,53.6 235.1,53.5 235.5,53.2 235.9,53.8 236.4,53.1 236.8,53.2 237.2,53.4 237.6,53.1 238.1,53.0 238.5,53.4 238.9,53.3 239.3,53.3 239.7,53.5 240.2,54.0 240.6,53.3 241.0,54.0 241.4,53.5 241.8,53.4 242.3,52.7 242.7,53.0 243.1,53.5 243.5,53.6 244.0,53.2 244.4,53.5 244.8,53.7 245.2,53.3 245.6,53.0 246.1,53.2 246.5,53.4 246.9,53.5 247.3,53.6 247.7,53.2 248.2,53.4 248.6,53.4 249.0,53.4 249.4,53.7 249.8,53.8 250.3,53.3 250.7,53.3 251.1,53.3 251.5,53.3 252.0,53.3 252.4,53.4 252.8,53.3 253.2,53.2 253.6,53.2 254.1,53.5 254.5,54.1 254.9,53.6 255.3,53.6 255.7,53.5 256.2,53.4 256.6,54.0 257.0,53.4 257.4,53.2 257.9,53.2 258.3,53.5 258.7,53.2 259.1,53.2 259.5,53.2 260.0,53.1 260.4,53.5 260.8,53.0 261.2,54.0 261.6,52.8 262.1,53.1 262.5,53.5 262.9,53.6 263.3,53.4 263.8,53.5 264.2,53.5 264.6,53.5 265.0,53.6 265.4,53.5 265.9,53.5 266.3,53.5 266.7,53.7 267.1,53.4 267.5,53.6 268.0,53.9 268.4,53.6 268.8,53.8 269.2,53.4 269.7,53.6 270.1,53.6 270.5,53.6 270.9,53.6 271.3,53.9 271.8,53.4 272.2,53.3 272.6,53.6 273.0,53.1 273.4,53.5 273.9,53.8 274.3,53.5 274.7,53.6 275.1,53.6 275.6,53.8 276.0,53.6 276.4,53.6 276.8,52.7 277.2,53.4 277.7,53.7 278.1,53.5 278.5,53.3 278.9,53.7 279.3,53.3 279.8,53.4 280.2,53.7 280.6,53.4 281.0,53.6 281.4,53.5 281.9,53.2 282.3,53.4 282.7,53.4 283.1,53.3 283.6,53.8 284.0,53.5 284.4,53.3 284.8,53.2 285.2,53.4 285.7,53.8 286.1,53.4 286.5,53.7 286.9,53.6 287.3,53.4 287.8,53.3 288.2,53.6 288.6,53.1 289.0,53.7 289.5,53.2 289.9,53.7 290.3,53.4 290.7,53.5 291.1,53.8 291.6,53.3 292.0,53.5 292.4,53.4 292.8,53.6 293.2,53.7 293.7,53.6 294.1,53.6 294.5,53.4 294.9,53.7 295.4,53.5 295.8,53.6 296.2,53.6 296.6,53.2 297.0,53.2 297.5,53.6 297.9,53.5 298.3,53.8 298.7,52.9 299.1,53.6 299.6,53.8 300.0,53.6 300.4,53.7 300.8,53.5 301.3,53.5 301.7,53.8 302.1,53.2 302.5,53.0 302.9,53.7 303.4,53.6 303.8,53.6 304.2,53.6 304.6,53.7 305.0,53.4 305.5,53.7 305.9,53.6 306.3,53.3 306.7,53.5 307.1,53.6 307.6,53.4 308.0,53.8 308.4,53.5 308.8,53.8 309.3,53.9 309.7,53.2 310.1,53.2 310.5,53.7 310.9,53.5 311.4,53.7 311.8,54.0 312.2,53.4 312.6,53.8 313.0,53.5 313.5,53.4 313.9,53.7 314.3,53.6 314.7,53.8 315.2,53.6 315.6,53.8 316.0,53.7 316.4,53.1 316.8,53.5 317.3,53.5 317.7,53.8 318.1,53.3 318.5,53.6 318.9,53.5 319.4,53.1 319.8,53.5 320.2,53.7 320.6,53.5 321.1,53.8 321.5,53.7 321.9,53.7 322.3,53.5 322.7,53.5 323.2,53.7 323.6,53.6 324.0,53.3 324.4,53.5 324.8,53.7 325.3,53.9 325.7,53.8 326.1,53.3 326.5,53.8 327.0,53.2 327.4,53.4 327.8,53.4 328.2,54.0 328.6,53.8 329.1,53.7 329.5,53.4 329.9,53.9" fill="none" stroke="#c99a18" stroke-width="1.5" stroke-linejoin="round"/>
<polyline points="35.4,28.4 35.8,28.5 36.2,28.4 36.7,28.2 37.1,28.3 37.5,28.2 37.9,28.4 38.3,28.7 38.8,28.3 39.2,28.2 39.6,28.5 40.0,28.5 40.5,28.4 40.9,28.2 41.3,28.4 41.7,28.5 42.1,28.0 42.6,28.2 43.0,27.9 43.4,28.0 43.8,27.9 44.2,28.3 44.7,28.0 45.1,28.4 45.5,28.3 45.9,28.2 46.4,27.7 46.8,28.1 47.2,28.2 47.6,28.3 48.0,27.8 48.5,28.1 48.9,27.9 49.3,28.0 49.7,28.4 50.1,27.9 50.6,28.1 51.0,28.3 51.4,27.9 51.8,28.0 52.3,28.0 52.7,27.9 53.1,27.5 53.5,27.8 53.9,28.0 54.4,27.2 54.8,27.8 55.2,27.5 55.6,27.2 56.0,27.7 56.5,27.3 56.9,26.7 57.3,26.8 57.7,26.8 58.2,26.4 58.6,26.5 59.0,26.1 59.4,26.1 59.8,26.0 60.3,25.3 60.7,25.2 61.1,24.8 61.5,24.7 61.9,24.1 62.4,24.0 62.8,23.8 63.2,23.7 63.6,23.5 64.0,22.6 64.5,22.4 64.9,22.5 65.3,21.6 65.7,21.7 66.2,21.5 66.6,21.7 67.0,21.3 67.4,20.9 67.8,20.8 68.3,20.7 68.7,21.1 69.1,20.6 69.5,20.7 69.9,20.9 70.4,20.8 70.8,20.9 71.2,20.8 71.6,21.2 72.1,21.2 72.5,21.8 72.9,21.7 73.3,21.6 73.7,21.7 74.2,21.4 74.6,21.6 75.0,21.1 75.4,20.9 75.8,20.1 76.3,20.1 76.7,19.1 77.1,18.6 77.5,18.7 78.0,18.3 78.4,18.6 78.8,19.4 79.2,19.1 79.6,19.8 80.1,20.8 80.5,21.8 80.9,22.4 81.3,23.2 81.7,24.2 82.2,24.8 82.6,25.0 83.0,25.8 83.4,26.2 83.9,26.3 84.3,26.9 84.7,26.9 85.1,27.5 85.5,27.5 86.0,27.6 86.4,27.5 86.8,27.7 87.2,27.3 87.6,27.6 88.1,28.0 88.5,27.4 88.9,28.2 89.3,27.6 89.7,28.2 90.2,27.9 90.6,28.3 91.0,28.2 91.4,27.8 91.9,28.5 92.3,28.5 92.7,28.2 93.1,28.1 93.5,28.2 94.0,28.0 94.4,28.5 94.8,28.1 95.2,28.2 95.6,28.0 96.1,28.0 96.5,27.8 96.9,28.3 97.3,27.9 97.8,28.0 98.2,27.6 98.6,27.3 99.0,27.2 99.4,26.9 99.9,26.8 100.3,26.5 100.7,26.4 101.1,26.2 101.5,26.4 102.0,27.2 102.4,26.8 102.8,26.9 103.2,27.5 103.7,28.0 104.1,27.4 104.5,27.9 104.9,27.9 105.3,27.8 105.8,28.5 106.2,28.3 106.6,28.4 107.0,28.2 107.4,28.6 107.9,28.3 108.3,28.4 108.7,28.2 109.1,28.2 109.6,28.8 110.0,28.4 110.4,28.6 110.8,28.5 111.2,28.4 111.7,28.4 112.1,28.7 112.5,28.5 112.9,28.5 113.3,28.6 113.8,28.9 114.2,28.8 114.6,28.7 115.0,28.5 115.5,28.3 115.9,28.8 116.3,28.8 116.7,28.6 117.1,28.7 117.6,28.8 118.0,28.8 118.4,28.9 118.8,28.5 119.2,29.0 119.7,28.3 120.1,28.8 120.5,28.8 120.9,28.9 121.3,29.1 121.8,29.0 122.2,28.4 122.6,28.2 123.0,28.8 123.5,28.4 123.9,28.6 124.3,28.9 124.7,28.2 125.1,28.1 125.6,28.7 126.0,28.7 126.4,28.6 126.8,28.7 127.2,28.4 127.7,28.3 128.1,28.6 128.5,28.4 128.9,28.2 129.4,28.8 129.8,28.6 130.2,28.7 130.6,28.4 131.0,28.5 131.5,28.4 131.9,28.4 132.3,28.7 132.7,28.4 133.1,28.7 133.6,28.7 134.0,29.1 134.4,28.3 134.8,28.8 135.3,28.6 135.7,28.6 136.1,28.2 136.5,28.5 136.9,28.8 137.4,28.6 137.8,28.6 138.2,28.5 138.6,28.8 139.0,28.5 139.5,28.0 139.9,28.3 140.3,28.0 140.7,27.7 141.2,28.3 141.6,28.7 142.0,28.4 142.4,28.0 142.8,28.1 143.3,28.5 143.7,28.2 144.1,28.2 144.5,28.1 144.9,28.0 145.4,28.1 145.8,28.0 146.2,27.8 146.6,27.4 147.0,27.7 147.5,27.3 147.9,27.7 148.3,27.0 148.7,27.2 149.2,27.1 149.6,26.7 150.0,27.3 150.4,27.2 150.8,26.6 151.3,26.8 151.7,26.7 152.1,25.9 152.5,26.6 152.9,26.5 153.4,26.6 153.8,26.3 154.2,26.6 154.6,26.7 155.1,27.1 155.5,27.0 155.9,27.0 156.3,27.5 156.7,27.0 157.2,27.2 157.6,26.9 158.0,27.9 158.4,27.8 158.8,27.9 159.3,27.9 159.7,27.8 160.1,27.9 160.5,27.9 161.0,27.9 161.4,28.1 161.8,28.5 162.2,28.2 162.6,28.1 163.1,28.0 163.5,28.0 163.9,28.5 164.3,28.2 164.7,28.1 165.2,27.9 165.6,27.7 166.0,27.8 166.4,27.9 166.9,27.4 167.3,27.2 167.7,27.0 168.1,26.8 168.5,26.1 169.0,26.1 169.4,25.7 169.8,25.8 170.2,25.2 170.6,25.3 171.1,25.5 171.5,25.0 171.9,25.1 172.3,25.5 172.7,25.7 173.2,25.8 173.6,26.4 174.0,27.1 174.4,26.9 174.9,27.2 175.3,27.2 175.7,27.7 176.1,27.5 176.5,27.7 177.0,28.4 177.4,28.0 177.8,28.5 178.2,28.7 178.6,28.4 179.1,28.5 179.5,28.9 179.9,28.4 180.3,28.3 180.8,28.1 181.2,28.5 181.6,28.8 182.0,28.7 182.4,28.2 182.9,28.2 183.3,28.3 183.7,28.5 184.1,28.3 184.5,28.4 185.0,28.3 185.4,28.1 185.8,28.2 186.2,28.2 186.7,28.0 187.1,28.1 187.5,28.4 187.9,28.0 188.3,27.8 188.8,27.3 189.2,27.7 189.6,27.0 190.0,27.1 190.4,27.6 190.9,27.5 191.3,27.2 191.7,26.8 192.1,27.1 192.6,27.1 193.0,27.4 193.4,27.8 193.8,27.4 194.2,27.2 194.7,27.1 195.1,27.5 195.5,27.5 195.9,27.4 196.3,27.8 196.8,27.5 197.2,28.2 197.6,28.3 198.0,28.3 198.4,28.0 198.9,28.3 199.3,28.2 199.7,28.2 200.1,28.3 200.6,28.1 201.0,28.1 201.4,28.7 201.8,28.5 202.2,28.6 202.7,28.8 203.1,28.2 203.5,28.4 203.9,28.7 204.3,28.7 204.8,28.6 205.2,28.9 205.6,28.7 206.0,28.4 206.5,28.4 206.9,28.9 207.3,28.8 207.7,28.1 208.1,28.9 208.6,28.7 209.0,28.9 209.4,28.4 209.8,28.3 210.2,28.0 210.7,28.8 211.1,28.0 211.5,28.2 211.9,27.5 212.4,27.5 212.8,26.8 213.2,26.9 213.6,27.0 214.0,26.2 214.5,26.7 214.9,26.5 215.3,26.2 215.7,26.4 216.1,26.6 216.6,26.9 217.0,27.1 217.4,27.2 217.8,27.6 218.3,27.6 218.7,27.7 219.1,28.2 219.5,28.6 219.9,28.1 220.4,28.5 220.8,28.4 221.2,28.4 221.6,28.9 222.0,28.6 222.5,29.1 222.9,28.6 223.3,28.9 223.7,28.8 224.1,28.6 224.6,29.0 225.0,28.8 225.4,29.0 225.8,28.8 226.3,28.6 226.7,28.8 227.1,28.9 227.5,29.1 227.9,28.7 228.4,28.9 228.8,28.5 229.2,29.1 229.6,28.6 230.0,28.5 230.5,28.9 230.9,29.2 231.3,28.5 231.7,28.7 232.2,28.7 232.6,28.7 233.0,29.0 233.4,28.7 233.8,28.8 234.3,29.1 234.7,28.8 235.1,29.1 235.5,28.7 235.9,28.7 236.4,28.5 236.8,29.4 237.2,28.9 237.6,29.0 238.1,29.0 238.5,29.0 238.9,29.0 239.3,29.4 239.7,28.7 240.2,28.6 240.6,28.7 241.0,28.6 241.4,29.2 241.8,29.2 242.3,28.7 242.7,28.6 243.1,28.9 243.5,29.3 244.0,28.3 244.4,29.1 244.8,28.7 245.2,29.3 245.6,28.7 246.1,28.9 246.5,28.6 246.9,28.8 247.3,29.3 247.7,29.2 248.2,28.9 248.6,28.8 249.0,28.5 249.4,28.9 249.8,29.0 250.3,29.0 250.7,29.0 251.1,28.7 251.5,29.0 252.0,29.0 252.4,29.3 252.8,29.5 253.2,29.0 253.6,28.8 254.1,29.0 254.5,28.9 254.9,28.8 255.3,29.0 255.7,28.8 256.2,29.2 256.6,29.0 257.0,29.1 257.4,29.0 257.9,28.8 258.3,28.8 258.7,29.0 259.1,28.9 259.5,29.1 260.0,29.0 260.4,28.7 260.8,29.1 261.2,28.7 261.6,28.9 262.1,29.0 262.5,28.5 262.9,29.1 263.3,29.1 263.8,29.0 264.2,28.9 264.6,29.0 265.0,28.8 265.4,29.0 265.9,28.9 266.3,29.1 266.7,28.8 267.1,29.1 267.5,29.1 268.0,29.0 268.4,28.9 268.8,29.2 269.2,28.6 269.7,29.2 270.1,29.1 270.5,29.1 270.9,29.2 271.3,28.9 271.8,29.0 272.2,29.2 272.6,29.2 273.0,29.1 273.4,28.7 273.9,29.2 274.3,29.4 274.7,29.3 275.1,29.1 275.6,28.7 276.0,29.3 276.4,29.0 276.8,28.4 277.2,29.2 277.7,28.7 278.1,28.8 278.5,28.9 278.9,29.4 279.3,29.0 279.8,29.2 280.2,29.5 280.6,29.5 281.0,29.1 281.4,29.0 281.9,28.8 282.3,28.9 282.7,29.2 283.1,29.2 283.6,29.1 284.0,29.3 284.4,28.9 284.8,29.1 285.2,29.3 285.7,29.2 286.1,29.4 286.5,29.2 286.9,29.0 287.3,29.2 287.8,28.9 288.2,28.7 288.6,29.2 289.0,29.1 289.5,29.2 289.9,28.7 290.3,29.0 290.7,29.0 291.1,28.9 291.6,28.5 292.0,29.0 292.4,29.3 292.8,29.2 293.2,29.0 293.7,29.1 294.1,29.3 294.5,28.4 294.9,29.1 295.4,29.3 295.8,29.3 296.2,29.5 296.6,29.4 297.0,29.2 297.5,29.2 297.9,29.3 298.3,29.0 298.7,29.1 299.1,29.4 299.6,29.6 300.0,29.1 300.4,29.1 300.8,29.2 301.3,29.5 301.7,29.1 302.1,29.5 302.5,28.9 302.9,29.1 303.4,29.1 303.8,29.3 304.2,29.4 304.6,28.8 305.0,28.9 305.5,29.2 305.9,29.0 306.3,28.8 306.7,29.4 307.1,29.3 307.6,29.3 308.0,29.0 308.4,29.4 308.8,29.1 309.3,29.4 309.7,28.9 310.1,28.9 310.5,29.2 310.9,29.0 311.4,29.3 311.8,29.2 312.2,28.9 312.6,29.2 313.0,29.1 313.5,29.4 313.9,29.0 314.3,29.0 314.7,29.5 315.2,29.7 315.6,29.7 316.0,29.2 316.4,29.2 316.8,29.5 317.3,29.1 317.7,28.9 318.1,29.2 318.5,29.3 318.9,29.0 319.4,28.8 319.8,28.8 320.2,29.3 320.6,29.0 321.1,29.1 321.5,29.2 321.9,29.3 322.3,29.1 322.7,29.3 323.2,29.0 323.6,29.1 324.0,28.9 324.4,29.5 324.8,29.2 325.3,29.0 325.7,29.1 326.1,29.1 326.5,29.4 327.0,28.8 327.4,28.9 327.8,29.1 328.2,29.8 328.6,29.4 329.1,29.2 329.5,29.4 329.9,29.7" fill="none" stroke="#22c4c8" stroke-width="1.5" stroke-linejoin="round"/>
<rect x="35.4" y="11.3" width="294.5" height="183.5" fill="none" stroke="#222" stroke-width="1.3"/>
<line x1="35.4" y1="194.8" x2="35.4" y2="197.9" stroke="#222" stroke-width="1.1"/>
<line x1="59.94" y1="194.8" x2="59.94" y2="196.5" stroke="#222" stroke-width="1.1"/>
<line x1="84.48" y1="194.8" x2="84.48" y2="197.9" stroke="#222" stroke-width="1.1"/>
<line x1="109.03" y1="194.8" x2="109.03" y2="196.5" stroke="#222" stroke-width="1.1"/>
<line x1="133.57" y1="194.8" x2="133.57" y2="197.9" stroke="#222" stroke-width="1.1"/>
<line x1="158.11" y1="194.8" x2="158.11" y2="196.5" stroke="#222" stroke-width="1.1"/>
<line x1="182.65" y1="194.8" x2="182.65" y2="197.9" stroke="#222" stroke-width="1.1"/>
<line x1="207.19" y1="194.8" x2="207.19" y2="196.5" stroke="#222" stroke-width="1.1"/>
<line x1="231.73" y1="194.8" x2="231.73" y2="197.9" stroke="#222" stroke-width="1.1"/>
<line x1="256.27" y1="194.8" x2="256.27" y2="196.5" stroke="#222" stroke-width="1.1"/>
<line x1="280.82" y1="194.8" x2="280.82" y2="197.9" stroke="#222" stroke-width="1.1"/>
<line x1="305.36" y1="194.8" x2="305.36" y2="196.5" stroke="#222" stroke-width="1.1"/>
<line x1="329.9" y1="194.8" x2="329.9" y2="197.9" stroke="#222" stroke-width="1.1"/>
<text x="35.4" y="206.9" font-size="8.4" stroke="#000" stroke-width="0.25" text-anchor="middle" font-weight="bold" textLength="9.6" lengthAdjust="spacingAndGlyphs">20</text>
<text x="84.48" y="206.9" font-size="8.4" stroke="#000" stroke-width="0.25" text-anchor="middle" font-weight="bold" textLength="9.6" lengthAdjust="spacingAndGlyphs">30</text>
<text x="133.57" y="206.9" font-size="8.4" stroke="#000" stroke-width="0.25" text-anchor="middle" font-weight="bold" textLength="9.6" lengthAdjust="spacingAndGlyphs">40</text>
<text x="182.65" y="206.9" font-size="8.4" stroke="#000" stroke-width="0.25" text-anchor="middle" font-weight="bold" textLength="9.6" lengthAdjust="spacingAndGlyphs">50</text>
<text x="231.73" y="206.9" font-size="8.4" stroke="#000" stroke-width="0.25" text-anchor="middle" font-weight="bold" textLength="9.6" lengthAdjust="spacingAndGlyphs">60</text>
<text x="280.82" y="206.9" font-size="8.4" stroke="#000" stroke-width="0.25" text-anchor="middle" font-weight="bold" textLength="9.6" lengthAdjust="spacingAndGlyphs">70</text>
<text x="329.9" y="206.9" font-size="8.4" stroke="#000" stroke-width="0.25" text-anchor="middle" font-weight="bold" textLength="9.6" lengthAdjust="spacingAndGlyphs">80</text>
<text x="182.6" y="218.2" font-size="10.2" stroke="#000" stroke-width="0.35" text-anchor="middle" font-weight="bold" textLength="86.5" lengthAdjust="spacingAndGlyphs">2 Theta (Degree)</text>
<text x="0" y="0" font-size="10.2" stroke="#000" stroke-width="0.2" text-anchor="middle" font-weight="bold" textLength="75" lengthAdjust="spacingAndGlyphs" transform="translate(22.8,103.6) rotate(-90)">Intensity (a.u.)</text>
<text x="12" y="13.9" font-size="15.8" stroke="#000" stroke-width="0.25" font-weight="bold" textLength="17.8" lengthAdjust="spacingAndGlyphs">(a)</text>
<text x="218.8" y="18.8" font-size="7.2" stroke="#e81818" stroke-width="0.3" text-anchor="middle" font-weight="bold" fill="#e81818" textLength="13.4" lengthAdjust="spacingAndGlyphs">56.4</text>
<text x="234.9" y="24.1" font-size="7.2" stroke="#e81818" stroke-width="0.3" text-anchor="middle" font-weight="bold" fill="#e81818" textLength="18.4" lengthAdjust="spacingAndGlyphs">(311)</text>
<text x="194.8" y="36.8" font-size="7.2" stroke="#000" stroke-width="0.3" text-anchor="middle" font-weight="bold" textLength="15" lengthAdjust="spacingAndGlyphs">52.0</text>
<text x="194.9" y="47.3" font-size="7.2" stroke="#000" stroke-width="0.3" text-anchor="middle" font-weight="bold" textLength="17.8" lengthAdjust="spacingAndGlyphs">(311)</text>
<text x="171.9" y="61.3" font-size="7.2" stroke="#e81818" stroke-width="0.3" text-anchor="middle" font-weight="bold" fill="#e81818" textLength="14.6" lengthAdjust="spacingAndGlyphs">47.5</text>
<text x="179.5" y="68.8" font-size="7.2" stroke="#e81818" stroke-width="0.3" text-anchor="middle" font-weight="bold" fill="#e81818" textLength="18.2" lengthAdjust="spacingAndGlyphs">(220)</text>
<text x="103" y="86.3" font-size="7.2" stroke="#e81818" stroke-width="0.3" text-anchor="middle" font-weight="bold" fill="#e81818" textLength="14.6" lengthAdjust="spacingAndGlyphs">33.3</text>
<text x="104" y="96.9" font-size="7.2" stroke="#e81818" stroke-width="0.3" text-anchor="middle" font-weight="bold" fill="#e81818" textLength="17.6" lengthAdjust="spacingAndGlyphs">(200)</text>
<text x="154" y="115.1" font-size="7.2" stroke="#000" stroke-width="0.3" text-anchor="middle" font-weight="bold" textLength="15.4" lengthAdjust="spacingAndGlyphs">43.9</text>
<text x="152.6" y="122.1" font-size="7.2" stroke="#000" stroke-width="0.3" text-anchor="middle" font-weight="bold" textLength="18.2" lengthAdjust="spacingAndGlyphs">(220)</text>
<text x="78.4" y="135.1" font-size="7.2" stroke="#e81818" stroke-width="0.3" text-anchor="middle" font-weight="bold" fill="#e81818" textLength="15" lengthAdjust="spacingAndGlyphs">28.6</text>
<text x="91.5" y="142" font-size="7.2" stroke="#e81818" stroke-width="0.3" text-anchor="middle" font-weight="bold" fill="#e81818" textLength="18.6" lengthAdjust="spacingAndGlyphs">(111)</text>
<text x="56.3" y="168.4" font-size="7.2" stroke="#000" stroke-width="0.3" text-anchor="middle" font-weight="bold" textLength="15" lengthAdjust="spacingAndGlyphs">26.8</text>
<text x="53.3" y="178.8" font-size="7.2" stroke="#000" stroke-width="0.3" text-anchor="middle" font-weight="bold" textLength="18" lengthAdjust="spacingAndGlyphs">(111)</text>
<text x="325.2" y="23.47" font-size="7.7" font-weight="bold" fill="#4aaee6" stroke="#4aaee6" stroke-width="0.25" text-anchor="end" textLength="61.8" lengthAdjust="spacingAndGlyphs">CdS/CeO<tspan font-size="5.54" dy="1.6">2</tspan><tspan dy="-1.6">(3:1)</tspan></text>
<text x="324.3" y="49.57" font-size="7.7" font-weight="bold" fill="#9a7a2a" stroke="#9a7a2a" stroke-width="0.25" text-anchor="end" textLength="62.6" lengthAdjust="spacingAndGlyphs">CdS/CeO<tspan font-size="5.54" dy="1.6">2</tspan><tspan dy="-1.6">(2:1)</tspan></text>
<text x="326" y="72.37" font-size="7.7" font-weight="bold" fill="#6a2a90" stroke="#6a2a90" stroke-width="0.25" text-anchor="end" textLength="62.4" lengthAdjust="spacingAndGlyphs">CdS/CeO<tspan font-size="5.54" dy="1.6">2</tspan><tspan dy="-1.6">(1:3)</tspan></text>
<text x="325.6" y="99.87" font-size="7.7" font-weight="bold" fill="#1e9a2e" stroke="#1e9a2e" stroke-width="0.25" text-anchor="end" textLength="62.2" lengthAdjust="spacingAndGlyphs">CdS/CeO<tspan font-size="5.54" dy="1.6">2</tspan><tspan dy="-1.6">(1:2)</tspan></text>
<text x="325.4" y="126.97" font-size="7.7" font-weight="bold" fill="#2340e0" stroke="#2340e0" stroke-width="0.25" text-anchor="end" textLength="62.4" lengthAdjust="spacingAndGlyphs">CdS/CeO<tspan font-size="5.54" dy="1.6">2</tspan><tspan dy="-1.6">(1:1)</tspan></text>
<text x="325.8" y="153.8" font-size="7.7" font-weight="bold" fill="#e02020" stroke="#e02020" stroke-width="0.25" text-anchor="end" textLength="100" lengthAdjust="spacingAndGlyphs">CeO<tspan font-size="8.6" dy="1.8">2</tspan><tspan dy="-1.8"> (JCPDS:75-1546)</tspan></text>
<text x="325.8" y="183.8" font-size="7.7" stroke="#000" stroke-width="0.25" text-anchor="end" font-weight="bold" textLength="94" lengthAdjust="spacingAndGlyphs">CdS (JCPDS:75-1546)</text>
<polyline points="385.8,55.8 386.3,55.5 386.8,54.4 387.3,52.6 387.8,51.7 388.3,50.7 388.8,50.4 389.3,49.5 389.8,49.3 390.3,47.7 390.8,48.8 391.3,47.7 391.8,47.7 392.3,47.0 392.8,46.7 393.3,46.8 393.8,46.8 394.3,46.2 394.8,46.1 395.3,46.4 395.8,45.7 396.3,45.4 396.8,46.3 397.3,45.9 397.8,45.5 398.3,46.1 398.8,46.4 399.3,46.2 399.8,46.2 400.3,46.9 400.8,47.5 401.3,47.1 401.8,47.0 402.3,47.6 402.8,47.9 403.3,47.6 403.8,48.1 404.3,48.5 404.8,48.1 405.3,48.1 405.8,48.8 406.3,48.9 406.8,49.5 407.3,48.7 407.8,49.2 408.3,49.4 408.8,49.2 409.3,50.3 409.8,50.8 410.3,50.5 410.8,51.7 411.3,51.7 411.8,51.9 412.3,52.0 412.8,52.5 413.3,51.7 413.8,52.9 414.3,53.1 414.8,52.3 415.3,53.5 415.8,53.5 416.3,54.2 416.8,53.9 417.3,54.4 417.8,54.8 418.3,54.5 418.8,55.4 419.3,55.3 419.8,55.8 420.3,55.6 420.8,56.6 421.3,56.6 421.8,56.5 422.3,57.0 422.8,57.5 423.3,58.0 423.8,56.7 424.3,58.0 424.8,58.0 425.3,57.9 425.8,57.7 426.3,58.9 426.8,58.1 427.3,59.0 427.8,59.5 428.3,58.6 428.8,59.3 429.3,59.2 429.8,60.0 430.3,60.6 430.8,60.9 431.3,60.1 431.8,60.7 432.3,61.2 432.8,61.6 433.3,61.6 433.8,61.7 434.3,62.1 434.8,62.3 435.3,62.6 435.8,62.8 436.3,63.2 436.8,63.5 437.3,63.9 437.8,64.3 438.3,64.7 438.8,65.4 439.3,66.1 439.8,66.7 441.3,68.6 442.8,70.5 444.3,72.5 445.8,74.6 447.3,76.9 448.8,79.7 450.3,83.1 451.8,87.1 453.3,91.5 454.8,96.7 456.3,101.9 457.8,106.6 459.3,111.0 460.8,115.4 462.3,119.5 463.8,123.6 465.3,127.5 466.8,131.0 468.3,134.3 469.8,137.5 471.3,140.5 472.8,143.4 474.3,146.2 475.8,149.0 477.3,151.7 478.8,154.3 480.3,156.7 481.8,158.9 483.3,160.9 484.8,162.8 486.3,164.7 487.8,166.4 489.3,168.1 490.8,169.6 492.3,171.1 493.8,172.5 495.3,173.7 496.8,174.9 498.3,175.9 499.8,176.8 501.3,177.6 502.8,178.3 504.3,178.8 505.8,179.3 507.3,179.7 508.8,180.1 510.3,180.4 511.8,180.8 513.3,181.1 514.8,181.4 516.3,181.7 517.8,181.9 519.3,182.2 520.8,182.5 522.3,182.9 523.8,183.4 525.3,183.8 526.8,184.1 528.3,184.3 529.8,184.5 531.3,184.6 532.8,184.7 534.3,184.8 535.8,184.9 537.3,185.0 538.8,185.1 540.3,185.2 541.8,185.2 543.3,185.3 544.8,185.4 546.3,185.4 547.8,185.5 549.3,185.6 550.8,185.6 552.3,185.7 553.8,185.7 555.3,185.8 556.8,185.8 558.3,185.9 559.8,186.0 561.3,186.0 562.8,186.1 564.3,186.1 565.8,186.2 567.3,186.2 568.8,186.2 570.3,186.3 571.8,186.3 573.3,186.4 574.8,186.4 576.3,186.5 577.8,186.5 579.3,186.5 580.8,186.6 582.3,186.6 583.8,186.7 585.3,186.7 586.8,186.7 588.3,186.8 589.8,186.8 591.3,186.8 592.8,186.9 594.3,186.9 595.8,186.9 597.3,186.9 598.8,187.0 600.3,187.0 601.8,187.0 603.3,187.0 604.8,187.1 606.3,187.1 607.8,187.1 609.3,187.1 610.8,187.1 612.3,187.1 613.8,187.1 615.3,187.2 616.8,187.2 618.3,187.2 619.8,187.2 621.3,187.2 622.8,187.2 624.3,187.2 625.8,187.3 627.3,187.3 628.8,187.3 630.3,187.3 631.8,187.3 633.3,187.3 634.8,187.3 636.3,187.3 637.8,187.3 639.3,187.4 640.8,187.4 642.3,187.4 643.8,187.4 645.3,187.4 646.8,187.4 648.3,187.4 649.8,187.4 651.3,187.4 652.8,187.4 654.3,187.5 655.8,187.5 657.3,187.5 658.8,187.5 660.3,187.5 661.8,187.5 663.3,187.5 664.8,187.5 666.3,187.5 667.8,187.5 669.3,187.6 670.8,187.6 672.3,187.6 673.8,187.6 675.3,187.6 676.0,187.6" fill="none" stroke="#e83a3a" stroke-width="1.3" stroke-linejoin="round"/>
<polyline points="385.8,59.1 386.3,56.0 386.8,56.9 387.3,55.5 387.8,55.1 388.3,53.9 388.8,54.0 389.3,52.7 389.8,52.1 390.3,52.4 390.8,52.1 391.3,51.6 391.8,51.5 392.3,51.9 392.8,51.8 393.3,51.2 393.8,51.2 394.3,50.6 394.8,52.1 395.3,51.2 395.8,51.9 396.3,51.5 396.8,52.2 397.3,52.0 397.8,51.5 398.3,52.0 398.8,50.9 399.3,52.0 399.8,50.8 400.3,51.7 400.8,52.0 401.3,51.7 401.8,51.5 402.3,51.4 402.8,51.7 403.3,52.3 403.8,52.3 404.3,51.9 404.8,51.5 405.3,52.5 405.8,51.6 406.3,52.1 406.8,52.1 407.3,52.8 407.8,52.7 408.3,52.9 408.8,52.9 409.3,52.6 409.8,53.2 410.3,53.7 410.8,53.1 411.3,53.5 411.8,53.2 412.3,53.8 412.8,53.8 413.3,53.9 413.8,53.8 414.3,54.4 414.8,53.6 415.3,53.7 415.8,53.7 416.3,54.3 416.8,53.8 417.3,53.9 417.8,54.6 418.3,54.9 418.8,54.7 419.3,53.4 419.8,54.3 420.3,54.3 420.8,54.4 421.3,54.8 421.8,56.0 422.3,55.1 422.8,55.1 423.3,55.8 423.8,55.7 424.3,55.8 424.8,55.6 425.3,56.0 425.8,56.4 426.3,55.5 426.8,55.7 427.3,57.1 427.8,57.1 428.3,56.7 428.8,56.6 429.3,57.1 429.8,56.8 430.3,57.4 430.8,58.4 431.3,57.9 431.8,58.5 432.3,58.1 432.8,58.5 433.3,59.1 433.8,58.3 434.3,58.9 434.8,59.2 435.3,59.6 435.8,60.2 436.3,60.2 436.8,60.0 437.3,60.6 437.8,60.8 438.3,61.1 438.8,62.0 439.3,61.7 439.8,62.1 440.3,62.2 440.8,62.6 441.3,62.7 441.8,62.9 442.3,63.0 442.8,63.3 443.3,63.3 443.8,63.5 444.3,63.6 444.8,63.8 445.8,64.1 447.3,64.5 448.8,64.9 450.3,65.3 451.8,65.7 453.3,66.0 454.8,66.4 456.3,66.7 457.8,67.0 459.3,67.2 460.8,67.4 462.3,67.7 463.8,67.9 465.3,68.2 466.8,68.4 468.3,68.7 469.8,68.9 471.3,69.2 472.8,69.4 474.3,69.7 475.8,69.9 477.3,70.2 478.8,70.5 480.3,70.7 481.8,70.9 483.3,71.2 484.8,71.4 486.3,71.7 487.8,72.1 489.3,72.5 490.8,72.9 492.3,73.4 493.8,74.1 495.3,74.8 496.8,75.8 498.3,76.8 499.8,78.0 501.3,79.3 502.8,80.6 504.3,82.0 505.8,83.3 507.3,84.7 508.8,86.2 510.3,87.7 511.8,89.3 513.3,91.0 514.8,93.0 516.3,95.0 517.8,97.3 519.3,99.5 520.8,101.8 522.3,104.2 523.8,106.6 525.3,109.2 526.8,111.9 528.3,114.8 529.8,117.8 531.3,120.5 532.8,123.1 534.3,125.7 535.8,128.1 537.3,130.5 538.8,132.7 540.3,134.9 541.8,137.1 543.3,139.2 544.8,141.3 546.3,143.4 547.8,145.4 549.3,147.4 550.8,149.3 552.3,151.1 553.8,152.8 555.3,154.5 556.8,156.1 558.3,157.7 559.8,159.1 561.3,160.6 562.8,161.9 564.3,163.2 565.8,164.4 567.3,165.6 568.8,166.6 570.3,167.6 571.8,168.4 573.3,169.3 574.8,170.0 576.3,170.7 577.8,171.4 579.3,172.0 580.8,172.6 582.3,173.2 583.8,173.7 585.3,174.2 586.8,174.7 588.3,175.1 589.8,175.5 591.3,175.8 592.8,176.1 594.3,176.4 595.8,176.7 597.3,177.0 598.8,177.3 600.3,177.5 601.8,177.8 603.3,178.0 604.8,178.3 606.3,178.5 607.8,178.7 609.3,178.9 610.8,179.1 612.3,179.3 613.8,179.5 615.3,179.6 616.8,179.8 618.3,179.9 619.8,180.0 621.3,180.1 622.8,180.2 624.3,180.3 625.8,180.3 627.3,180.4 628.8,180.5 630.3,180.5 631.8,180.6 633.3,180.6 634.8,180.7 636.3,180.7 637.8,180.8 639.3,180.8 640.8,180.9 642.3,180.9 643.8,181.0 645.3,181.0 646.8,181.0 648.3,181.1 649.8,181.1 651.3,181.1 652.8,181.2 654.3,181.2 655.8,181.2 657.3,181.2 658.8,181.3 660.3,181.3 661.8,181.3 663.3,181.3 664.8,181.3 666.3,181.4 667.8,181.4 669.3,181.4 670.8,181.4 672.3,181.4 673.8,181.5 675.3,181.5 676.0,181.5" fill="none" stroke="#505050" stroke-width="1.3" stroke-linejoin="round"/>
<polyline points="385.8,49.7 386.3,48.1 386.8,46.8 387.3,45.2 387.8,45.4 388.3,45.4 388.8,44.2 389.3,43.9 389.8,43.8 390.3,42.7 390.8,44.0 391.3,42.2 391.8,42.6 392.3,43.6 392.8,42.2 393.3,42.2 393.8,41.8 394.3,42.1 394.8,40.9 395.3,41.5 395.8,42.5 396.3,41.7 396.8,41.5 397.3,41.7 397.8,41.7 398.3,41.5 398.8,41.7 399.3,40.7 399.8,41.7 400.3,41.1 400.8,41.7 401.3,41.4 401.8,40.9 402.3,41.4 402.8,40.9 403.3,41.9 403.8,41.4 404.3,41.8 404.8,40.9 405.3,42.2 405.8,41.3 406.3,42.1 406.8,41.9 407.3,41.1 407.8,41.8 408.3,41.4 408.8,41.9 409.3,42.5 409.8,42.2 410.3,42.5 410.8,41.6 411.3,42.4 411.8,42.6 412.3,43.1 412.8,42.5 413.3,43.1 413.8,43.2 414.3,42.4 414.8,42.8 415.3,43.6 415.8,43.0 416.3,43.1 416.8,44.1 417.3,44.0 417.8,43.9 418.3,44.2 418.8,44.1 419.3,44.2 419.8,44.4 420.3,44.8 420.8,45.1 421.3,44.8 421.8,45.0 422.3,45.1 422.8,45.0 423.3,45.4 423.8,45.6 424.3,45.4 424.8,45.8 425.3,45.7 425.8,46.0 426.3,46.1 426.8,46.0 427.3,45.9 427.8,46.2 428.3,46.2 428.8,46.3 429.3,46.4 429.8,46.5 430.8,46.6 432.3,46.8 433.8,47.0 435.3,47.2 436.8,47.4 438.3,47.6 439.8,47.9 441.3,48.4 442.8,49.0 444.3,49.7 445.8,50.4 447.3,51.0 448.8,51.6 450.3,52.1 451.8,52.6 453.3,53.1 454.8,53.5 456.3,54.0 457.8,54.4 459.3,54.7 460.8,55.1 462.3,55.5 463.8,55.9 465.3,56.2 466.8,56.6 468.3,57.0 469.8,57.3 471.3,57.7 472.8,58.1 474.3,58.5 475.8,58.8 477.3,59.2 478.8,59.6 480.3,59.9 481.8,60.3 483.3,60.7 484.8,61.1 486.3,61.5 487.8,61.8 489.3,62.2 490.8,62.6 492.3,62.9 493.8,63.2 495.3,63.5 496.8,63.9 498.3,64.4 499.8,65.0 501.3,65.6 502.8,66.4 504.3,67.3 505.8,68.5 507.3,69.8 508.8,71.4 510.3,73.2 511.8,75.2 513.3,77.1 514.8,79.2 516.3,81.8 517.8,84.6 519.3,87.7 520.8,91.4 522.3,95.9 523.8,100.7 525.3,105.1 526.8,108.5 528.3,111.5 529.8,114.3 531.3,117.4 532.8,120.6 534.3,124.0 535.8,127.4 537.3,131.1 538.8,135.0 540.3,138.7 541.8,141.9 543.3,144.8 544.8,147.5 546.3,149.9 547.8,152.0 549.3,153.9 550.8,155.7 552.3,157.3 553.8,158.9 555.3,160.4 556.8,161.8 558.3,163.2 559.8,164.5 561.3,165.7 562.8,166.8 564.3,167.9 565.8,169.0 567.3,170.0 568.8,170.9 570.3,171.8 571.8,172.7 573.3,173.4 574.8,174.2 576.3,174.9 577.8,175.6 579.3,176.1 580.8,176.6 582.3,177.0 583.8,177.4 585.3,177.7 586.8,178.0 588.3,178.2 589.8,178.4 591.3,178.6 592.8,178.8 594.3,178.9 595.8,179.1 597.3,179.2 598.8,179.4 600.3,179.5 601.8,179.7 603.3,179.8 604.8,179.9 606.3,180.0 607.8,180.1 609.3,180.2 610.8,180.3 612.3,180.4 613.8,180.5 615.3,180.6 616.8,180.7 618.3,180.9 619.8,181.0 621.3,181.1 622.8,181.3 624.3,181.4 625.8,181.6 627.3,181.8 628.8,181.9 630.3,182.1 631.8,182.3 633.3,182.4 634.8,182.6 636.3,182.8 637.8,182.9 639.3,183.1 640.8,183.2 642.3,183.3 643.8,183.4 645.3,183.5 646.8,183.6 648.3,183.7 649.8,183.7 651.3,183.8 652.8,183.9 654.3,183.9 655.8,184.0 657.3,184.0 658.8,184.1 660.3,184.1 661.8,184.1 663.3,184.2 664.8,184.2 666.3,184.2 667.8,184.3 669.3,184.3 670.8,184.4 672.3,184.4 673.8,184.4 675.3,184.5 676.0,184.5" fill="none" stroke="#3aa866" stroke-width="1.3" stroke-linejoin="round"/>
<polyline points="385.8,46.4 386.3,45.3 386.8,44.5 387.3,42.8 387.8,42.1 388.3,41.3 388.8,39.4 389.3,39.7 389.8,38.4 390.3,39.2 390.8,38.3 391.3,37.5 391.8,37.6 392.3,37.4 392.8,37.4 393.3,37.7 393.8,37.3 394.3,37.8 394.8,37.3 395.3,36.9 395.8,36.3 396.3,36.4 396.8,37.2 397.3,37.6 397.8,38.0 398.3,37.2 398.8,37.7 399.3,37.5 399.8,37.8 400.3,37.1 400.8,38.7 401.3,38.2 401.8,38.6 402.3,39.0 402.8,39.1 403.3,38.6 403.8,40.0 404.3,39.8 404.8,39.9 405.3,39.5 405.8,39.3 406.3,39.4 406.8,40.2 407.3,40.6 407.8,40.4 408.3,41.7 408.8,41.2 409.3,41.7 409.8,41.9 410.3,41.2 410.8,42.3 411.3,42.3 411.8,41.7 412.3,42.8 412.8,43.2 413.3,43.3 413.8,43.6 414.3,42.7 414.8,43.4 415.3,43.5 415.8,44.0 416.3,44.2 416.8,44.9 417.3,45.0 417.8,44.5 418.3,45.6 418.8,46.1 419.3,45.8 419.8,45.2 420.3,45.9 420.8,46.3 421.3,45.9 421.8,46.9 422.3,46.6 422.8,47.8 423.3,48.0 423.8,47.9 424.3,47.6 424.8,48.5 425.3,48.3 425.8,48.5 426.3,49.5 426.8,48.9 427.3,48.9 427.8,50.0 428.3,50.5 428.8,50.6 429.3,50.5 429.8,51.1 430.3,50.6 430.8,51.5 431.3,51.7 431.8,51.3 432.3,51.6 432.8,51.5 433.3,51.7 433.8,52.2 434.3,52.1 434.8,52.5 435.3,52.7 435.8,52.8 436.3,53.1 436.8,53.4 437.3,53.4 437.8,53.7 438.3,53.9 438.8,54.1 439.3,54.4 439.8,54.8 441.3,56.0 442.8,57.4 444.3,58.8 445.8,60.3 447.3,61.5 448.8,62.7 450.3,63.8 451.8,65.0 453.3,66.4 454.8,67.9 456.3,69.5 457.8,71.0 459.3,72.4 460.8,73.6 462.3,74.7 463.8,75.7 465.3,76.6 466.8,77.5 468.3,78.3 469.8,79.0 471.3,79.7 472.8,80.4 474.3,81.0 475.8,81.7 477.3,82.3 478.8,82.9 480.3,83.5 481.8,84.1 483.3,84.8 484.8,85.4 486.3,86.0 487.8,86.7 489.3,87.4 490.8,88.1 492.3,88.8 493.8,89.7 495.3,90.6 496.8,91.5 498.3,92.4 499.8,93.2 501.3,93.9 502.8,94.7 504.3,95.6 505.8,96.5 507.3,97.4 508.8,98.3 510.3,99.5 511.8,100.9 513.3,102.8 514.8,104.9 516.3,107.2 517.8,109.5 519.3,111.7 520.8,114.0 522.3,116.4 523.8,119.0 525.3,121.8 526.8,124.9 528.3,128.1 529.8,131.4 531.3,134.7 532.8,138.1 534.3,141.4 535.8,144.4 537.3,147.2 538.8,149.8 540.3,152.4 541.8,155.0 543.3,157.4 544.8,159.7 546.3,161.7 547.8,163.6 549.3,165.3 550.8,167.0 552.3,168.5 553.8,169.9 555.3,171.2 556.8,172.5 558.3,173.6 559.8,174.7 561.3,175.7 562.8,176.6 564.3,177.4 565.8,178.2 567.3,178.9 568.8,179.5 570.3,180.1 571.8,180.6 573.3,181.1 574.8,181.6 576.3,182.0 577.8,182.4 579.3,182.7 580.8,183.1 582.3,183.4 583.8,183.7 585.3,184.0 586.8,184.1 588.3,184.3 589.8,184.5 591.3,184.6 592.8,184.8 594.3,184.9 595.8,185.0 597.3,185.2 598.8,185.3 600.3,185.4 601.8,185.5 603.3,185.6 604.8,185.7 606.3,185.9 607.8,186.0 609.3,186.1 610.8,186.2 612.3,186.3 613.8,186.4 615.3,186.5 616.8,186.6 618.3,186.7 619.8,186.8 621.3,186.9 622.8,187.0 624.3,187.1 625.8,187.2 627.3,187.2 628.8,187.3 630.3,187.4 631.8,187.5 633.3,187.5 634.8,187.6 636.3,187.7 637.8,187.7 639.3,187.8 640.8,187.9 642.3,187.9 643.8,188.0 645.3,188.0 646.8,188.1 648.3,188.1 649.8,188.1 651.3,188.2 652.8,188.2 654.3,188.3 655.8,188.3 657.3,188.3 658.8,188.4 660.3,188.4 661.8,188.4 663.3,188.4 664.8,188.5 666.3,188.5 667.8,188.5 669.3,188.6 670.8,188.6 672.3,188.6 673.8,188.7 675.3,188.7 676.0,188.7" fill="none" stroke="#2a66e0" stroke-width="1.3" stroke-linejoin="round"/>
<polyline points="385.8,45.7 386.3,45.1 386.8,44.0 387.3,42.8 387.8,42.2 388.3,40.3 388.8,39.9 389.3,38.8 389.8,37.8 390.3,37.7 390.8,37.8 391.3,37.1 391.8,37.2 392.3,37.7 392.8,37.3 393.3,37.2 393.8,37.0 394.3,36.7 394.8,35.9 395.3,37.2 395.8,36.1 396.3,36.9 396.8,36.9 397.3,37.1 397.8,37.3 398.3,37.1 398.8,37.8 399.3,37.0 399.8,38.1 400.3,37.1 400.8,38.6 401.3,38.0 401.8,38.6 402.3,39.2 402.8,37.7 403.3,38.7 403.8,39.2 404.3,39.5 404.8,39.9 405.3,39.7 405.8,39.8 406.3,39.8 406.8,40.0 407.3,40.1 407.8,40.6 408.3,40.4 408.8,40.8 409.3,41.3 409.8,41.2 410.3,40.7 410.8,40.9 411.3,41.4 411.8,40.9 412.3,40.5 412.8,41.0 413.3,41.8 413.8,41.6 414.3,41.7 414.8,42.3 415.3,41.6 415.8,43.2 416.3,42.3 416.8,42.3 417.3,43.5 417.8,42.2 418.3,42.6 418.8,42.9 419.3,42.6 419.8,43.0 420.3,43.6 420.8,43.5 421.3,43.6 421.8,44.1 422.3,44.7 422.8,44.6 423.3,43.1 423.8,44.8 424.3,44.6 424.8,44.5 425.3,44.0 425.8,44.3 426.3,44.5 426.8,44.1 427.3,45.2 427.8,45.1 428.3,44.8 428.8,44.6 429.3,45.4 429.8,45.3 430.3,45.5 430.8,45.2 431.3,46.0 431.8,45.5 432.3,46.1 432.8,45.4 433.3,46.0 433.8,46.2 434.3,45.9 434.8,46.4 435.3,46.5 435.8,46.7 436.3,46.9 436.8,47.1 437.3,47.4 437.8,47.7 438.3,47.8 438.8,48.0 439.3,48.3 439.8,48.5 441.3,49.2 442.8,50.1 444.3,50.9 445.8,51.9 447.3,52.8 448.8,53.9 450.3,55.0 451.8,56.1 453.3,57.3 454.8,58.4 456.3,59.4 457.8,60.3 459.3,61.2 460.8,62.1 462.3,62.9 463.8,63.7 465.3,64.5 466.8,65.3 468.3,66.0 469.8,66.7 471.3,67.4 472.8,68.1 474.3,68.8 475.8,69.4 477.3,70.0 478.8,70.5 480.3,71.0 481.8,71.5 483.3,71.9 484.8,72.4 486.3,72.9 487.8,73.3 489.3,73.8 490.8,74.2 492.3,74.7 493.8,75.2 495.3,75.7 496.8,76.4 498.3,77.2 499.8,78.0 501.3,78.9 502.8,79.8 504.3,80.8 505.8,81.9 507.3,83.0 508.8,84.1 510.3,85.4 511.8,86.8 513.3,88.4 514.8,90.3 516.3,92.4 517.8,94.7 519.3,97.0 520.8,99.4 522.3,102.1 523.8,104.8 525.3,107.7 526.8,110.8 528.3,113.8 529.8,116.9 531.3,119.9 532.8,122.8 534.3,125.7 535.8,128.7 537.3,131.8 538.8,134.9 540.3,137.9 541.8,140.6 543.3,143.2 544.8,145.7 546.3,147.9 547.8,150.1 549.3,152.1 550.8,153.9 552.3,155.5 553.8,157.1 555.3,158.5 556.8,159.9 558.3,161.3 559.8,162.6 561.3,163.9 562.8,165.2 564.3,166.4 565.8,167.6 567.3,168.7 568.8,169.8 570.3,170.7 571.8,171.5 573.3,172.2 574.8,172.9 576.3,173.5 577.8,174.0 579.3,174.6 580.8,175.1 582.3,175.5 583.8,176.0 585.3,176.3 586.8,176.7 588.3,177.0 589.8,177.3 591.3,177.5 592.8,177.8 594.3,178.0 595.8,178.3 597.3,178.5 598.8,178.7 600.3,178.9 601.8,179.1 603.3,179.3 604.8,179.5 606.3,179.6 607.8,179.8 609.3,179.9 610.8,180.1 612.3,180.2 613.8,180.3 615.3,180.4 616.8,180.5 618.3,180.5 619.8,180.6 621.3,180.7 622.8,180.7 624.3,180.8 625.8,180.8 627.3,180.9 628.8,180.9 630.3,180.9 631.8,181.0 633.3,181.0 634.8,181.0 636.3,181.1 637.8,181.1 639.3,181.1 640.8,181.1 642.3,181.2 643.8,181.2 645.3,181.2 646.8,181.2 648.3,181.2 649.8,181.2 651.3,181.3 652.8,181.3 654.3,181.3 655.8,181.3 657.3,181.3 658.8,181.3 660.3,181.3 661.8,181.3 663.3,181.3 664.8,181.3 666.3,181.3 667.8,181.3 669.3,181.3 670.8,181.3 672.3,181.3 673.8,181.3 675.3,181.3 676.0,181.3" fill="none" stroke="#b070e8" stroke-width="1.3" stroke-linejoin="round"/>
<polyline points="385.8,46.0 386.3,44.2 386.8,42.3 387.3,40.5 387.8,38.9 388.3,38.7 388.8,37.5 389.3,36.7 389.8,36.5 390.3,36.2 390.8,34.8 391.3,36.0 391.8,34.4 392.3,36.0 392.8,35.2 393.3,34.6 393.8,35.3 394.3,34.7 394.8,34.9 395.3,34.7 395.8,35.1 396.3,35.2 396.8,34.4 397.3,34.6 397.8,35.1 398.3,35.0 398.8,34.2 399.3,36.3 399.8,34.6 400.3,34.8 400.8,35.3 401.3,36.2 401.8,36.9 402.3,36.2 402.8,36.3 403.3,36.7 403.8,36.6 404.3,37.0 404.8,36.6 405.3,37.5 405.8,37.6 406.3,36.6 406.8,37.8 407.3,38.1 407.8,38.5 408.3,38.0 408.8,38.0 409.3,38.3 409.8,39.2 410.3,38.8 410.8,39.1 411.3,40.1 411.8,39.5 412.3,39.6 412.8,40.2 413.3,40.6 413.8,41.2 414.3,40.5 414.8,40.4 415.3,41.3 415.8,41.8 416.3,41.0 416.8,41.7 417.3,42.2 417.8,42.3 418.3,42.4 418.8,42.4 419.3,42.4 419.8,42.5 420.3,43.6 420.8,42.7 421.3,43.9 421.8,42.9 422.3,45.0 422.8,43.0 423.3,44.7 423.8,43.7 424.3,44.2 424.8,44.4 425.3,44.3 425.8,45.8 426.3,45.0 426.8,44.5 427.3,45.5 427.8,45.7 428.3,45.0 428.8,46.0 429.3,45.9 429.8,46.4 430.3,46.6 430.8,46.4 431.3,46.5 431.8,47.2 432.3,47.2 432.8,46.7 433.3,47.3 433.8,47.5 434.3,47.8 434.8,48.8 435.3,48.2 435.8,48.7 436.3,49.2 436.8,49.2 437.3,49.4 437.8,49.9 438.3,49.9 438.8,50.2 439.3,50.7 439.8,50.9 440.3,51.2 440.8,51.5 441.3,52.0 441.8,52.6 442.3,52.9 442.8,53.4 443.3,53.8 443.8,54.2 444.3,54.6 444.8,55.1 445.8,56.0 447.3,57.3 448.8,58.5 450.3,59.7 451.8,60.8 453.3,61.9 454.8,62.9 456.3,63.8 457.8,64.7 459.3,65.5 460.8,66.2 462.3,66.9 463.8,67.5 465.3,68.0 466.8,68.5 468.3,68.9 469.8,69.4 471.3,69.9 472.8,70.5 474.3,71.2 475.8,71.9 477.3,72.5 478.8,73.1 480.3,73.6 481.8,74.1 483.3,74.5 484.8,74.9 486.3,75.4 487.8,75.9 489.3,76.4 490.8,77.0 492.3,77.6 493.8,78.3 495.3,79.1 496.8,79.9 498.3,80.8 499.8,81.8 501.3,82.9 502.8,84.0 504.3,85.2 505.8,86.5 507.3,87.7 508.8,89.0 510.3,90.3 511.8,91.8 513.3,93.5 514.8,95.5 516.3,97.9 517.8,100.5 519.3,103.3 520.8,106.3 522.3,109.4 523.8,112.4 525.3,115.4 526.8,118.4 528.3,121.4 529.8,124.4 531.3,127.4 532.8,130.5 534.3,133.8 535.8,137.3 537.3,140.6 538.8,143.9 540.3,147.1 541.8,150.0 543.3,152.6 544.8,154.8 546.3,156.7 547.8,158.5 549.3,160.2 550.8,161.9 552.3,163.5 553.8,165.0 555.3,166.4 556.8,167.7 558.3,168.9 559.8,170.1 561.3,171.2 562.8,172.2 564.3,173.2 565.8,174.1 567.3,175.0 568.8,175.9 570.3,176.7 571.8,177.5 573.3,178.2 574.8,178.9 576.3,179.4 577.8,179.9 579.3,180.4 580.8,180.8 582.3,181.2 583.8,181.6 585.3,181.9 586.8,182.3 588.3,182.6 589.8,182.9 591.3,183.1 592.8,183.4 594.3,183.6 595.8,183.8 597.3,184.0 598.8,184.2 600.3,184.3 601.8,184.5 603.3,184.6 604.8,184.8 606.3,184.9 607.8,185.1 609.3,185.2 610.8,185.3 612.3,185.4 613.8,185.5 615.3,185.6 616.8,185.6 618.3,185.7 619.8,185.8 621.3,185.9 622.8,185.9 624.3,186.0 625.8,186.1 627.3,186.1 628.8,186.2 630.3,186.2 631.8,186.3 633.3,186.3 634.8,186.4 636.3,186.4 637.8,186.5 639.3,186.5 640.8,186.6 642.3,186.6 643.8,186.7 645.3,186.7 646.8,186.7 648.3,186.8 649.8,186.8 651.3,186.8 652.8,186.9 654.3,186.9 655.8,186.9 657.3,186.9 658.8,187.0 660.3,187.0 661.8,187.0 663.3,187.0 664.8,187.0 666.3,187.1 667.8,187.1 669.3,187.1 670.8,187.1 672.3,187.1 673.8,187.2 675.3,187.2 676.0,187.2" fill="none" stroke="#c99a18" stroke-width="1.3" stroke-linejoin="round"/>
<polyline points="385.8,66.7 386.3,66.5 386.8,65.7 387.3,64.9 387.8,64.6 388.3,62.7 388.8,62.5 389.3,61.7 389.8,61.8 390.3,62.0 390.8,61.2 391.3,61.1 391.8,59.8 392.3,60.5 392.8,59.8 393.3,60.9 393.8,60.4 394.3,60.4 394.8,59.9 395.3,60.1 395.8,60.2 396.3,59.8 396.8,59.7 397.3,60.0 397.8,59.8 398.3,59.9 398.8,60.1 399.3,60.0 399.8,60.8 400.3,59.8 400.8,61.0 401.3,60.5 401.8,60.6 402.3,60.3 402.8,60.9 403.3,61.0 403.8,61.3 404.3,61.1 404.8,61.4 405.3,62.3 405.8,61.8 406.3,61.4 406.8,62.2 407.3,61.9 407.8,62.3 408.3,62.4 408.8,62.1 409.3,61.5 409.8,62.3 410.3,62.8 410.8,62.5 411.3,63.0 411.8,63.4 412.3,62.8 412.8,63.7 413.3,64.0 413.8,63.9 414.3,64.1 414.8,64.2 415.3,64.8 415.8,64.0 416.3,64.1 416.8,64.5 417.3,63.9 417.8,63.8 418.3,64.2 418.8,64.9 419.3,65.1 419.8,64.3 420.3,64.3 420.8,65.1 421.3,65.3 421.8,65.5 422.3,65.9 422.8,66.3 423.3,65.9 423.8,66.2 424.3,65.6 424.8,65.7 425.3,66.4 425.8,66.7 426.3,66.9 426.8,66.9 427.3,67.1 427.8,67.2 428.3,66.4 428.8,66.9 429.3,67.4 429.8,67.6 430.3,67.1 430.8,68.0 431.3,67.7 431.8,67.9 432.3,68.1 432.8,68.4 433.3,68.0 433.8,68.6 434.3,68.6 434.8,68.6 435.3,68.8 435.8,68.7 436.3,69.1 436.8,69.3 437.3,69.4 437.8,69.6 438.3,69.8 438.8,70.0 439.3,70.2 439.8,70.3 441.3,71.0 442.8,71.7 444.3,72.5 445.8,73.3 447.3,74.0 448.8,74.7 450.3,75.4 451.8,76.0 453.3,76.7 454.8,77.2 456.3,77.7 457.8,78.1 459.3,78.5 460.8,78.9 462.3,79.2 463.8,79.6 465.3,79.9 466.8,80.3 468.3,80.6 469.8,80.9 471.3,81.2 472.8,81.5 474.3,81.8 475.8,82.1 477.3,82.4 478.8,82.7 480.3,83.0 481.8,83.2 483.3,83.5 484.8,83.8 486.3,84.1 487.8,84.4 489.3,84.7 490.8,85.0 492.3,85.3 493.8,85.7 495.3,86.2 496.8,86.7 498.3,87.2 499.8,87.7 501.3,88.2 502.8,88.8 504.3,89.3 505.8,89.9 507.3,90.6 508.8,91.3 510.3,92.1 511.8,93.1 513.3,94.3 514.8,95.6 516.3,97.0 517.8,98.6 519.3,100.3 520.8,102.1 522.3,104.1 523.8,106.3 525.3,108.7 526.8,111.3 528.3,114.1 529.8,117.0 531.3,119.8 532.8,122.8 534.3,125.8 535.8,128.7 537.3,131.4 538.8,134.0 540.3,136.6 541.8,139.0 543.3,141.2 544.8,143.4 546.3,145.4 547.8,147.4 549.3,149.3 550.8,151.2 552.3,153.1 553.8,154.8 555.3,156.5 556.8,158.1 558.3,159.6 559.8,160.9 561.3,162.3 562.8,163.5 564.3,164.7 565.8,165.8 567.3,166.9 568.8,167.9 570.3,168.9 571.8,169.8 573.3,170.7 574.8,171.6 576.3,172.4 577.8,173.1 579.3,173.8 580.8,174.5 582.3,175.1 583.8,175.7 585.3,176.2 586.8,176.6 588.3,177.0 589.8,177.3 591.3,177.6 592.8,177.9 594.3,178.2 595.8,178.4 597.3,178.6 598.8,178.8 600.3,179.0 601.8,179.2 603.3,179.4 604.8,179.6 606.3,179.7 607.8,179.9 609.3,180.0 610.8,180.2 612.3,180.3 613.8,180.4 615.3,180.6 616.8,180.7 618.3,180.8 619.8,181.0 621.3,181.1 622.8,181.3 624.3,181.4 625.8,181.6 627.3,181.8 628.8,181.9 630.3,182.1 631.8,182.2 633.3,182.4 634.8,182.5 636.3,182.7 637.8,182.8 639.3,182.9 640.8,183.0 642.3,183.1 643.8,183.2 645.3,183.3 646.8,183.4 648.3,183.5 649.8,183.5 651.3,183.6 652.8,183.6 654.3,183.6 655.8,183.7 657.3,183.7 658.8,183.7 660.3,183.8 661.8,183.8 663.3,183.8 664.8,183.8 666.3,183.8 667.8,183.9 669.3,183.9 670.8,183.9 672.3,183.9 673.8,184.0 675.3,184.0 676.0,184.0" fill="none" stroke="#22c8cc" stroke-width="1.3" stroke-linejoin="round"/>
<rect x="385.5" y="14.3" width="290.8" height="184.1" fill="none" stroke="#111" stroke-width="1.3"/>
<line x1="381" y1="198.4" x2="385.5" y2="198.4" stroke="#111" stroke-width="1.1"/>
<line x1="383.2" y1="188.17" x2="385.5" y2="188.17" stroke="#111" stroke-width="1.1"/>
<line x1="381" y1="177.94" x2="385.5" y2="177.94" stroke="#111" stroke-width="1.1"/>
<line x1="383.2" y1="167.72" x2="385.5" y2="167.72" stroke="#111" stroke-width="1.1"/>
<line x1="381" y1="157.49" x2="385.5" y2="157.49" stroke="#111" stroke-width="1.1"/>
<line x1="383.2" y1="147.26" x2="385.5" y2="147.26" stroke="#111" stroke-width="1.1"/>
<line x1="381" y1="137.03" x2="385.5" y2="137.03" stroke="#111" stroke-width="1.1"/>
<line x1="383.2" y1="126.81" x2="385.5" y2="126.81" stroke="#111" stroke-width="1.1"/>
<line x1="381" y1="116.58" x2="385.5" y2="116.58" stroke="#111" stroke-width="1.1"/>
<line x1="383.2" y1="106.35" x2="385.5" y2="106.35" stroke="#111" stroke-width="1.1"/>
<line x1="381" y1="96.12" x2="385.5" y2="96.12" stroke="#111" stroke-width="1.1"/>
<line x1="383.2" y1="85.89" x2="385.5" y2="85.89" stroke="#111" stroke-width="1.1"/>
<line x1="381" y1="75.67" x2="385.5" y2="75.67" stroke="#111" stroke-width="1.1"/>
<line x1="383.2" y1="65.44" x2="385.5" y2="65.44" stroke="#111" stroke-width="1.1"/>
<line x1="381" y1="55.21" x2="385.5" y2="55.21" stroke="#111" stroke-width="1.1"/>
<line x1="383.2" y1="44.98" x2="385.5" y2="44.98" stroke="#111" stroke-width="1.1"/>
<line x1="381" y1="34.76" x2="385.5" y2="34.76" stroke="#111" stroke-width="1.1"/>
<line x1="383.2" y1="24.53" x2="385.5" y2="24.53" stroke="#111" stroke-width="1.1"/>
<line x1="381" y1="14.3" x2="385.5" y2="14.3" stroke="#111" stroke-width="1.1"/>
<text x="378" y="201.2" font-size="8.4" stroke="#000" stroke-width="0.25" text-anchor="end" font-weight="bold" textLength="13.2" lengthAdjust="spacingAndGlyphs">0.0</text>
<text x="378" y="180.74" font-size="8.4" stroke="#000" stroke-width="0.25" text-anchor="end" font-weight="bold" textLength="13.2" lengthAdjust="spacingAndGlyphs">0.2</text>
<text x="378" y="160.29" font-size="8.4" stroke="#000" stroke-width="0.25" text-anchor="end" font-weight="bold" textLength="13.2" lengthAdjust="spacingAndGlyphs">0.4</text>
<text x="378" y="139.83" font-size="8.4" stroke="#000" stroke-width="0.25" text-anchor="end" font-weight="bold" textLength="13.2" lengthAdjust="spacingAndGlyphs">0.6</text>
<text x="378" y="119.38" font-size="8.4" stroke="#000" stroke-width="0.25" text-anchor="end" font-weight="bold" textLength="13.2" lengthAdjust="spacingAndGlyphs">0.8</text>
<text x="378" y="98.92" font-size="8.4" stroke="#000" stroke-width="0.25" text-anchor="end" font-weight="bold" textLength="13.2" lengthAdjust="spacingAndGlyphs">1.0</text>
<text x="378" y="78.47" font-size="8.4" stroke="#000" stroke-width="0.25" text-anchor="end" font-weight="bold" textLength="13.2" lengthAdjust="spacingAndGlyphs">1.2</text>
<text x="378" y="58.01" font-size="8.4" stroke="#000" stroke-width="0.25" text-anchor="end" font-weight="bold" textLength="13.2" lengthAdjust="spacingAndGlyphs">1.4</text>
<text x="378" y="37.56" font-size="8.4" stroke="#000" stroke-width="0.25" text-anchor="end" font-weight="bold" textLength="13.2" lengthAdjust="spacingAndGlyphs">1.6</text>
<text x="378" y="17.1" font-size="8.4" stroke="#000" stroke-width="0.25" text-anchor="end" font-weight="bold" textLength="13.2" lengthAdjust="spacingAndGlyphs">1.8</text>
<line x1="385.5" y1="198.4" x2="385.5" y2="200.3" stroke="#111" stroke-width="1.1"/>
<line x1="411.94" y1="198.4" x2="411.94" y2="201.7" stroke="#111" stroke-width="1.1"/>
<line x1="438.37" y1="198.4" x2="438.37" y2="200.3" stroke="#111" stroke-width="1.1"/>
<line x1="464.81" y1="198.4" x2="464.81" y2="201.7" stroke="#111" stroke-width="1.1"/>
<line x1="491.25" y1="198.4" x2="491.25" y2="200.3" stroke="#111" stroke-width="1.1"/>
<line x1="517.68" y1="198.4" x2="517.68" y2="201.7" stroke="#111" stroke-width="1.1"/>
<line x1="544.12" y1="198.4" x2="544.12" y2="200.3" stroke="#111" stroke-width="1.1"/>
<line x1="570.55" y1="198.4" x2="570.55" y2="201.7" stroke="#111" stroke-width="1.1"/>
<line x1="596.99" y1="198.4" x2="596.99" y2="200.3" stroke="#111" stroke-width="1.1"/>
<line x1="623.43" y1="198.4" x2="623.43" y2="201.7" stroke="#111" stroke-width="1.1"/>
<line x1="649.86" y1="198.4" x2="649.86" y2="200.3" stroke="#111" stroke-width="1.1"/>
<line x1="676.3" y1="198.4" x2="676.3" y2="201.7" stroke="#111" stroke-width="1.1"/>
<text x="411.94" y="210.6" font-size="8.4" stroke="#000" stroke-width="0.25" text-anchor="middle" font-weight="bold" textLength="15" lengthAdjust="spacingAndGlyphs">300</text>
<text x="464.81" y="210.6" font-size="8.4" stroke="#000" stroke-width="0.25" text-anchor="middle" font-weight="bold" textLength="15" lengthAdjust="spacingAndGlyphs">400</text>
<text x="517.68" y="210.6" font-size="8.4" stroke="#000" stroke-width="0.25" text-anchor="middle" font-weight="bold" textLength="15" lengthAdjust="spacingAndGlyphs">500</text>
<text x="570.55" y="210.6" font-size="8.4" stroke="#000" stroke-width="0.25" text-anchor="middle" font-weight="bold" textLength="15" lengthAdjust="spacingAndGlyphs">600</text>
<text x="623.43" y="210.6" font-size="8.4" stroke="#000" stroke-width="0.25" text-anchor="middle" font-weight="bold" textLength="15" lengthAdjust="spacingAndGlyphs">700</text>
<text x="676.3" y="210.6" font-size="8.4" stroke="#000" stroke-width="0.25" text-anchor="middle" font-weight="bold" textLength="15" lengthAdjust="spacingAndGlyphs">800</text>
<text x="531.2" y="224.5" font-size="10.2" stroke="#000" stroke-width="0.35" text-anchor="middle" font-weight="bold" textLength="97.5" lengthAdjust="spacingAndGlyphs">Wavelength (nm)</text>
<text x="0" y="0" font-size="10.2" stroke="#000" stroke-width="0.35" text-anchor="middle" font-weight="bold" textLength="92.5" lengthAdjust="spacingAndGlyphs" transform="translate(359.2,105.4) rotate(-90)">Absorbance (a.u.)</text>
<text x="342.6" y="12.2" font-size="15.8" stroke="#000" stroke-width="0.25" font-weight="bold" textLength="19.2" lengthAdjust="spacingAndGlyphs">(b)</text>
<rect x="558.2" y="14.3" width="115.3" height="97.3" fill="#fff" stroke="#c4c4c4" stroke-width="0.8"/>
<line x1="559.6" y1="21.3" x2="587.2" y2="21.3" stroke="#808080" stroke-width="1.3"/>
<text x="590.5" y="25.3" font-size="10.0" textLength="22.8" lengthAdjust="spacingAndGlyphs">CdS</text>
<line x1="559.6" y1="33.5" x2="587.2" y2="33.5" stroke="#e03a3a" stroke-width="1.3"/>
<text x="590.5" y="37.5" font-size="10.0" textLength="29.4" lengthAdjust="spacingAndGlyphs">CeO<tspan font-size="7.20" dy="2.6">2</tspan></text>
<line x1="559.6" y1="47.6" x2="587.2" y2="47.6" stroke="#2a66e0" stroke-width="1.3"/>
<text x="590.5" y="51.6" font-size="10.0" textLength="81.8" lengthAdjust="spacingAndGlyphs">CdS/CeO<tspan font-size="7.20" dy="2.6">2</tspan><tspan dy="-2.6">(1:3)</tspan></text>
<line x1="559.6" y1="61.3" x2="587.2" y2="61.3" stroke="#3aa866" stroke-width="1.3"/>
<text x="590.5" y="65.3" font-size="10.0" textLength="81.8" lengthAdjust="spacingAndGlyphs">CdS/CeO<tspan font-size="7.20" dy="2.6">2</tspan><tspan dy="-2.6">(1:1)</tspan></text>
<line x1="559.6" y1="74.7" x2="587.2" y2="74.7" stroke="#b070e8" stroke-width="1.3"/>
<text x="590.5" y="78.7" font-size="10.0" textLength="81.8" lengthAdjust="spacingAndGlyphs">CdS/CeO<tspan font-size="7.20" dy="2.6">2</tspan><tspan dy="-2.6">(3:1)</tspan></text>
<line x1="559.6" y1="89.3" x2="587.2" y2="89.3" stroke="#d0a020" stroke-width="1.3"/>
<text x="590.5" y="93.3" font-size="10.0" textLength="81.8" lengthAdjust="spacingAndGlyphs">CdS/CeO<tspan font-size="7.20" dy="2.6">2</tspan><tspan dy="-2.6">(1:2)</tspan></text>
<line x1="559.6" y1="103" x2="587.2" y2="103" stroke="#30d0d8" stroke-width="1.3"/>
<text x="590.5" y="107" font-size="10.0" textLength="81.8" lengthAdjust="spacingAndGlyphs">CdS/CeO<tspan font-size="7.20" dy="2.6">2</tspan><tspan dy="-2.6">(2:1)</tspan></text>
<rect x="385.5" y="14.3" width="290.8" height="184.1" fill="none" stroke="#111" stroke-width="1.3"/>
<polyline points="44.0,414.1 44.6,414.1 45.2,414.1 45.8,414.1 46.4,414.1 47.0,414.1 47.6,414.1 48.2,414.1 48.8,414.1 49.4,414.1 50.0,414.1 50.6,414.1 51.2,414.1 51.8,414.1 52.4,414.1 53.0,414.1 53.6,414.1 54.2,414.1 54.8,414.1 55.4,414.1 56.0,414.1 56.6,414.1 57.2,414.1 57.8,414.1 58.4,414.1 59.0,414.1 59.6,414.1 60.2,414.1 60.8,414.1 61.4,414.1 62.0,414.1 62.6,414.1 63.2,414.1 63.8,414.1 64.4,414.1 65.0,414.1 65.6,414.1 66.2,414.1 66.8,414.1 67.4,414.1 68.0,414.1 68.6,414.1 69.2,414.1 69.8,414.1 70.4,414.1 71.0,414.1 71.6,414.1 72.2,414.1 72.8,414.1 73.4,414.0 74.0,414.0 74.6,414.0 75.2,414.0 75.8,414.0 76.4,414.0 77.0,413.9 77.6,413.9 78.2,413.9 78.8,413.8 79.4,413.8 80.0,413.8 80.6,413.7 81.2,413.7 81.8,413.6 82.4,413.6 83.0,413.5 83.6,413.5 84.2,413.4 84.8,413.3 85.4,413.3 86.0,413.2 86.6,413.1 87.2,413.1 87.8,413.0 88.4,413.0 88.9,412.9 89.5,412.8 90.1,412.7 90.7,412.7 91.3,412.5 91.9,412.4 92.5,412.3 93.1,412.2 93.7,412.0 94.2,411.8 94.8,411.6 95.3,411.3 95.9,411.1 96.4,410.8 96.9,410.5 97.4,410.2 98.0,409.9 98.5,409.6 99.0,409.2 99.4,408.9 99.9,408.5 100.4,408.2 100.9,407.8 101.4,407.5 101.9,407.1 102.4,406.8 102.8,406.4 103.3,406.1 103.8,405.7 104.3,405.4 104.9,405.1 105.4,404.8 105.9,404.5 106.4,404.2 106.9,403.9 107.4,403.5 107.9,403.2 108.5,402.9 109.0,402.6 109.5,402.3 110.0,402.0 110.5,401.8 111.1,401.5 111.6,401.2 112.1,400.9 112.7,400.6 113.2,400.4 113.7,400.1 114.3,399.8 114.8,399.6 115.4,399.3 115.9,399.1 116.5,398.9 117.0,398.6 117.6,398.4 118.1,398.2 118.7,397.9 119.2,397.7 119.8,397.5 120.4,397.3 120.9,397.1 121.5,396.9 122.0,396.7 122.6,396.4 123.2,396.2 123.7,396.0 124.3,395.8 124.9,395.6 125.4,395.4 126.0,395.2 126.6,395.0 127.1,394.8 127.7,394.6 128.3,394.4 128.8,394.2 129.4,394.0 130.0,393.8 130.5,393.6 131.1,393.5 131.7,393.3 132.3,393.1 132.8,392.9 133.4,392.8 134.0,392.6 134.5,392.4 135.1,392.2 135.7,392.1 136.3,391.9 136.8,391.7 137.4,391.5 138.0,391.3 138.5,391.1 139.1,390.9 139.6,390.6 140.2,390.4 140.8,390.2 141.3,390.0 141.9,389.7 142.4,389.5 143.0,389.3 143.5,389.1 144.1,388.8 144.6,388.6 145.2,388.4 145.7,388.1 146.3,387.9 146.8,387.6 147.4,387.4 147.9,387.2 148.5,386.9 149.0,386.6 149.6,386.4 150.1,386.1 150.6,385.8 151.2,385.6 151.7,385.3 152.2,385.0 152.8,384.7 153.3,384.4 153.8,384.2 154.3,383.9 154.9,383.6 155.4,383.3 155.9,383.0 156.4,382.7 157.0,382.4 157.5,382.1 158.0,381.8 158.5,381.5 159.0,381.2 159.5,380.9 160.0,380.5 160.6,380.2 161.1,379.9 161.6,379.6 162.1,379.3 162.6,379.0 163.1,378.7 163.6,378.3 164.1,378.0 164.6,377.7 165.1,377.4 165.7,377.1 166.2,376.7 166.7,376.4 167.2,376.1 167.7,375.8 168.2,375.5 168.7,375.1 169.2,374.8 169.7,374.5 170.2,374.2 170.7,373.9 171.2,373.5 171.7,373.2 172.3,372.9 172.8,372.6 173.3,372.3 173.8,371.9 174.3,371.6 174.8,371.3 175.3,371.0 175.8,370.7 176.3,370.3 176.8,370.0 177.3,369.7 177.8,369.4 178.3,369.1 178.9,368.7 179.4,368.4 179.9,368.1 180.4,367.8 180.9,367.5 181.4,367.2 181.9,366.8 182.4,366.5 182.9,366.2 183.4,365.9 184.0,365.6 184.5,365.3 185.0,365.0 185.5,364.6 186.0,364.3 186.5,364.0 187.0,363.7 187.5,363.4 188.0,363.1 188.5,362.7 189.1,362.4 189.6,362.1 190.1,361.8 190.6,361.5 191.1,361.2 191.6,360.8 192.1,360.5 192.6,360.2 193.1,359.9 193.6,359.6 194.2,359.3 194.7,359.0 195.2,358.6 195.7,358.3 196.2,358.0 196.7,357.7 197.2,357.4 197.7,357.1 198.2,356.7 198.7,356.4 199.3,356.1 199.8,355.8 200.3,355.5 200.8,355.2 201.3,354.8 201.8,354.5 202.3,354.2 202.8,353.9 203.3,353.6 203.8,353.3 204.4,353.0 204.9,352.6 205.4,352.3 205.9,352.0 206.4,351.7 206.9,351.4 207.4,351.1 207.9,350.7 208.4,350.4 208.9,350.1 209.5,349.8 210.0,349.5 210.5,349.2 211.0,348.8 211.5,348.5 212.0,348.2 212.5,347.9 213.0,347.6 213.5,347.3 214.0,347.0 214.6,346.6 215.1,346.3 215.6,346.0 216.1,345.7 216.6,345.4 217.1,345.1 217.6,344.7 218.1,344.4 218.6,344.1 219.2,343.8 219.7,343.5 220.2,343.2 220.7,342.8 221.2,342.5 221.7,342.2 222.2,341.9 222.7,341.6 223.2,341.3 223.7,340.9 224.3,340.6 224.8,340.3 225.3,340.0 225.8,339.7 226.3,339.3 226.8,339.0 227.3,338.8 227.8,338.4 228.3,338.2 228.8,337.7 229.4,337.6 229.9,337.1 230.4,337.0 230.9,336.6 231.4,336.5 231.9,336.3 232.4,335.9 233.0,335.5 233.5,334.9 234.0,334.5 234.5,333.6 235.0,334.5 235.6,334.2 236.1,333.8 236.6,333.0 237.1,333.6 237.6,332.5 238.1,332.5 238.6,331.6 239.1,331.4 239.6,331.5 240.0,331.1 240.5,330.2 241.0,330.1 241.4,329.9 241.9,328.9 242.3,329.0 242.7,328.1 243.1,328.2 243.6,327.5 244.0,327.4 244.4,326.6 244.8,326.2 245.2,325.8 245.7,325.2 246.1,324.9 246.5,324.4 246.9,324.0 247.3,323.9 247.8,323.2 248.2,323.1 248.6,322.6 249.1,322.2 249.5,321.4 249.9,321.3 250.4,321.2 250.9,320.7 251.3,320.4 251.8,320.1 252.3,319.0 252.8,319.1 253.3,318.8 253.7,318.2 254.2,317.6 254.7,317.6 255.2,317.2 255.7,317.4 256.2,316.9 256.7,316.2 257.2,315.7 257.7,315.4 258.3,315.3 258.8,314.9 259.3,315.3 259.8,314.2 260.4,314.2 260.9,314.0 261.4,313.8 262.0,313.2 262.5,313.1 263.1,313.0 263.6,312.8 264.2,312.3 264.7,312.1 265.3,312.1 265.9,312.3 266.4,311.3 267.0,311.6 267.6,311.7 268.2,310.7 268.7,311.4 269.3,311.2 269.9,310.7 270.5,310.9 271.1,311.0 271.7,310.5 272.3,310.6 272.9,310.2 273.5,310.4 274.1,310.7 274.7,310.8 275.3,311.4 275.8,311.0 276.4,310.9 277.0,311.7 277.6,311.9 278.1,311.9 278.7,312.0 279.3,312.0 279.8,312.2 280.4,313.0 281.0,313.0 281.6,313.0 282.1,313.2 282.7,313.1 283.3,313.1 283.9,313.4 284.5,313.6 285.1,313.3 285.6,313.5 286.2,313.6 286.8,314.1 287.4,314.5 288.0,314.1 288.5,314.3 289.1,314.3 289.7,314.7 290.3,314.6 290.9,314.8 291.5,314.8 292.1,315.9 292.7,315.2 293.3,315.1 293.9,315.2 294.5,315.6 295.1,315.6 295.7,315.4 296.3,314.6 296.9,315.5 297.5,315.4 298.1,315.2 298.7,315.0 299.2,314.7 299.8,314.8 300.4,314.2 300.9,314.3 301.5,313.6 302.0,313.4 302.5,313.1 303.0,312.8 303.6,312.5 304.1,312.5 304.6,312.4 305.1,311.5 305.6,311.1 306.1,311.3 306.5,310.5 307.0,310.3 307.5,309.9 308.0,309.7 308.4,308.9 308.9,309.0 309.4,308.6 309.8,307.5 310.3,307.5 310.7,307.1 311.2,306.9 311.6,306.4 312.0,305.8 312.5,305.5 312.9,305.2 313.3,304.7 313.7,304.2 314.1,304.2 314.5,303.4 314.9,302.7 315.3,302.5 315.7,302.0 316.1,301.3 316.4,301.1 316.8,300.4 317.2,299.7 317.6,299.7 318.0,299.3 318.3,298.8 318.7,298.2 319.1,297.7 319.5,297.4 319.8,296.9 320.2,296.6 320.6,296.2 321.0,295.6 321.4,294.9 321.8,294.5 322.1,293.8 322.5,293.8 322.9,293.3 323.3,293.0 323.7,292.4 324.1,292.2 324.5,291.3 325.0,291.0 325.4,290.5 325.8,290.0 326.2,289.3 326.6,289.1 327.0,288.4 327.4,288.3 327.8,287.8 328.2,287.5 328.7,286.7 329.1,286.5 329.5,286.1 329.9,285.3 330.2,285.4" fill="none" stroke="#505050" stroke-width="1.25" stroke-linejoin="round"/>
<polyline points="44.0,414.1 44.6,414.1 45.2,414.1 45.8,414.1 46.4,414.1 47.0,414.1 47.6,414.1 48.2,414.1 48.8,414.1 49.4,414.1 50.0,414.1 50.6,414.1 51.2,414.1 51.8,414.1 52.4,414.1 53.0,414.1 53.6,414.1 54.2,414.1 54.8,414.1 55.4,414.1 56.0,414.1 56.6,414.1 57.2,414.1 57.8,414.1 58.4,414.1 59.0,414.1 59.6,414.1 60.2,414.1 60.8,414.1 61.4,414.1 62.0,414.1 62.6,414.1 63.2,414.1 63.8,414.1 64.4,414.1 65.0,414.1 65.6,414.1 66.2,414.1 66.8,414.1 67.4,414.0 68.0,414.0 68.6,414.0 69.2,414.0 69.8,414.0 70.4,414.0 71.0,414.0 71.6,414.0 72.2,414.0 72.8,414.0 73.4,414.0 74.0,414.0 74.6,414.0 75.2,414.0 75.8,414.0 76.4,414.0 77.0,414.0 77.6,414.0 78.2,414.0 78.8,414.0 79.4,414.0 80.0,414.0 80.6,414.0 81.2,414.0 81.8,414.0 82.4,414.0 83.0,414.0 83.6,414.0 84.2,414.1 84.8,414.1 85.4,414.1 86.0,414.1 86.6,414.1 87.2,414.1 87.8,414.1 88.4,414.1 89.0,414.1 89.6,414.1 90.2,414.1 90.8,414.1 91.4,414.1 92.0,414.1 92.6,414.1 93.2,414.1 93.8,414.1 94.4,414.1 95.0,414.1 95.6,414.1 96.2,414.1 96.8,414.1 97.4,414.1 98.0,414.0 98.6,414.0 99.2,414.0 99.8,414.0 100.4,414.0 101.0,414.0 101.6,413.9 102.2,413.9 102.8,413.9 103.4,413.9 104.0,413.8 104.6,413.8 105.2,413.8 105.8,413.8 106.4,413.7 107.0,413.7 107.6,413.6 108.2,413.6 108.8,413.6 109.4,413.5 110.0,413.5 110.6,413.4 111.2,413.4 111.8,413.4 112.4,413.3 113.0,413.3 113.6,413.2 114.2,413.2 114.8,413.1 115.4,413.1 116.0,413.0 116.6,413.0 117.2,412.9 117.8,412.8 118.4,412.8 119.0,412.7 119.5,412.7 120.1,412.6 120.7,412.5 121.3,412.5 121.9,412.4 122.5,412.3 123.1,412.2 123.7,412.2 124.3,412.1 124.9,412.0 125.5,411.9 126.1,411.8 126.7,411.7 127.3,411.5 127.9,411.4 128.4,411.3 129.0,411.2 129.6,411.1 130.2,411.0 130.8,410.8 131.4,410.7 132.0,410.6 132.6,410.5 133.2,410.4 133.7,410.3 134.3,410.1 134.9,410.0 135.5,409.9 136.1,409.7 136.7,409.6 137.2,409.4 137.8,409.2 138.4,409.0 138.9,408.8 139.5,408.6 140.1,408.4 140.6,408.2 141.2,407.9 141.7,407.7 142.2,407.4 142.8,407.1 143.3,406.9 143.9,406.6 144.4,406.3 144.9,406.0 145.4,405.7 146.0,405.5 146.5,405.1 147.0,404.8 147.5,404.5 148.0,404.2 148.5,403.8 149.0,403.5 149.5,403.1 149.9,402.8 150.4,402.4 150.9,402.0 151.3,401.6 151.8,401.2 152.2,400.8 152.7,400.4 153.1,400.0 153.5,399.6 153.9,399.2 154.4,398.7 154.8,398.3 155.2,397.9 155.6,397.4 156.0,397.0 156.4,396.5 156.8,396.1 157.2,395.6 157.6,395.2 158.0,394.7 158.4,394.3 158.8,393.8 159.2,393.4 159.6,392.9 160.0,392.5 160.4,392.1 160.8,391.6 161.2,391.1 161.6,390.7 162.0,390.2 162.3,389.8 162.7,389.3 163.1,388.8 163.5,388.4 163.8,387.9 164.2,387.4 164.6,387.0 165.0,386.5 165.3,386.0 165.7,385.6 166.1,385.1 166.5,384.7 166.9,384.2 167.3,383.8 167.7,383.3 168.1,382.9 168.5,382.4 168.9,382.0 169.4,381.6 169.8,381.1 170.2,380.7 170.6,380.3 171.0,379.8 171.4,379.4 171.9,379.0 172.3,378.6 172.7,378.2 173.2,377.7 173.6,377.3 174.0,376.9 174.5,376.5 174.9,376.1 175.4,375.7 175.8,375.3 176.3,374.9 176.8,374.6 177.2,374.2 177.7,373.8 178.1,373.4 178.6,373.0 179.1,372.6 179.5,372.2 180.0,371.9 180.5,371.5 180.9,371.1 181.4,370.7 181.9,370.4 182.3,370.0 182.8,369.6 183.3,369.2 183.7,368.9 184.2,368.5 184.7,368.1 185.2,367.8 185.6,367.4 186.1,367.0 186.6,366.7 187.1,366.3 187.5,365.9 188.0,365.6 188.5,365.2 188.9,364.8 189.4,364.5 189.9,364.1 190.4,363.7 190.8,363.4 191.3,363.0 191.8,362.6 192.3,362.3 192.7,361.9 193.2,361.5 193.7,361.2 194.2,360.8 194.6,360.4 195.1,360.1 195.6,359.7 196.1,359.3 196.5,358.9 197.0,358.6 197.5,358.2 198.0,357.8 198.4,357.5 198.9,357.1 199.4,356.7 199.9,356.4 200.3,356.0 200.8,355.6 201.3,355.3 201.7,354.9 202.2,354.5 202.7,354.1 203.2,353.8 203.6,353.4 204.1,353.0 204.6,352.7 205.0,352.3 205.5,351.9 206.0,351.6 206.5,351.2 206.9,350.8 207.4,350.4 207.9,350.1 208.4,349.7 208.8,349.3 209.3,349.0 209.8,348.6 210.2,348.2 210.7,347.8 211.2,347.5 211.7,347.1 212.1,346.7 212.6,346.4 213.1,346.0 213.5,345.6 214.0,345.3 214.5,344.9 215.0,344.5 215.4,344.1 215.9,343.8 216.4,343.4 216.8,343.0 217.3,342.7 217.8,342.3 218.3,341.9 218.7,341.6 219.2,341.2 219.7,340.8 220.2,340.4 220.6,340.1 221.1,339.7 221.6,339.3 222.0,339.0 222.5,338.6 223.0,338.2 223.5,337.9 223.9,337.5 224.4,337.1 224.9,336.7 225.3,336.4 225.8,336.0 226.3,335.6 226.8,335.3 227.2,334.9 227.7,334.5 228.2,334.2 228.7,333.8 229.1,333.4 229.6,333.1 230.1,332.7 230.6,332.3 231.0,332.0 231.5,331.6 232.0,331.2 232.5,330.9 232.9,330.5 233.4,330.1 233.9,329.8 234.4,329.4 234.8,329.0 235.3,328.7 235.8,328.3 236.3,327.9 236.7,327.6 237.2,327.2 237.7,326.7 238.1,326.4 238.6,326.1 239.1,325.8 239.5,325.1 240.0,325.1 240.4,324.5 240.9,323.9 241.3,323.9 241.8,323.2 242.2,322.7 242.7,322.6 243.1,322.3 243.6,321.7 244.0,321.1 244.4,320.6 244.9,320.5 245.3,319.5 245.7,319.3 246.2,319.4 246.6,318.9 247.0,318.6 247.5,318.0 247.9,317.3 248.3,317.2 248.8,316.3 249.2,316.5 249.7,316.2 250.1,315.3 250.6,315.3 251.0,314.7 251.5,314.3 251.9,313.5 252.4,313.5 252.8,313.4 253.3,312.4 253.7,312.3 254.2,311.8 254.7,311.2 255.1,311.5 255.6,310.8 256.0,310.5 256.5,310.3 257.0,309.5 257.5,310.1 257.9,308.9 258.4,308.3 258.9,308.4 259.4,308.1 259.9,307.4 260.4,307.1 261.0,307.3 261.5,306.8 262.0,306.6 262.6,306.5 263.1,305.8 263.7,306.1 264.2,305.5 264.8,305.5 265.4,304.9 265.9,305.1 266.5,304.8 267.1,305.3 267.7,304.4 268.3,304.8 268.8,304.5 269.4,304.7 270.0,304.2 270.6,304.3 271.2,303.4 271.8,303.7 272.4,304.5 273.0,304.3 273.6,304.5 274.2,304.4 274.8,304.8 275.4,304.7 275.9,304.9 276.5,305.5 277.1,305.7 277.6,305.5 278.2,305.8 278.7,306.1 279.3,306.3 279.8,306.5 280.4,306.5 280.9,307.2 281.5,307.0 282.0,307.2 282.6,308.1 283.1,308.5 283.7,308.7 284.2,308.6 284.7,308.6 285.3,309.2 285.8,309.7 286.3,309.7 286.8,309.8 287.4,309.8 287.9,310.1 288.4,311.2 288.9,310.7 289.5,311.2 290.0,311.5 290.6,311.9 291.1,311.8 291.7,312.5 292.2,312.7 292.8,312.7 293.4,312.6 294.0,312.8 294.6,312.4 295.2,313.2 295.8,312.8 296.4,312.5 297.0,312.8 297.6,312.8 298.1,312.6 298.7,312.5 299.3,312.5 299.8,311.8 300.4,311.7 300.9,311.5 301.5,310.8 302.0,311.2 302.5,310.5 303.1,310.4 303.6,310.1 304.1,309.5 304.6,309.6 305.1,309.3 305.6,308.8 306.1,307.7 306.6,308.4 307.1,307.7 307.6,307.2 308.1,306.9 308.5,306.4 309.0,306.2 309.4,306.0 309.9,305.2 310.3,305.1 310.8,304.5 311.2,304.2 311.6,303.7 312.0,303.4 312.4,303.1 312.8,302.5 313.2,302.2 313.6,301.8 314.0,300.8 314.3,300.7 314.7,300.1 315.0,299.6 315.4,299.3 315.7,298.6 316.1,298.1 316.4,297.9 316.8,297.4 317.1,296.8 317.4,296.7 317.8,295.5 318.1,294.9 318.4,294.7 318.8,294.0 319.1,293.7 319.4,293.1 319.7,292.6 320.1,292.2 320.4,291.5 320.7,290.9 321.1,290.6 321.4,290.3 321.7,289.7 322.1,289.3 322.4,289.0 322.7,288.3 323.1,287.7 323.4,287.1 323.7,286.8 324.0,286.4 324.4,285.9 324.7,285.3 325.0,284.5 325.3,284.3 325.7,283.8 326.0,283.3 326.3,282.4 326.6,282.0 327.0,281.6 327.3,281.1 327.6,280.5 327.9,280.2 328.2,279.5 328.6,279.3 328.9,278.5 329.2,278.1 329.5,277.2 329.8,277.1 330.2,276.4 330.2,276.5" fill="none" stroke="#f03030" stroke-width="1.25" stroke-linejoin="round"/>
<polyline points="44.0,414.1 44.6,414.1 45.2,414.1 45.8,414.1 46.4,414.1 47.0,414.1 47.6,414.1 48.2,414.1 48.8,414.1 49.4,414.1 50.0,414.1 50.6,414.1 51.2,414.1 51.8,414.1 52.4,414.1 53.0,414.1 53.6,414.1 54.2,414.1 54.8,414.1 55.4,414.1 56.0,414.1 56.6,414.1 57.2,414.1 57.8,414.1 58.4,414.1 59.0,414.1 59.6,414.1 60.2,414.1 60.8,414.1 61.4,414.1 62.0,414.1 62.6,414.1 63.2,414.1 63.8,414.1 64.4,414.1 65.0,414.1 65.6,414.1 66.2,414.1 66.8,414.1 67.4,414.1 68.0,414.1 68.6,414.1 69.2,414.1 69.8,414.1 70.4,414.1 71.0,414.1 71.6,414.1 72.2,414.1 72.8,414.1 73.4,414.1 74.0,414.0 74.6,414.0 75.2,414.0 75.8,414.0 76.4,413.9 77.0,413.9 77.6,413.9 78.2,413.8 78.8,413.8 79.4,413.7 80.0,413.7 80.6,413.6 81.2,413.5 81.8,413.5 82.4,413.4 83.0,413.2 83.5,413.1 84.1,413.0 84.7,412.8 85.3,412.6 85.9,412.5 86.4,412.3 87.0,412.1 87.6,411.9 88.1,411.7 88.7,411.4 89.2,411.2 89.8,410.9 90.3,410.7 90.8,410.4 91.4,410.1 91.9,409.9 92.4,409.6 92.9,409.3 93.5,409.0 94.0,408.6 94.5,408.3 95.0,408.0 95.5,407.7 96.0,407.3 96.5,407.0 96.9,406.6 97.4,406.2 97.9,405.9 98.4,405.5 98.8,405.1 99.3,404.7 99.7,404.3 100.1,403.9 100.6,403.5 101.0,403.0 101.4,402.6 101.8,402.1 102.2,401.7 102.6,401.2 102.9,400.8 103.3,400.3 103.7,399.8 104.1,399.4 104.5,398.9 104.9,398.5 105.3,398.0 105.7,397.6 106.1,397.2 106.5,396.7 106.9,396.3 107.3,395.8 107.7,395.4 108.1,394.9 108.5,394.5 109.0,394.1 109.4,393.7 109.8,393.3 110.3,392.8 110.7,392.5 111.2,392.1 111.7,391.7 112.1,391.3 112.6,391.0 113.1,390.6 113.6,390.3 114.1,390.0 114.6,389.7 115.1,389.3 115.7,389.0 116.2,388.8 116.7,388.5 117.2,388.2 117.8,387.9 118.3,387.7 118.9,387.4 119.4,387.2 120.0,386.9 120.5,386.7 121.1,386.5 121.6,386.2 122.2,386.0 122.7,385.8 123.3,385.6 123.9,385.4 124.4,385.2 125.0,384.9 125.5,384.7 126.1,384.5 126.7,384.3 127.2,384.1 127.8,383.9 128.3,383.7 128.9,383.5 129.5,383.2 130.0,383.0 130.6,382.8 131.1,382.6 131.7,382.3 132.2,382.1 132.8,381.9 133.4,381.7 133.9,381.4 134.5,381.2 135.0,380.9 135.6,380.7 136.1,380.5 136.7,380.2 137.2,380.0 137.8,379.8 138.3,379.5 138.9,379.3 139.4,379.0 140.0,378.8 140.5,378.6 141.1,378.3 141.6,378.1 142.2,377.8 142.7,377.6 143.2,377.3 143.8,377.1 144.3,376.8 144.9,376.6 145.4,376.3 146.0,376.0 146.5,375.8 147.0,375.5 147.6,375.3 148.1,375.0 148.7,374.7 149.2,374.5 149.7,374.2 150.3,373.9 150.8,373.6 151.3,373.3 151.9,373.1 152.4,372.8 152.9,372.5 153.4,372.2 154.0,371.9 154.5,371.6 155.0,371.3 155.5,371.0 156.1,370.8 156.6,370.5 157.1,370.2 157.6,369.9 158.1,369.6 158.7,369.3 159.2,369.0 159.7,368.7 160.2,368.4 160.7,368.1 161.3,367.8 161.8,367.5 162.3,367.2 162.8,366.8 163.3,366.5 163.8,366.2 164.3,365.9 164.9,365.6 165.4,365.3 165.9,365.0 166.4,364.7 166.9,364.3 167.4,364.0 167.9,363.7 168.4,363.4 168.9,363.1 169.5,362.8 170.0,362.5 170.5,362.2 171.0,361.8 171.5,361.5 172.0,361.2 172.5,360.9 173.1,360.6 173.6,360.3 174.1,360.0 174.6,359.7 175.1,359.4 175.7,359.1 176.2,358.8 176.7,358.6 177.3,358.3 177.8,358.0 178.3,357.7 178.9,357.5 179.4,357.2 179.9,356.9 180.5,356.6 181.0,356.4 181.5,356.1 182.1,355.8 182.6,355.6 183.1,355.3 183.7,355.0 184.2,354.8 184.8,354.5 185.3,354.2 185.8,353.9 186.3,353.7 186.9,353.4 187.4,353.1 187.9,352.8 188.5,352.5 189.0,352.2 189.5,351.9 190.0,351.6 190.5,351.3 191.0,351.0 191.6,350.7 192.1,350.4 192.6,350.0 193.1,349.7 193.6,349.4 194.1,349.1 194.6,348.7 195.1,348.4 195.6,348.1 196.1,347.7 196.6,347.4 197.1,347.1 197.6,346.7 198.1,346.4 198.6,346.1 199.1,345.7 199.6,345.4 200.1,345.0 200.5,344.7 201.0,344.4 201.5,344.0 202.0,343.7 202.5,343.3 203.0,343.0 203.5,342.6 204.0,342.3 204.5,341.9 205.0,341.6 205.5,341.2 205.9,340.9 206.4,340.6 206.9,340.2 207.4,339.9 207.9,339.5 208.4,339.2 208.9,338.8 209.4,338.5 209.9,338.1 210.4,337.8 210.8,337.4 211.3,337.1 211.8,336.7 212.3,336.4 212.8,336.1 213.3,335.7 213.8,335.4 214.3,335.0 214.8,334.7 215.3,334.4 215.8,334.0 216.3,333.7 216.8,333.3 217.3,333.0 217.8,332.7 218.2,332.3 218.7,332.0 219.2,331.7 219.7,331.3 220.2,331.0 220.7,330.6 221.2,330.3 221.7,330.0 222.2,329.6 222.7,329.3 223.2,329.0 223.7,328.6 224.2,328.3 224.7,328.0 225.2,327.6 225.7,327.3 226.2,327.0 226.7,326.7 227.2,326.1 227.7,325.9 228.2,325.8 228.7,325.4 229.2,324.9 229.7,324.5 230.2,324.5 230.7,323.8 231.2,323.6 231.7,323.1 232.2,323.0 232.7,322.6 233.2,322.6 233.7,321.7 234.1,321.2 234.6,321.1 235.1,320.9 235.6,320.5 236.1,320.8 236.6,319.7 237.1,319.4 237.6,319.4 238.1,319.2 238.5,318.5 239.0,318.2 239.5,317.4 240.0,317.1 240.4,317.0 240.9,316.8 241.4,316.3 241.8,315.9 242.3,315.6 242.7,315.0 243.2,314.5 243.6,314.1 244.0,313.5 244.4,313.2 244.8,312.7 245.3,312.6 245.7,312.5 246.1,311.7 246.5,311.5 246.8,310.5 247.2,310.1 247.6,309.7 248.0,309.6 248.4,309.3 248.9,308.7 249.3,308.2 249.7,307.7 250.2,307.1 250.7,307.0 251.1,306.6 251.6,306.2 252.1,305.6 252.6,305.5 253.1,305.1 253.6,304.6 254.1,304.8 254.6,304.2 255.1,304.1 255.7,303.3 256.2,303.2 256.7,302.8 257.3,302.5 257.8,302.5 258.3,302.2 258.9,301.7 259.4,301.6 260.0,301.5 260.5,301.3 261.1,301.6 261.7,300.2 262.2,300.9 262.8,300.7 263.4,300.4 263.9,299.9 264.5,299.7 265.1,299.2 265.7,299.7 266.2,299.3 266.8,299.1 267.4,299.7 268.0,298.8 268.6,299.0 269.2,299.1 269.8,298.8 270.4,298.9 271.0,298.9 271.6,298.9 272.2,298.4 272.8,298.5 273.4,299.2 274.0,299.1 274.6,299.0 275.2,299.0 275.7,299.7 276.3,299.4 276.9,299.3 277.5,300.1 278.1,299.6 278.6,300.0 279.2,300.3 279.8,300.2 280.3,300.8 280.9,301.0 281.5,301.2 282.0,301.2 282.6,301.9 283.2,301.6 283.7,301.7 284.3,302.2 284.8,302.2 285.4,302.0 285.9,303.3 286.4,302.8 286.9,303.0 287.5,303.9 288.0,303.9 288.5,304.6 289.1,304.8 289.7,305.1 290.2,304.8 290.8,305.1 291.4,304.7 292.0,305.3 292.6,305.0 293.2,304.9 293.8,304.9 294.4,304.7 295.0,304.7 295.6,304.6 296.1,304.2 296.7,303.9 297.3,303.4 297.8,304.0 298.4,303.4 298.9,303.0 299.5,302.4 300.0,302.7 300.5,301.9 301.1,302.1 301.6,301.6 302.1,301.8 302.7,301.1 303.2,300.6 303.7,300.1 304.2,300.2 304.8,300.4 305.3,299.8 305.8,299.3 306.3,299.3 306.8,298.6 307.3,298.6 307.8,297.7 308.3,297.4 308.8,297.5 309.2,296.6 309.7,296.8 310.2,296.2 310.6,296.3 311.1,295.3 311.5,295.0 312.0,295.0 312.4,294.1 312.8,293.8 313.2,293.2 313.6,293.1 314.0,292.4 314.4,291.8 314.8,291.5 315.2,290.9 315.5,290.7 315.9,289.9 316.3,290.0 316.6,289.5 316.9,288.3 317.3,288.2 317.6,287.5 318.0,287.0 318.3,286.4 318.6,286.4 318.9,285.3 319.3,285.4 319.6,284.4 319.9,284.3 320.2,283.6 320.6,283.0 320.9,282.5 321.2,282.0 321.5,281.6 321.8,281.3 322.1,280.3 322.3,280.0 322.6,279.4 322.9,278.8 323.2,278.4 323.5,277.9 323.7,277.2 324.0,276.7 324.3,276.3 324.5,275.6 324.8,275.2 325.0,274.5 325.3,274.1 325.6,273.6 325.8,273.1 326.1,272.5 326.3,271.9 326.5,271.3 326.8,270.7 327.0,270.2 327.2,269.7 327.5,269.0 327.7,268.8 327.9,267.9 328.1,267.5 328.4,267.0 328.6,266.5 328.8,265.9 329.0,265.2 329.2,264.5 329.4,264.2 329.7,263.5 329.9,262.9 330.1,262.4 330.2,262.2" fill="none" stroke="#3aaa6a" stroke-width="1.25" stroke-linejoin="round"/>
<polyline points="44.0,414.1 44.6,414.1 45.2,414.1 45.8,414.1 46.4,414.1 47.0,414.1 47.6,414.1 48.2,414.1 48.8,414.1 49.4,414.1 50.0,414.1 50.6,414.1 51.2,414.1 51.8,414.1 52.4,414.1 53.0,414.1 53.6,414.1 54.2,414.1 54.8,414.1 55.4,414.1 56.0,414.1 56.6,414.1 57.2,414.1 57.8,414.1 58.4,414.1 59.0,414.1 59.6,414.1 60.2,414.1 60.8,414.1 61.4,414.1 62.0,414.1 62.6,414.1 63.2,414.1 63.8,414.1 64.4,414.1 65.0,414.1 65.6,414.1 66.2,414.1 66.8,414.1 67.4,414.1 68.0,414.1 68.6,414.1 69.2,414.1 69.8,414.1 70.4,414.1 71.0,414.1 71.6,414.1 72.2,414.1 72.8,414.1 73.4,414.0 74.0,414.0 74.6,414.0 75.2,414.0 75.8,414.0 76.4,413.9 77.0,413.9 77.6,413.9 78.2,413.9 78.8,413.8 79.4,413.8 80.0,413.8 80.6,413.7 81.2,413.7 81.8,413.7 82.4,413.6 83.0,413.6 83.6,413.5 84.2,413.4 84.8,413.4 85.4,413.3 86.0,413.2 86.6,413.1 87.1,413.0 87.7,412.9 88.3,412.8 88.9,412.7 89.5,412.6 90.1,412.5 90.7,412.3 91.3,412.2 91.8,412.1 92.4,411.9 93.0,411.7 93.6,411.5 94.1,411.3 94.7,411.1 95.3,410.9 95.8,410.6 96.3,410.4 96.8,410.1 97.4,409.7 97.9,409.4 98.4,409.1 98.8,408.7 99.3,408.4 99.8,408.0 100.3,407.7 100.8,407.3 101.3,407.0 101.8,406.6 102.3,406.3 102.8,406.0 103.3,405.6 103.7,405.3 104.2,404.9 104.7,404.5 105.2,404.2 105.7,403.8 106.1,403.5 106.6,403.1 107.1,402.8 107.7,402.5 108.2,402.2 108.7,401.9 109.2,401.7 109.8,401.4 110.3,401.2 110.9,400.9 111.5,400.7 112.0,400.5 112.6,400.3 113.2,400.1 113.7,399.9 114.3,399.7 114.9,399.6 115.4,399.4 116.0,399.2 116.6,399.0 117.2,398.9 117.7,398.7 118.3,398.5 118.9,398.4 119.5,398.2 120.0,398.0 120.6,397.8 121.2,397.7 121.8,397.5 122.3,397.3 122.9,397.1 123.5,396.9 124.0,396.7 124.6,396.5 125.2,396.3 125.7,396.1 126.3,395.9 126.8,395.7 127.4,395.4 128.0,395.2 128.5,395.0 129.1,394.8 129.6,394.5 130.2,394.3 130.7,394.1 131.3,393.8 131.8,393.6 132.4,393.4 132.9,393.1 133.5,392.9 134.0,392.6 134.6,392.4 135.1,392.2 135.7,391.9 136.2,391.7 136.8,391.4 137.3,391.2 137.9,390.9 138.4,390.7 139.0,390.5 139.5,390.2 140.1,390.0 140.6,389.7 141.2,389.5 141.7,389.3 142.3,389.0 142.8,388.8 143.4,388.6 144.0,388.4 144.5,388.2 145.1,387.9 145.6,387.7 146.2,387.5 146.8,387.3 147.3,387.1 147.9,386.8 148.4,386.6 149.0,386.4 149.5,386.2 150.1,385.9 150.6,385.7 151.2,385.4 151.7,385.2 152.3,384.9 152.8,384.7 153.3,384.4 153.9,384.1 154.4,383.8 154.9,383.5 155.4,383.2 156.0,382.9 156.5,382.6 157.0,382.3 157.5,382.0 158.0,381.7 158.5,381.3 159.0,381.0 159.5,380.7 160.0,380.3 160.5,380.0 161.0,379.6 161.4,379.3 161.9,378.9 162.4,378.5 162.9,378.2 163.3,377.8 163.8,377.4 164.3,377.0 164.7,376.7 165.2,376.3 165.7,375.9 166.1,375.5 166.6,375.1 167.1,374.8 167.5,374.4 168.0,374.0 168.4,373.6 168.9,373.2 169.3,372.8 169.8,372.4 170.3,372.0 170.7,371.7 171.2,371.3 171.6,370.9 172.1,370.5 172.5,370.1 173.0,369.7 173.4,369.3 173.9,368.9 174.4,368.5 174.8,368.1 175.3,367.7 175.7,367.4 176.2,367.0 176.6,366.6 177.1,366.2 177.6,365.8 178.0,365.4 178.5,365.0 178.9,364.7 179.4,364.3 179.9,363.9 180.3,363.5 180.8,363.1 181.3,362.8 181.7,362.4 182.2,362.0 182.7,361.6 183.1,361.2 183.6,360.9 184.1,360.5 184.5,360.1 185.0,359.7 185.5,359.4 185.9,359.0 186.4,358.6 186.9,358.2 187.3,357.8 187.8,357.5 188.2,357.1 188.7,356.7 189.2,356.3 189.6,355.9 190.1,355.6 190.6,355.2 191.0,354.8 191.5,354.4 192.0,354.0 192.4,353.7 192.9,353.3 193.4,352.9 193.8,352.5 194.3,352.2 194.8,351.8 195.2,351.4 195.7,351.0 196.2,350.6 196.6,350.3 197.1,349.9 197.6,349.5 198.0,349.1 198.5,348.7 199.0,348.4 199.4,348.0 199.9,347.6 200.3,347.2 200.8,346.9 201.3,346.5 201.7,346.1 202.2,345.7 202.7,345.3 203.1,345.0 203.6,344.6 204.1,344.2 204.5,343.8 205.0,343.4 205.5,343.1 205.9,342.7 206.4,342.3 206.9,341.9 207.3,341.6 207.8,341.2 208.3,340.8 208.7,340.4 209.2,340.0 209.7,339.7 210.1,339.3 210.6,338.9 211.1,338.5 211.5,338.1 212.0,337.8 212.4,337.4 212.9,337.0 213.4,336.6 213.8,336.3 214.3,335.9 214.8,335.5 215.2,335.1 215.7,334.7 216.2,334.4 216.6,334.0 217.1,333.6 217.6,333.2 218.0,332.8 218.5,332.5 219.0,332.1 219.4,331.7 219.9,331.3 220.4,331.0 220.8,330.6 221.3,330.2 221.8,329.8 222.2,329.4 222.7,329.1 223.2,328.7 223.6,328.3 224.1,327.9 224.5,327.5 225.0,327.2 225.5,326.8 225.9,326.4 226.4,326.0 226.9,325.6 227.3,325.3 227.8,324.9 228.3,324.5 228.7,324.1 229.2,323.8 229.7,323.4 230.1,323.0 230.6,322.6 231.1,322.2 231.5,321.9 232.0,321.5 232.5,321.1 232.9,320.7 233.4,320.3 233.9,320.0 234.3,319.6 234.8,319.2 235.2,318.8 235.7,318.5 236.2,318.0 236.6,317.7 237.1,317.3 237.6,316.9 238.0,316.6 238.5,316.1 239.0,315.7 239.4,315.5 239.9,315.0 240.3,314.7 240.8,314.2 241.3,314.0 241.7,313.5 242.2,312.9 242.7,312.8 243.1,312.3 243.6,312.3 244.1,311.5 244.5,311.4 245.0,310.3 245.5,310.3 245.9,309.7 246.4,309.7 246.9,309.1 247.3,309.3 247.8,308.7 248.3,308.6 248.7,307.6 249.2,306.9 249.7,307.1 250.1,307.1 250.6,306.4 251.1,306.4 251.6,305.5 252.0,305.1 252.5,305.0 253.0,304.8 253.5,304.0 253.9,303.6 254.4,303.2 254.9,303.5 255.3,302.2 255.8,302.6 256.3,301.9 256.8,301.9 257.2,301.4 257.7,300.6 258.2,300.5 258.7,300.0 259.2,299.6 259.7,299.1 260.1,299.4 260.6,298.2 261.1,298.4 261.6,298.5 262.1,297.8 262.6,297.8 263.1,297.3 263.6,297.1 264.2,296.2 264.7,296.2 265.2,296.0 265.7,295.6 266.3,295.0 266.8,294.7 267.3,294.8 267.9,294.6 268.5,294.4 269.0,293.6 269.6,293.8 270.2,293.6 270.8,293.8 271.4,293.3 272.0,293.6 272.6,293.1 273.2,293.4 273.8,293.8 274.4,293.9 274.9,293.4 275.5,293.9 276.1,293.9 276.7,294.8 277.2,294.6 277.8,294.7 278.3,295.5 278.9,294.4 279.4,295.2 280.0,295.8 280.6,295.8 281.1,296.2 281.7,296.1 282.2,296.4 282.8,296.8 283.3,297.3 283.9,297.8 284.4,297.2 285.0,297.9 285.5,297.4 286.1,298.1 286.6,298.6 287.2,298.5 287.7,299.0 288.3,299.1 288.9,299.8 289.5,299.4 290.0,299.3 290.6,299.1 291.2,299.6 291.8,300.0 292.4,300.5 293.0,299.9 293.6,299.7 294.2,299.7 294.8,299.8 295.4,299.8 296.0,299.6 296.5,299.2 297.1,299.1 297.6,298.6 298.2,298.7 298.7,297.8 299.3,298.1 299.8,297.6 300.3,297.3 300.8,297.1 301.4,296.7 301.9,296.2 302.4,296.1 302.9,295.8 303.4,295.5 303.9,295.3 304.4,294.7 304.8,293.9 305.3,294.0 305.8,293.7 306.2,293.3 306.7,292.4 307.1,292.6 307.6,292.4 308.0,291.6 308.4,291.4 308.9,291.0 309.3,290.6 309.7,289.6 310.1,289.6 310.4,288.9 310.8,288.2 311.2,288.1 311.6,287.5 311.9,287.2 312.3,286.7 312.6,285.9 312.9,285.7 313.3,285.2 313.6,284.4 314.0,284.1 314.3,283.6 314.6,283.3 314.9,282.7 315.3,282.0 315.6,281.4 315.9,280.7 316.2,280.7 316.5,280.2 316.8,279.7 317.1,279.0 317.4,278.6 317.7,277.9 318.0,277.5 318.3,277.0 318.7,276.4 319.0,276.2 319.3,275.4 319.5,274.7 319.8,274.2 320.1,273.9 320.4,273.2 320.7,272.7 321.0,272.1 321.3,271.5 321.6,271.3 321.9,270.4 322.2,270.5 322.5,269.5 322.8,269.2 323.1,268.5 323.4,268.2 323.6,267.6 323.9,267.1 324.2,266.7 324.5,265.8 324.7,265.4 325.0,264.8 325.3,264.3 325.5,263.7 325.8,263.1 326.0,262.7 326.3,262.1 326.5,261.6 326.8,261.1 327.0,260.4 327.3,259.8 327.5,259.2 327.8,258.8 328.0,258.3 328.3,257.8 328.5,257.3 328.8,256.5 329.0,256.2 329.3,255.6 329.6,254.7 329.8,254.5 330.1,254.0 330.2,253.7" fill="none" stroke="#2a60f0" stroke-width="1.25" stroke-linejoin="round"/>
<polyline points="44.0,414.1 44.6,414.1 45.2,414.1 45.8,414.1 46.4,414.1 47.0,414.1 47.6,414.1 48.2,414.1 48.8,414.1 49.4,414.1 50.0,414.1 50.6,414.1 51.2,414.1 51.8,414.1 52.4,414.1 53.0,414.1 53.6,414.1 54.2,414.1 54.8,414.1 55.4,414.1 56.0,414.1 56.6,414.1 57.2,414.1 57.8,414.1 58.4,414.1 59.0,414.1 59.6,414.1 60.2,414.1 60.8,414.1 61.4,414.1 62.0,414.1 62.6,414.1 63.2,414.1 63.8,414.1 64.4,414.1 65.0,414.1 65.6,414.1 66.2,414.1 66.8,414.1 67.4,414.1 68.0,414.1 68.6,414.1 69.2,414.1 69.8,414.1 70.4,414.1 71.0,414.1 71.6,414.1 72.2,414.1 72.8,414.1 73.4,414.1 74.0,414.0 74.6,414.0 75.2,414.0 75.8,414.0 76.4,413.9 77.0,413.9 77.6,413.9 78.2,413.9 78.8,413.9 79.4,413.8 80.0,413.8 80.6,413.8 81.2,413.7 81.8,413.7 82.4,413.6 83.0,413.5 83.6,413.5 84.2,413.4 84.8,413.3 85.3,413.1 85.9,413.0 86.5,412.9 87.1,412.7 87.7,412.5 88.2,412.3 88.8,412.2 89.4,411.9 89.9,411.7 90.5,411.5 91.0,411.3 91.6,411.0 92.1,410.7 92.6,410.5 93.2,410.2 93.7,409.9 94.2,409.5 94.7,409.2 95.2,408.9 95.7,408.5 96.1,408.1 96.6,407.7 97.0,407.3 97.4,406.9 97.8,406.4 98.3,406.0 98.7,405.6 99.1,405.1 99.5,404.7 99.9,404.2 100.3,403.8 100.7,403.3 101.1,402.9 101.5,402.5 101.9,402.0 102.4,401.6 102.8,401.2 103.3,400.8 103.7,400.4 104.2,400.0 104.6,399.6 105.1,399.3 105.5,398.9 106.0,398.5 106.4,398.1 106.9,397.7 107.4,397.4 107.9,397.0 108.4,396.7 108.9,396.3 109.4,396.0 109.9,395.7 110.4,395.4 110.9,395.1 111.4,394.8 112.0,394.6 112.5,394.3 113.1,394.1 113.6,393.9 114.2,393.6 114.8,393.4 115.3,393.2 115.9,393.0 116.5,392.8 117.0,392.6 117.6,392.4 118.1,392.2 118.7,392.0 119.3,391.8 119.8,391.6 120.4,391.4 121.0,391.2 121.5,391.0 122.1,390.8 122.7,390.6 123.2,390.4 123.8,390.2 124.4,390.0 124.9,389.8 125.5,389.6 126.1,389.4 126.6,389.2 127.2,389.0 127.8,388.8 128.3,388.6 128.9,388.4 129.5,388.2 130.0,388.0 130.6,387.8 131.2,387.6 131.7,387.4 132.3,387.2 132.9,387.0 133.4,386.8 134.0,386.6 134.6,386.5 135.1,386.3 135.7,386.1 136.3,385.9 136.8,385.7 137.4,385.5 138.0,385.3 138.5,385.0 139.1,384.8 139.6,384.6 140.2,384.3 140.7,384.1 141.3,383.8 141.8,383.5 142.3,383.2 142.8,383.0 143.4,382.7 143.9,382.4 144.4,382.1 144.9,381.8 145.4,381.4 145.9,381.1 146.4,380.8 146.9,380.4 147.4,380.1 147.9,379.8 148.4,379.4 148.9,379.1 149.4,378.7 149.9,378.4 150.4,378.0 150.9,377.7 151.4,377.3 151.8,377.0 152.3,376.6 152.8,376.3 153.3,375.9 153.8,375.6 154.2,375.2 154.7,374.8 155.2,374.5 155.7,374.1 156.2,373.8 156.6,373.4 157.1,373.0 157.6,372.7 158.1,372.3 158.5,371.9 159.0,371.6 159.5,371.2 160.0,370.8 160.4,370.5 160.9,370.1 161.4,369.7 161.9,369.4 162.3,369.0 162.8,368.6 163.3,368.3 163.8,367.9 164.2,367.5 164.7,367.2 165.2,366.8 165.7,366.4 166.2,366.1 166.6,365.7 167.1,365.4 167.6,365.0 168.1,364.6 168.5,364.3 169.0,363.9 169.5,363.6 170.0,363.2 170.5,362.8 171.0,362.5 171.4,362.1 171.9,361.8 172.4,361.4 172.9,361.0 173.4,360.7 173.8,360.3 174.3,360.0 174.8,359.6 175.3,359.3 175.8,358.9 176.3,358.5 176.7,358.2 177.2,357.8 177.7,357.5 178.2,357.1 178.7,356.8 179.1,356.4 179.6,356.0 180.1,355.7 180.6,355.3 181.1,355.0 181.6,354.6 182.0,354.3 182.5,353.9 183.0,353.5 183.5,353.2 184.0,352.8 184.5,352.5 184.9,352.1 185.4,351.8 185.9,351.4 186.4,351.0 186.9,350.7 187.3,350.3 187.8,350.0 188.3,349.6 188.8,349.3 189.3,348.9 189.8,348.5 190.2,348.2 190.7,347.8 191.2,347.5 191.7,347.1 192.2,346.8 192.6,346.4 193.1,346.0 193.6,345.7 194.1,345.3 194.6,345.0 195.1,344.6 195.5,344.3 196.0,343.9 196.5,343.5 197.0,343.2 197.5,342.8 197.9,342.5 198.4,342.1 198.9,341.8 199.4,341.4 199.9,341.0 200.4,340.7 200.8,340.3 201.3,340.0 201.8,339.6 202.3,339.3 202.8,338.9 203.3,338.5 203.7,338.2 204.2,337.8 204.7,337.5 205.2,337.1 205.7,336.8 206.1,336.4 206.6,336.0 207.1,335.7 207.6,335.3 208.1,335.0 208.6,334.6 209.0,334.3 209.5,333.9 210.0,333.5 210.5,333.2 211.0,332.8 211.4,332.5 211.9,332.1 212.4,331.8 212.9,331.4 213.4,331.0 213.9,330.7 214.3,330.3 214.8,330.0 215.3,329.6 215.8,329.3 216.3,328.9 216.8,328.5 217.2,328.2 217.7,327.8 218.2,327.5 218.7,327.1 219.2,326.8 219.6,326.4 220.1,326.0 220.6,325.7 221.1,325.3 221.6,325.0 222.1,324.6 222.5,324.3 223.0,323.9 223.5,323.5 224.0,323.2 224.5,322.8 224.9,322.5 225.4,322.1 225.9,321.8 226.4,321.4 226.9,321.1 227.4,320.7 227.8,320.3 228.3,320.0 228.8,319.6 229.3,319.3 229.8,318.9 230.3,318.6 230.7,318.2 231.2,317.8 231.7,317.5 232.2,317.1 232.7,316.8 233.2,316.4 233.6,316.1 234.1,315.7 234.6,315.3 235.1,315.0 235.6,314.6 236.1,314.3 236.5,314.0 237.0,313.6 237.5,313.1 238.0,312.9 238.5,312.6 238.9,312.1 239.4,311.6 239.9,311.6 240.4,311.0 240.9,310.7 241.4,310.5 241.8,310.1 242.3,309.7 242.8,308.8 243.3,308.9 243.8,308.3 244.2,308.2 244.7,307.6 245.2,307.9 245.7,306.7 246.1,307.0 246.6,306.3 247.1,306.1 247.6,305.6 248.0,305.2 248.5,304.7 249.0,304.8 249.5,304.2 249.9,303.7 250.4,303.5 250.9,303.1 251.3,302.6 251.8,302.3 252.3,302.0 252.7,301.9 253.2,300.9 253.7,300.3 254.1,300.3 254.6,300.5 255.1,299.8 255.6,299.3 256.1,298.9 256.5,298.3 257.0,298.6 257.5,298.2 258.0,298.0 258.5,297.0 259.0,297.3 259.5,296.8 260.0,296.4 260.5,295.7 261.0,295.6 261.5,295.1 262.1,295.0 262.6,294.3 263.1,294.2 263.7,294.1 264.2,293.4 264.8,293.8 265.4,293.8 265.9,293.2 266.5,293.1 267.1,292.9 267.6,293.1 268.2,292.9 268.8,292.8 269.4,292.6 270.0,292.4 270.6,292.4 271.2,292.6 271.8,292.9 272.4,292.5 273.0,292.1 273.6,292.2 274.1,292.2 274.7,292.7 275.3,293.0 275.9,292.8 276.4,293.1 277.0,293.6 277.5,294.0 278.0,294.0 278.6,294.9 279.1,294.7 279.7,294.9 280.2,294.8 280.7,295.6 281.3,295.5 281.8,295.8 282.3,295.7 282.9,296.7 283.4,297.3 283.9,297.1 284.4,297.3 284.9,297.7 285.4,297.9 285.9,298.5 286.5,298.8 287.0,298.9 287.5,298.9 288.1,299.3 288.6,299.6 289.2,299.6 289.8,300.6 290.4,299.7 290.9,299.9 291.5,300.2 292.1,300.7 292.7,300.3 293.3,300.2 293.9,300.7 294.5,300.9 295.1,300.1 295.7,300.4 296.3,300.3 296.8,299.7 297.4,299.3 297.9,299.2 298.5,298.9 299.0,298.9 299.5,298.2 300.0,298.7 300.5,298.1 301.0,297.4 301.5,297.1 302.0,296.7 302.5,296.0 303.0,296.1 303.5,295.8 303.9,295.3 304.4,295.1 304.9,294.5 305.3,294.1 305.8,293.6 306.2,293.5 306.7,292.6 307.1,292.5 307.5,292.0 307.9,292.0 308.4,291.0 308.8,290.8 309.2,290.5 309.5,289.8 309.9,289.6 310.3,288.9 310.6,288.5 311.0,288.1 311.3,287.6 311.6,286.9 311.9,286.6 312.2,285.8 312.5,285.7 312.8,284.8 313.1,284.4 313.4,283.8 313.6,283.4 313.9,282.9 314.2,282.2 314.4,281.7 314.7,280.8 314.9,280.5 315.1,280.0 315.4,279.4 315.6,278.9 315.9,278.4 316.1,278.0 316.3,277.3 316.6,276.7 316.8,276.2 317.1,275.7 317.3,275.2 317.6,274.6 317.8,274.2 318.1,273.5 318.3,272.9 318.6,272.3 318.9,271.9 319.1,271.2 319.4,271.0 319.7,270.1 320.0,269.8 320.3,269.2 320.6,268.5 320.9,267.6 321.2,267.6 321.5,267.0 321.8,266.4 322.1,265.9 322.4,265.6 322.7,265.0 323.0,264.2 323.3,264.3 323.6,263.3 323.9,262.8 324.2,262.5 324.5,261.7 324.8,261.4 325.1,261.1 325.4,260.4 325.7,259.8 326.0,259.3 326.3,258.7 326.5,258.0 326.8,257.7 327.1,257.2 327.4,256.6 327.7,256.0 328.0,255.6 328.3,255.1 328.6,254.7 328.9,254.1 329.2,253.5 329.4,252.9 329.7,252.2 330.0,251.8 330.2,251.6" fill="none" stroke="#a868e8" stroke-width="1.25" stroke-linejoin="round"/>
<polyline points="44.0,414.1 44.6,414.1 45.2,414.1 45.8,414.1 46.4,414.1 47.0,414.1 47.6,414.1 48.2,414.1 48.8,414.1 49.4,414.1 50.0,414.1 50.6,414.1 51.2,414.1 51.8,414.1 52.4,414.1 53.0,414.1 53.6,414.1 54.2,414.1 54.8,414.1 55.4,414.1 56.0,414.1 56.6,414.1 57.2,414.1 57.8,414.1 58.4,414.1 59.0,414.1 59.6,414.1 60.2,414.1 60.8,414.1 61.4,414.1 62.0,414.1 62.6,414.1 63.2,414.1 63.8,414.1 64.4,414.1 65.0,414.1 65.6,414.1 66.2,414.1 66.8,414.1 67.4,414.1 68.0,414.1 68.6,414.1 69.2,414.1 69.8,414.1 70.4,414.1 71.0,414.1 71.6,414.1 72.2,414.1 72.8,414.1 73.4,414.1 74.0,414.0 74.6,414.0 75.2,414.0 75.8,414.0 76.4,413.9 77.0,413.9 77.6,413.9 78.2,413.9 78.8,413.8 79.4,413.8 80.0,413.7 80.6,413.7 81.2,413.7 81.8,413.6 82.4,413.5 83.0,413.5 83.6,413.4 84.2,413.3 84.8,413.2 85.4,413.1 85.9,413.0 86.5,412.9 87.1,412.8 87.7,412.6 88.3,412.5 88.9,412.4 89.4,412.2 90.0,412.0 90.6,411.9 91.2,411.7 91.7,411.5 92.3,411.3 92.9,411.1 93.4,410.8 93.9,410.6 94.5,410.3 95.0,410.0 95.5,409.7 96.0,409.3 96.5,409.0 96.9,408.6 97.4,408.2 97.8,407.8 98.3,407.3 98.7,406.9 99.1,406.5 99.5,406.1 99.9,405.6 100.4,405.2 100.8,404.8 101.3,404.4 101.7,404.0 102.2,403.7 102.7,403.3 103.1,402.9 103.6,402.6 104.1,402.2 104.6,401.9 105.1,401.5 105.6,401.2 106.1,400.9 106.6,400.5 107.1,400.2 107.6,399.9 108.1,399.6 108.6,399.3 109.2,399.0 109.7,398.7 110.2,398.4 110.7,398.1 111.3,397.8 111.8,397.6 112.3,397.3 112.9,397.0 113.4,396.8 114.0,396.5 114.5,396.3 115.1,396.1 115.6,395.8 116.2,395.6 116.7,395.4 117.3,395.1 117.8,394.9 118.4,394.7 118.9,394.4 119.5,394.2 120.1,394.0 120.6,393.8 121.2,393.5 121.7,393.3 122.3,393.1 122.9,392.9 123.4,392.7 124.0,392.5 124.6,392.3 125.1,392.1 125.7,391.9 126.2,391.7 126.8,391.5 127.4,391.3 127.9,391.1 128.5,390.9 129.1,390.7 129.6,390.4 130.2,390.2 130.7,390.0 131.3,389.8 131.9,389.6 132.4,389.3 133.0,389.1 133.5,388.9 134.1,388.6 134.6,388.4 135.2,388.2 135.7,387.9 136.3,387.7 136.8,387.5 137.4,387.2 137.9,387.0 138.5,386.7 139.0,386.5 139.6,386.2 140.1,386.0 140.7,385.7 141.2,385.5 141.7,385.2 142.3,384.9 142.8,384.7 143.3,384.4 143.9,384.1 144.4,383.8 144.9,383.5 145.5,383.3 146.0,383.0 146.5,382.7 147.0,382.4 147.6,382.1 148.1,381.8 148.6,381.5 149.1,381.2 149.7,380.9 150.2,380.6 150.7,380.3 151.2,380.0 151.7,379.7 152.3,379.4 152.8,379.1 153.3,378.8 153.8,378.5 154.3,378.2 154.8,377.8 155.3,377.5 155.8,377.2 156.3,376.8 156.8,376.5 157.3,376.1 157.8,375.8 158.3,375.5 158.7,375.1 159.2,374.7 159.7,374.4 160.2,374.0 160.7,373.7 161.1,373.3 161.6,372.9 162.1,372.6 162.6,372.2 163.0,371.8 163.5,371.5 164.0,371.1 164.5,370.7 164.9,370.4 165.4,370.0 165.9,369.6 166.3,369.2 166.8,368.9 167.3,368.5 167.7,368.1 168.2,367.7 168.7,367.3 169.1,367.0 169.6,366.6 170.1,366.2 170.5,365.8 171.0,365.4 171.5,365.1 171.9,364.7 172.4,364.3 172.8,363.9 173.3,363.5 173.8,363.2 174.2,362.8 174.7,362.4 175.2,362.0 175.6,361.6 176.1,361.2 176.5,360.9 177.0,360.5 177.5,360.1 177.9,359.7 178.4,359.3 178.8,358.9 179.3,358.6 179.8,358.2 180.2,357.8 180.7,357.4 181.2,357.0 181.6,356.6 182.1,356.3 182.5,355.9 183.0,355.5 183.5,355.1 183.9,354.7 184.4,354.4 184.9,354.0 185.3,353.6 185.8,353.2 186.3,352.9 186.7,352.5 187.2,352.1 187.7,351.7 188.1,351.3 188.6,351.0 189.1,350.6 189.5,350.2 190.0,349.8 190.5,349.5 190.9,349.1 191.4,348.7 191.9,348.3 192.3,347.9 192.8,347.6 193.3,347.2 193.7,346.8 194.2,346.4 194.7,346.0 195.1,345.7 195.6,345.3 196.1,344.9 196.5,344.5 197.0,344.2 197.4,343.8 197.9,343.4 198.4,343.0 198.8,342.6 199.3,342.3 199.8,341.9 200.2,341.5 200.7,341.1 201.2,340.8 201.6,340.4 202.1,340.0 202.6,339.6 203.0,339.2 203.5,338.9 204.0,338.5 204.4,338.1 204.9,337.7 205.4,337.3 205.8,337.0 206.3,336.6 206.8,336.2 207.2,335.8 207.7,335.5 208.2,335.1 208.6,334.7 209.1,334.3 209.6,333.9 210.0,333.6 210.5,333.2 211.0,332.8 211.4,332.4 211.9,332.1 212.4,331.7 212.8,331.3 213.3,330.9 213.8,330.5 214.2,330.2 214.7,329.8 215.2,329.4 215.6,329.0 216.1,328.7 216.5,328.3 217.0,327.9 217.5,327.5 217.9,327.1 218.4,326.8 218.9,326.4 219.3,326.0 219.8,325.6 220.3,325.2 220.7,324.9 221.2,324.5 221.7,324.1 222.1,323.7 222.6,323.4 223.1,323.0 223.5,322.6 224.0,322.2 224.5,321.8 224.9,321.5 225.4,321.1 225.9,320.7 226.3,320.3 226.8,320.0 227.3,319.6 227.7,319.2 228.2,318.8 228.7,318.4 229.1,318.1 229.6,317.7 230.1,317.3 230.5,316.9 231.0,316.6 231.5,316.2 231.9,315.8 232.4,315.4 232.9,315.0 233.3,314.7 233.8,314.3 234.2,313.9 234.7,313.5 235.2,313.2 235.6,312.8 236.1,312.4 236.6,312.0 237.0,311.7 237.5,311.2 238.0,310.9 238.4,310.5 238.9,310.2 239.4,309.7 239.8,309.3 240.3,309.1 240.8,308.4 241.2,308.3 241.7,307.9 242.2,307.4 242.6,307.1 243.1,306.9 243.6,306.6 244.0,306.2 244.5,305.9 245.0,305.1 245.4,305.0 245.9,304.5 246.4,304.6 246.8,303.9 247.3,303.4 247.8,302.7 248.2,302.7 248.7,302.3 249.2,301.8 249.6,301.0 250.1,301.1 250.5,301.0 251.0,300.3 251.5,299.9 251.9,299.6 252.4,299.3 252.8,298.7 253.3,298.4 253.7,297.4 254.1,297.3 254.6,296.8 255.0,296.9 255.5,296.2 255.9,296.0 256.4,294.9 256.8,294.7 257.3,294.6 257.8,294.4 258.2,294.4 258.7,293.8 259.2,293.0 259.7,292.6 260.2,292.1 260.7,292.7 261.2,292.2 261.7,291.6 262.3,291.7 262.8,291.2 263.3,290.6 263.9,291.0 264.4,289.8 265.0,290.3 265.5,289.8 266.1,289.4 266.6,289.6 267.2,288.8 267.8,289.5 268.3,288.8 268.9,288.0 269.5,288.3 270.1,288.4 270.7,288.0 271.3,287.9 271.8,288.0 272.4,288.1 273.0,288.3 273.6,288.2 274.2,288.3 274.8,288.4 275.4,288.9 275.9,288.9 276.5,288.8 277.0,289.8 277.5,289.8 278.0,289.9 278.5,290.6 279.0,290.9 279.5,291.0 280.0,291.1 280.5,291.7 281.0,292.0 281.5,292.2 282.0,292.5 282.5,292.9 283.0,293.3 283.5,293.8 284.1,293.9 284.6,293.9 285.1,294.4 285.6,294.8 286.1,295.1 286.6,295.3 287.1,296.3 287.6,296.0 288.1,296.1 288.6,296.4 289.1,297.1 289.7,297.0 290.2,297.6 290.8,297.8 291.3,297.8 291.9,298.1 292.5,298.5 293.1,298.3 293.7,298.5 294.3,297.8 294.9,298.6 295.4,297.4 296.0,298.3 296.6,298.0 297.1,297.8 297.7,297.2 298.2,297.0 298.8,296.4 299.3,296.4 299.8,296.0 300.3,295.8 300.8,295.3 301.2,295.1 301.7,294.6 302.1,294.4 302.6,293.6 303.0,293.5 303.4,293.2 303.8,292.7 304.3,292.0 304.7,291.8 305.1,291.1 305.5,290.8 305.9,290.2 306.3,289.8 306.7,289.6 307.1,288.9 307.4,288.8 307.8,288.2 308.2,287.3 308.5,287.5 308.9,286.6 309.3,286.0 309.6,285.5 310.0,285.1 310.3,284.6 310.6,284.1 310.9,283.8 311.3,283.2 311.6,282.4 311.9,281.9 312.2,281.3 312.4,281.2 312.7,280.4 313.0,280.0 313.3,279.4 313.6,278.8 313.8,278.4 314.1,277.8 314.3,277.2 314.6,276.8 314.9,276.1 315.1,275.7 315.4,275.2 315.7,274.8 315.9,274.0 316.2,273.5 316.4,273.0 316.7,272.3 317.0,272.1 317.3,271.3 317.5,270.8 317.8,270.4 318.1,269.6 318.4,269.1 318.7,268.8 318.9,268.4 319.2,267.4 319.5,267.1 319.8,266.7 320.0,266.0 320.3,265.5 320.6,265.1 320.9,264.5 321.2,264.0 321.4,263.2 321.7,262.9 322.0,262.4 322.3,261.8 322.5,261.2 322.8,260.7 323.1,260.2 323.4,259.6 323.7,259.2 323.9,258.7 324.2,258.2 324.5,257.4 324.8,256.8 325.1,256.6 325.3,255.8 325.6,255.5 325.9,255.0 326.2,254.4 326.4,253.6 326.7,253.3 327.0,252.8 327.3,252.5 327.6,251.8 327.8,251.1 328.1,250.4 328.4,250.3 328.7,249.4 329.0,249.0 329.2,248.6 329.5,248.0 329.8,247.6 330.1,246.9 330.2,246.7" fill="none" stroke="#d0a028" stroke-width="1.25" stroke-linejoin="round"/>
<polyline points="44.0,414.1 44.6,414.1 45.2,414.1 45.8,414.1 46.4,414.1 47.0,414.1 47.6,414.1 48.2,414.1 48.8,414.1 49.4,414.1 50.0,414.1 50.6,414.1 51.2,414.1 51.8,414.1 52.4,414.1 53.0,414.1 53.6,414.1 54.2,414.1 54.8,414.1 55.4,414.1 56.0,414.1 56.6,414.1 57.2,414.1 57.8,414.1 58.4,414.1 59.0,414.1 59.6,414.1 60.2,414.1 60.8,414.1 61.4,414.1 62.0,414.1 62.6,414.1 63.2,414.1 63.8,414.1 64.4,414.1 65.0,414.1 65.6,414.1 66.2,414.1 66.8,414.1 67.4,414.1 68.0,414.1 68.6,414.1 69.2,414.1 69.8,414.1 70.4,414.1 71.0,414.1 71.6,414.1 72.2,414.1 72.8,414.1 73.4,414.0 74.0,414.0 74.6,414.0 75.2,414.0 75.8,414.0 76.4,414.0 77.0,413.9 77.6,413.9 78.2,413.9 78.8,413.9 79.4,413.8 80.0,413.8 80.6,413.8 81.2,413.7 81.8,413.7 82.4,413.6 83.0,413.6 83.6,413.5 84.2,413.4 84.8,413.3 85.4,413.2 86.0,413.2 86.6,413.1 87.1,413.0 87.7,412.9 88.3,412.8 88.9,412.7 89.5,412.6 90.1,412.5 90.7,412.3 91.3,412.2 91.9,412.1 92.4,411.9 93.0,411.7 93.6,411.6 94.1,411.4 94.7,411.1 95.2,410.9 95.8,410.6 96.3,410.3 96.8,410.0 97.3,409.6 97.7,409.2 98.2,408.8 98.6,408.4 99.1,408.0 99.5,407.6 100.0,407.2 100.4,406.8 100.9,406.4 101.3,406.0 101.8,405.7 102.3,405.3 102.7,404.9 103.2,404.6 103.7,404.2 104.1,403.8 104.6,403.4 105.1,403.0 105.5,402.7 106.0,402.3 106.5,402.0 107.0,401.6 107.5,401.3 108.0,400.9 108.5,400.6 109.0,400.3 109.6,400.0 110.1,399.8 110.6,399.5 111.2,399.2 111.7,398.9 112.2,398.7 112.8,398.4 113.3,398.2 113.9,397.9 114.4,397.7 115.0,397.4 115.5,397.2 116.1,396.9 116.6,396.7 117.2,396.5 117.7,396.2 118.3,396.0 118.8,395.8 119.4,395.6 119.9,395.3 120.5,395.1 121.1,394.9 121.6,394.7 122.2,394.5 122.7,394.3 123.3,394.1 123.9,393.9 124.4,393.7 125.0,393.5 125.6,393.3 126.1,393.1 126.7,392.9 127.3,392.7 127.9,392.6 128.4,392.4 129.0,392.2 129.6,392.1 130.2,391.9 130.7,391.7 131.3,391.6 131.9,391.4 132.5,391.3 133.1,391.1 133.6,391.0 134.2,390.8 134.8,390.7 135.4,390.5 136.0,390.4 136.5,390.2 137.1,390.1 137.7,389.9 138.3,389.7 138.9,389.6 139.4,389.4 140.0,389.3 140.6,389.1 141.2,389.0 141.8,388.8 142.3,388.6 142.9,388.5 143.5,388.3 144.1,388.1 144.6,388.0 145.2,387.8 145.8,387.7 146.4,387.5 147.0,387.4 147.6,387.2 148.1,387.1 148.7,387.0 149.3,386.8 149.9,386.7 150.5,386.5 151.0,386.4 151.6,386.2 152.2,386.0 152.8,385.9 153.3,385.7 153.9,385.5 154.5,385.3 155.1,385.1 155.6,384.9 156.2,384.7 156.8,384.5 157.3,384.3 157.9,384.1 158.4,383.9 159.0,383.6 159.5,383.4 160.1,383.1 160.6,382.9 161.2,382.6 161.7,382.4 162.2,382.1 162.8,381.8 163.3,381.6 163.8,381.3 164.4,381.0 164.9,380.7 165.4,380.4 166.0,380.2 166.5,379.9 167.0,379.6 167.5,379.3 168.1,379.0 168.6,378.7 169.1,378.4 169.6,378.1 170.2,377.8 170.7,377.5 171.2,377.2 171.7,376.9 172.2,376.6 172.8,376.3 173.3,376.0 173.8,375.7 174.3,375.4 174.8,375.1 175.4,374.8 175.9,374.5 176.4,374.2 176.9,373.9 177.4,373.6 177.9,373.3 178.5,373.0 179.0,372.7 179.5,372.4 180.0,372.1 180.5,371.8 181.1,371.5 181.6,371.2 182.1,370.9 182.6,370.6 183.1,370.3 183.7,370.0 184.2,369.7 184.7,369.4 185.2,369.1 185.8,368.9 186.3,368.6 186.8,368.3 187.3,368.0 187.9,367.7 188.4,367.4 188.9,367.1 189.4,366.8 190.0,366.5 190.5,366.2 191.0,365.9 191.5,365.6 192.1,365.4 192.6,365.1 193.1,364.8 193.6,364.5 194.2,364.2 194.7,363.9 195.2,363.6 195.7,363.3 196.2,363.0 196.8,362.7 197.3,362.4 197.8,362.1 198.3,361.9 198.9,361.6 199.4,361.3 199.9,361.0 200.4,360.7 201.0,360.4 201.5,360.1 202.0,359.8 202.5,359.5 203.1,359.2 203.6,358.9 204.1,358.7 204.6,358.4 205.2,358.1 205.7,357.8 206.2,357.5 206.7,357.2 207.3,356.9 207.8,356.6 208.3,356.3 208.8,356.0 209.4,355.7 209.9,355.4 210.4,355.2 210.9,354.9 211.5,354.6 212.0,354.3 212.5,354.0 213.0,353.7 213.6,353.4 214.1,353.1 214.6,352.8 215.1,352.5 215.7,352.2 216.2,351.9 216.7,351.7 217.2,351.4 217.8,351.1 218.3,350.8 218.8,350.5 219.3,350.2 219.9,349.9 220.4,349.6 220.9,349.3 221.4,349.0 221.9,348.7 222.5,348.5 223.0,348.2 223.5,347.9 224.0,347.6 224.6,347.3 225.1,347.0 225.6,346.7 226.1,346.4 226.7,346.1 227.2,345.8 227.7,345.5 228.2,345.2 228.8,345.0 229.3,344.7 229.8,344.4 230.3,344.1 230.9,343.8 231.4,343.5 231.9,343.2 232.4,342.9 233.0,342.6 233.5,342.3 234.0,342.0 234.5,341.7 235.1,341.5 235.6,341.2 236.1,340.9 236.6,340.6 237.2,340.2 237.7,340.0 238.2,339.8 238.7,339.6 239.3,339.3 239.8,339.0 240.3,338.9 240.8,338.2 241.4,338.0 241.9,337.7 242.4,337.5 242.9,337.3 243.5,336.8 244.0,336.9 244.5,336.6 245.0,336.1 245.6,335.8 246.1,335.1 246.6,334.4 247.1,334.8 247.7,334.6 248.2,334.3 248.7,333.6 249.2,333.5 249.7,333.8 250.3,333.2 250.8,332.8 251.3,332.3 251.8,332.2 252.3,332.0 252.8,331.6 253.3,331.0 253.8,330.8 254.3,330.2 254.8,330.0 255.3,329.8 255.8,329.2 256.3,329.0 256.8,329.0 257.3,328.3 257.8,328.2 258.3,327.7 258.8,327.1 259.3,327.1 259.9,326.8 260.4,326.1 260.9,326.0 261.5,326.0 262.0,326.3 262.6,325.5 263.2,325.4 263.7,325.4 264.3,325.1 264.9,324.8 265.4,325.1 266.0,324.9 266.6,323.6 267.2,324.4 267.7,324.2 268.3,324.1 268.9,323.7 269.5,323.8 270.1,324.0 270.7,323.8 271.3,323.7 271.8,323.4 272.4,323.3 273.0,323.3 273.6,322.6 274.2,323.6 274.8,323.0 275.4,323.0 276.0,323.0 276.6,323.2 277.2,322.5 277.8,323.3 278.4,323.0 279.0,323.2 279.6,323.0 280.2,323.2 280.8,324.0 281.3,323.8 281.9,324.0 282.5,324.2 283.1,324.1 283.6,324.4 284.2,324.5 284.8,324.9 285.3,324.6 285.9,325.3 286.5,325.8 287.1,325.9 287.7,325.9 288.3,325.7 288.9,325.2 289.5,325.7 290.1,325.6 290.7,325.4 291.3,324.9 291.9,325.2 292.4,325.4 293.0,325.0 293.6,324.6 294.2,324.7 294.8,324.4 295.3,324.2 295.9,324.2 296.5,323.9 297.0,323.6 297.6,323.5 298.1,322.9 298.7,322.6 299.2,322.7 299.8,322.2 300.3,322.2 300.8,321.3 301.3,321.8 301.8,321.1 302.4,321.3 302.9,319.9 303.4,319.8 303.9,320.2 304.4,319.6 304.9,319.3 305.3,318.9 305.8,318.5 306.3,318.2 306.8,317.5 307.2,317.3 307.7,317.3 308.2,316.7 308.6,316.1 309.1,315.9 309.6,315.7 310.0,315.0 310.5,314.6 310.9,314.4 311.3,314.0 311.8,313.8 312.2,313.0 312.6,312.7 313.1,312.4 313.5,311.4 313.9,311.3 314.3,311.0 314.7,310.4 315.1,309.8 315.5,309.7 316.0,309.4 316.4,308.7 316.8,308.2 317.2,307.8 317.6,307.7 318.0,307.2 318.4,306.5 318.8,305.8 319.2,305.3 319.6,305.1 320.0,304.6 320.4,304.3 320.8,303.6 321.1,303.3 321.5,303.0 321.9,302.1 322.3,302.4 322.7,301.6 323.1,301.1 323.4,300.3 323.8,299.9 324.2,299.8 324.6,299.3 325.0,298.2 325.3,298.4 325.7,297.9 326.1,297.4 326.5,296.6 326.8,296.4 327.2,295.8 327.6,295.5 328.0,295.3 328.3,294.6 328.7,294.2 329.1,293.5 329.5,292.9 329.9,292.6 330.2,292.2" fill="none" stroke="#28c4cc" stroke-width="1.25" stroke-linejoin="round"/>
<line x1="72.58" y1="431.74" x2="235" y2="341.49" stroke="#109a9a" stroke-width="1.3"/>
<polygon points="66.9,434.9 73.84,434.02 71.32,429.47" fill="#109a9a"/>
<line x1="77.53" y1="431.48" x2="235" y2="333.98" stroke="#202020" stroke-width="1.3"/>
<polygon points="72,434.9 78.9,433.69 76.16,429.27" fill="#202020"/>
<line x1="74.85" y1="431.21" x2="225" y2="327.64" stroke="#1a8a2a" stroke-width="1.3"/>
<polygon points="69.5,434.9 76.33,433.35 73.37,429.07" fill="#1a8a2a"/>
<line x1="78.42" y1="431.03" x2="230" y2="318.73" stroke="#6020a0" stroke-width="1.3"/>
<polygon points="73.2,434.9 79.97,433.12 76.87,428.94" fill="#6020a0"/>
<line x1="90.25" y1="430.8" x2="235" y2="313.29" stroke="#e0a818" stroke-width="1.3"/>
<polygon points="85.2,434.9 91.89,432.82 88.61,428.78" fill="#e0a818"/>
<line x1="97.64" y1="430.8" x2="235" y2="319.04" stroke="#2040ff" stroke-width="1.3"/>
<polygon points="92.6,434.9 99.28,432.81 96,428.78" fill="#2040ff"/>
<line x1="104.81" y1="430.89" x2="235" y2="328.8" stroke="#ff1818" stroke-width="1.3"/>
<polygon points="99.7,434.9 106.42,432.94 103.21,428.84" fill="#ff1818"/>
<rect x="44.0" y="246.5" width="286.4" height="188.4" fill="none" stroke="#111" stroke-width="1.3"/>
<line x1="41.8" y1="435.05" x2="44" y2="435.05" stroke="#111" stroke-width="1.1"/>
<line x1="39.6" y1="414.1" x2="44" y2="414.1" stroke="#111" stroke-width="1.1"/>
<line x1="41.8" y1="393.15" x2="44" y2="393.15" stroke="#111" stroke-width="1.1"/>
<line x1="39.6" y1="372.2" x2="44" y2="372.2" stroke="#111" stroke-width="1.1"/>
<line x1="41.8" y1="351.25" x2="44" y2="351.25" stroke="#111" stroke-width="1.1"/>
<line x1="39.6" y1="330.3" x2="44" y2="330.3" stroke="#111" stroke-width="1.1"/>
<line x1="41.8" y1="309.35" x2="44" y2="309.35" stroke="#111" stroke-width="1.1"/>
<line x1="39.6" y1="288.4" x2="44" y2="288.4" stroke="#111" stroke-width="1.1"/>
<line x1="41.8" y1="267.45" x2="44" y2="267.45" stroke="#111" stroke-width="1.1"/>
<line x1="39.6" y1="246.5" x2="44" y2="246.5" stroke="#111" stroke-width="1.1"/>
<text x="36.2" y="416.3" font-size="8.4" stroke="#000" stroke-width="0.25" text-anchor="end" font-weight="bold" textLength="5" lengthAdjust="spacingAndGlyphs">0</text>
<text x="36.2" y="374.4" font-size="8.4" stroke="#000" stroke-width="0.25" text-anchor="end" font-weight="bold" textLength="16" lengthAdjust="spacingAndGlyphs">100</text>
<text x="36.2" y="332.5" font-size="8.4" stroke="#000" stroke-width="0.25" text-anchor="end" font-weight="bold" textLength="16" lengthAdjust="spacingAndGlyphs">200</text>
<text x="36.2" y="290.6" font-size="8.4" stroke="#000" stroke-width="0.25" text-anchor="end" font-weight="bold" textLength="16" lengthAdjust="spacingAndGlyphs">300</text>
<text x="36.2" y="248.7" font-size="8.4" stroke="#000" stroke-width="0.25" text-anchor="end" font-weight="bold" textLength="16" lengthAdjust="spacingAndGlyphs">400</text>
<line x1="44" y1="434.9" x2="44" y2="438.2" stroke="#111" stroke-width="1.1"/>
<line x1="61.9" y1="434.9" x2="61.9" y2="436.8" stroke="#111" stroke-width="1.1"/>
<line x1="79.8" y1="434.9" x2="79.8" y2="438.2" stroke="#111" stroke-width="1.1"/>
<line x1="97.7" y1="434.9" x2="97.7" y2="436.8" stroke="#111" stroke-width="1.1"/>
<line x1="115.6" y1="434.9" x2="115.6" y2="438.2" stroke="#111" stroke-width="1.1"/>
<line x1="133.5" y1="434.9" x2="133.5" y2="436.8" stroke="#111" stroke-width="1.1"/>
<line x1="151.4" y1="434.9" x2="151.4" y2="438.2" stroke="#111" stroke-width="1.1"/>
<line x1="169.3" y1="434.9" x2="169.3" y2="436.8" stroke="#111" stroke-width="1.1"/>
<line x1="187.2" y1="434.9" x2="187.2" y2="438.2" stroke="#111" stroke-width="1.1"/>
<line x1="205.1" y1="434.9" x2="205.1" y2="436.8" stroke="#111" stroke-width="1.1"/>
<line x1="223" y1="434.9" x2="223" y2="438.2" stroke="#111" stroke-width="1.1"/>
<line x1="240.9" y1="434.9" x2="240.9" y2="436.8" stroke="#111" stroke-width="1.1"/>
<line x1="258.8" y1="434.9" x2="258.8" y2="438.2" stroke="#111" stroke-width="1.1"/>
<line x1="276.7" y1="434.9" x2="276.7" y2="436.8" stroke="#111" stroke-width="1.1"/>
<line x1="294.6" y1="434.9" x2="294.6" y2="438.2" stroke="#111" stroke-width="1.1"/>
<line x1="312.5" y1="434.9" x2="312.5" y2="436.8" stroke="#111" stroke-width="1.1"/>
<line x1="330.4" y1="434.9" x2="330.4" y2="438.2" stroke="#111" stroke-width="1.1"/>
<text x="44" y="447.6" font-size="8.4" stroke="#000" stroke-width="0.25" text-anchor="middle" font-weight="bold" textLength="13.6" lengthAdjust="spacingAndGlyphs">2.0</text>
<text x="79.8" y="447.6" font-size="8.4" stroke="#000" stroke-width="0.25" text-anchor="middle" font-weight="bold" textLength="13.6" lengthAdjust="spacingAndGlyphs">2.5</text>
<text x="115.6" y="447.6" font-size="8.4" stroke="#000" stroke-width="0.25" text-anchor="middle" font-weight="bold" textLength="13.6" lengthAdjust="spacingAndGlyphs">3.0</text>
<text x="151.4" y="447.6" font-size="8.4" stroke="#000" stroke-width="0.25" text-anchor="middle" font-weight="bold" textLength="13.6" lengthAdjust="spacingAndGlyphs">3.5</text>
<text x="187.2" y="447.6" font-size="8.4" stroke="#000" stroke-width="0.25" text-anchor="middle" font-weight="bold" textLength="13.6" lengthAdjust="spacingAndGlyphs">4.0</text>
<text x="223" y="447.6" font-size="8.4" stroke="#000" stroke-width="0.25" text-anchor="middle" font-weight="bold" textLength="13.6" lengthAdjust="spacingAndGlyphs">4.5</text>
<text x="258.8" y="447.6" font-size="8.4" stroke="#000" stroke-width="0.25" text-anchor="middle" font-weight="bold" textLength="13.6" lengthAdjust="spacingAndGlyphs">5.0</text>
<text x="294.6" y="447.6" font-size="8.4" stroke="#000" stroke-width="0.25" text-anchor="middle" font-weight="bold" textLength="13.6" lengthAdjust="spacingAndGlyphs">5.5</text>
<text x="330.4" y="447.6" font-size="8.4" stroke="#000" stroke-width="0.25" text-anchor="middle" font-weight="bold" textLength="13.6" lengthAdjust="spacingAndGlyphs">6.0</text>
<text x="186.9" y="464.5" font-size="10.2" stroke="#000" stroke-width="0.35" text-anchor="middle" font-weight="bold" textLength="65.3" lengthAdjust="spacingAndGlyphs">Energy (eV)</text>
<text font-size="9.6" font-weight="bold" stroke="#000" stroke-width="0.3" text-anchor="middle" textLength="77" lengthAdjust="spacingAndGlyphs" transform="translate(13.6,341.3) rotate(-90)">(&#945;h&#957;)<tspan font-size="6.5" dy="-3.6">2</tspan><tspan dy="3.6"> (eV cm</tspan><tspan font-size="6.5" dy="-3.6">-1</tspan><tspan dy="3.6">)</tspan><tspan font-size="6.5" dy="-3.6">2</tspan></text>
<text x="0.2" y="243.2" font-size="16" stroke="#000" stroke-width="0.2" font-weight="bold" textLength="17.3" lengthAdjust="spacingAndGlyphs">(c)</text>
<rect x="49.2" y="246.5" width="113.8" height="98.4" fill="#fff" stroke="#c4c4c4" stroke-width="0.8"/>
<line x1="51" y1="253.6" x2="78" y2="253.6" stroke="#777" stroke-width="1.3"/>
<text x="81.4" y="257.6" font-size="10.0" textLength="22.8" lengthAdjust="spacingAndGlyphs">CdS</text>
<line x1="51" y1="266" x2="78" y2="266" stroke="#e84040" stroke-width="1.3"/>
<text x="81.4" y="270" font-size="10.0" textLength="29.4" lengthAdjust="spacingAndGlyphs">CeO<tspan font-size="7.20" dy="2.6">2</tspan></text>
<line x1="51" y1="280.3" x2="78" y2="280.3" stroke="#2a66e0" stroke-width="1.3"/>
<text x="81.4" y="284.3" font-size="10.0" textLength="79.8" lengthAdjust="spacingAndGlyphs">CdS/CeO<tspan font-size="7.20" dy="2.6">2</tspan><tspan dy="-2.6">(1:3)</tspan></text>
<line x1="51" y1="294.6" x2="78" y2="294.6" stroke="#3aa866" stroke-width="1.3"/>
<text x="81.4" y="298.6" font-size="10.0" textLength="79.8" lengthAdjust="spacingAndGlyphs">CdS/CeO<tspan font-size="7.20" dy="2.6">2</tspan><tspan dy="-2.6">(3:1)</tspan></text>
<line x1="51" y1="308.5" x2="78" y2="308.5" stroke="#b878ee" stroke-width="1.3"/>
<text x="81.4" y="312.5" font-size="10.0" textLength="79.8" lengthAdjust="spacingAndGlyphs">CdS/CeO<tspan font-size="7.20" dy="2.6">2</tspan><tspan dy="-2.6">(1:1)</tspan></text>
<line x1="51" y1="323" x2="78" y2="323" stroke="#d0a020" stroke-width="1.3"/>
<text x="81.4" y="327" font-size="10.0" textLength="79.8" lengthAdjust="spacingAndGlyphs">CdS/CeO<tspan font-size="7.20" dy="2.6">2</tspan><tspan dy="-2.6">(1:2)</tspan></text>
<line x1="51" y1="336.9" x2="78" y2="336.9" stroke="#30d0d8" stroke-width="1.3"/>
<text x="81.4" y="340.9" font-size="10.0" textLength="79.8" lengthAdjust="spacingAndGlyphs">CdS/CeO<tspan font-size="7.20" dy="2.6">2</tspan><tspan dy="-2.6">(2:1)</tspan></text>
<rect x="44.0" y="246.5" width="286.4" height="188.4" fill="none" stroke="#111" stroke-width="1.3"/>
<clipPath id="cd"><rect x="385.8" y="246.6" width="290.7" height="191.8"/></clipPath>
<g clip-path="url(#cd)">
<polyline points="390.2,351.5 390.3,352.1 390.4,352.7 390.5,353.2 390.6,353.9 390.7,354.5 390.8,355.1 390.9,355.6 391.0,356.3 391.0,356.8 391.1,357.5 391.2,358.1 391.2,358.6 391.3,359.2 391.4,359.8 391.4,360.4 391.5,361.0 391.6,361.6 391.6,362.2 391.7,362.8 391.8,363.4 391.8,364.0 391.9,364.6 392.0,365.1 392.0,365.8 392.1,366.3 392.2,366.9 392.2,367.6 392.3,368.2 392.4,368.8 392.5,369.3 392.5,369.9 392.6,370.5 392.7,371.1 392.8,371.8 392.8,372.3 392.9,372.9 393.0,373.5 393.1,374.2 393.2,374.6 393.3,375.2 393.5,375.9 393.6,376.5 393.7,377.0 393.8,377.7 393.9,378.2 394.1,378.8 394.2,379.4 394.3,380.0 394.4,380.6 394.5,381.1 394.6,381.8 394.7,382.3 394.9,382.9 395.0,383.4 395.2,384.1 395.3,384.6 395.5,385.2 395.7,385.8 395.8,386.3 396.0,387.0 396.2,387.5 396.4,388.1 396.6,388.7 396.8,389.3 397.0,389.8 397.1,390.5 397.3,391.1 397.5,391.5 397.8,392.2 398.0,392.8 398.2,393.2 398.4,393.6 398.6,394.2 398.9,394.8 399.2,395.6 399.4,396.0 399.7,396.6 400.0,396.9 400.3,397.4 400.7,398.0 401.0,398.3 401.4,398.9 401.8,399.5 402.2,399.9 402.6,400.4 403.0,400.7 403.4,401.3 403.8,401.7 404.2,401.8 404.6,402.4 405.0,402.9 405.4,403.5 405.8,403.9 406.1,404.4 406.5,404.8 406.9,405.4 407.3,405.9 407.7,406.1 408.1,406.3 408.6,407.1 409.0,407.4 409.5,407.8 409.9,408.2 410.4,408.3 410.9,408.6 411.4,409.4 412.0,409.7 412.5,409.9 413.1,409.9 413.6,410.1 414.2,410.1 414.8,410.4 415.4,410.5 416.0,410.6 416.5,411.0 417.1,411.5 417.7,410.8 418.2,411.6 418.8,411.9 419.4,411.6 419.9,412.2 420.4,412.4 421.0,412.6 421.5,412.8 422.1,412.8 422.6,413.8 423.2,414.2 423.7,414.3 424.3,414.1 424.8,414.4 425.4,414.7 425.9,414.6 426.5,414.9 427.1,415.3 427.7,415.3 428.2,415.1 428.8,415.4 429.4,415.9 430.0,415.9 430.6,416.0 431.2,416.5 431.8,416.3 432.3,416.2 432.9,416.4 433.5,417.0 434.1,416.3 434.7,417.1 435.3,417.0 435.9,416.7 436.5,416.6 437.1,417.1 437.7,416.8 438.3,416.6 438.9,417.1 439.5,416.6 440.1,416.5 440.7,416.3 441.3,416.0 441.8,415.9 442.3,415.5 442.8,415.2 443.2,414.9 443.6,414.4 443.9,414.0 444.3,413.5 444.7,412.9 445.0,412.2 445.4,412.0 445.7,411.1 446.1,410.8 446.6,410.6 447.1,409.8 447.5,410.1 448.0,409.2 448.5,408.8 449.0,408.6 449.6,408.4 450.1,408.3 450.7,408.1 451.3,408.4 451.9,408.1 452.5,408.3 453.0,408.2 453.6,408.8 454.1,408.8 454.6,408.9 455.1,409.9 455.6,409.8 456.0,410.2 456.4,410.7 456.8,411.4 457.1,411.7 457.4,412.4 457.6,413.0 457.9,413.7 458.1,414.0 458.3,414.6 458.6,415.1 458.8,415.9 459.1,416.2 459.4,416.7 459.7,417.3 460.0,417.7 460.2,418.3 460.5,418.7 460.8,419.6 461.1,419.9 461.5,420.3 461.9,421.0 462.4,420.9 462.9,421.8 463.5,422.1 464.0,421.7 464.6,422.3 465.2,422.3 465.7,422.7 466.3,422.6 466.9,422.5 467.5,423.0 468.1,422.9 468.7,423.2 469.2,423.5 469.8,423.6 470.4,423.6 471.0,423.2 471.6,423.8 472.2,423.6 472.8,424.1 473.4,423.8 474.0,424.3 474.6,424.2 475.2,424.1 475.8,424.3 476.4,423.8 477.0,424.4 477.6,424.3 478.2,424.1 478.8,424.5 479.4,424.5 480.0,424.5 480.6,424.4 481.2,424.6 481.8,424.6 482.4,424.4 483.0,424.4 483.6,424.3 484.2,424.2 484.8,424.5 485.4,424.2 486.0,423.9 486.6,424.3 487.2,424.5 487.8,424.2 488.4,424.4 489.0,424.3 489.6,423.9 490.2,424.2 490.8,424.0 491.4,424.2 492.0,423.3 492.6,424.1 493.2,424.1 493.8,423.6 494.3,424.1 494.9,423.7 495.5,423.7 496.1,423.8 496.7,423.9 497.3,423.5 497.9,423.6 498.5,423.4 499.1,423.1 499.7,423.6 500.3,423.3 500.9,423.0 501.5,423.2 502.1,423.0 502.7,422.6 503.3,422.9 503.9,422.6 504.5,422.7 505.1,422.7 505.7,422.7 506.3,422.8 506.9,422.4 507.5,422.2 508.1,422.1 508.7,422.0 509.3,422.3 509.9,422.3 510.5,421.9 511.1,422.0 511.7,422.0 512.3,422.5 512.9,421.9 513.5,422.2 514.1,421.8 514.7,422.2 515.3,422.6 515.8,422.0 516.4,422.7 517.0,422.1 517.6,422.7 518.2,422.5 518.8,422.9 519.4,423.0 519.9,423.4 520.5,423.5 521.1,423.6 521.7,423.5 522.3,423.9 522.9,423.7 523.5,423.8 524.1,423.9 524.7,424.1 525.3,424.5 525.9,423.9 526.5,424.3 527.0,423.5 527.6,423.5 528.2,423.6 528.8,423.5 529.4,423.4 530.0,423.5 530.6,423.0 531.2,423.3 531.8,423.0 532.4,422.2 533.0,422.7 533.6,422.8 534.2,423.1 534.8,423.3 535.4,423.2 535.9,423.7 536.5,423.3 537.1,423.6 537.7,424.0 538.3,423.6 538.9,424.3 539.5,424.4 540.0,424.2 540.6,424.3 541.2,424.4 541.8,424.5 542.4,424.8 543.0,424.6 543.6,424.2 544.2,424.1 544.8,424.6 545.4,423.8 546.0,424.0 546.6,424.3 547.2,424.4 547.8,424.7 548.4,424.4 549.0,425.3 549.6,424.5 550.2,424.6 550.8,424.7 551.4,424.5 552.0,424.7 552.6,424.7 553.2,424.6 553.8,424.4 554.4,424.5 555.0,424.9 555.6,424.7 556.2,424.8 556.8,424.9 557.4,424.9 558.0,424.9 558.6,425.1 559.2,425.2 559.8,425.4 560.4,425.2 561.0,425.0 561.6,425.1 562.2,425.5 562.8,425.0 563.4,425.4 564.0,425.8 564.6,425.6 565.2,425.6 565.7,426.2 566.3,425.4 566.9,426.1 567.5,426.1 568.1,426.2 568.7,426.7 569.3,426.9 569.9,427.0 570.5,426.9 571.1,426.9 571.6,426.9 572.2,427.0 572.8,426.7 573.4,427.1 574.0,427.4 574.6,427.3 575.2,427.6 575.8,427.0 576.4,427.4 577.0,427.3 577.6,427.9 578.2,427.6 578.8,427.6 579.4,427.4 580.0,427.7 580.6,427.6 581.2,427.8 581.8,428.5 582.4,427.7 583.0,428.0 583.6,427.9 584.2,428.4 584.8,427.9 585.4,428.0 586.0,428.3 586.6,428.7 587.2,428.4 587.8,428.2 588.4,427.8 589.0,427.6 589.6,428.5 590.2,428.6 590.8,428.9 591.4,428.8 592.0,428.6 592.6,429.1 593.2,429.2 593.8,428.7 594.4,429.1 595.0,429.2 595.6,428.8 596.2,429.1 596.8,429.0 597.4,429.4 598.0,429.4 598.6,428.6 599.2,429.1 599.8,429.6 600.4,429.4 600.9,429.1 601.5,429.2 602.1,429.1 602.7,429.5 603.3,429.1 603.9,429.8 604.5,429.8 605.1,430.0 605.7,429.9 606.3,429.9 606.9,429.9 607.5,429.9 608.1,429.3 608.7,430.0 609.3,429.7 609.9,429.3 610.5,430.3 611.1,430.0 611.7,429.6 612.3,430.1 612.9,430.2 613.5,430.2 614.1,430.6 614.7,430.0 615.3,430.5 615.9,430.1 616.5,430.5 617.1,430.6 617.7,430.3 618.3,431.1 618.9,430.1 619.5,430.2 620.1,430.5 620.7,430.4 621.3,430.9 621.9,430.5 622.5,431.1 623.1,430.6 623.7,431.0 624.3,431.0 624.9,430.9 625.5,431.1 626.1,431.0 626.7,431.5 627.3,431.6 627.9,430.9 628.5,431.1 629.1,431.3 629.7,431.2 630.3,431.6 630.9,431.8 631.5,430.6 632.1,431.0 632.7,431.5 633.3,431.3 633.9,431.0 634.5,431.2 635.1,431.3 635.7,431.7 636.3,431.1 636.9,431.4 637.5,431.7 638.1,431.6 638.7,431.3 639.3,431.3 639.9,431.0 640.5,431.0 641.1,431.2 641.7,431.7 642.3,431.7 642.9,431.9 643.5,431.8 644.1,431.8 644.7,431.6 645.3,431.4 645.9,432.0 646.5,431.6 647.1,431.3 647.7,431.8 648.3,431.8 648.9,432.4 649.5,431.7 650.1,431.9 650.7,431.6 651.3,432.1 651.9,432.0 652.5,431.7 653.1,432.0 653.7,431.7 654.3,432.2 654.9,431.9 655.5,432.2 656.1,431.9 656.7,431.9 657.3,432.1 657.9,432.4 658.5,432.3 659.1,431.7 659.7,432.5 660.3,432.3 660.9,432.5 661.5,432.7 662.1,432.6 662.7,432.2 663.3,432.4 663.9,432.6 664.5,432.8 665.1,432.3 665.7,432.4 666.3,432.4 666.9,432.7 667.5,432.5 668.1,433.3 668.7,432.9 669.3,433.0 669.9,432.9 670.5,432.7 671.1,432.2 671.7,433.2 672.3,433.0 672.9,432.4 673.5,433.7 674.1,433.2 674.7,433.4 675.3,433.0 675.9,432.6 676.5,432.9 676.8,433.1" fill="none" stroke="#505050" stroke-width="1.4" stroke-linejoin="round"/>
<polyline points="388.2,246.6 388.2,247.2 388.2,247.8 388.2,248.4 388.2,249.0 388.2,249.6 388.2,250.2 388.2,250.8 388.2,251.4 388.2,252.0 388.2,252.6 388.2,253.2 388.2,253.8 388.2,254.4 388.2,255.0 388.2,255.6 388.2,256.2 388.2,256.8 388.2,257.4 388.2,258.0 388.2,258.6 388.2,259.2 388.2,259.8 388.2,260.4 388.2,261.0 388.2,261.6 388.2,262.2 388.2,262.8 388.2,263.4 388.2,264.0 388.2,264.6 388.2,265.2 388.2,265.8 388.2,266.4 388.2,267.0 388.2,267.6 388.2,268.2 388.2,268.8 388.2,269.4 388.2,270.0 388.2,270.6 388.2,271.2 388.2,271.8 388.2,272.4 388.2,273.0 388.2,273.6 388.2,274.2 388.2,274.8 388.2,275.4 388.2,276.0 388.2,276.6 388.2,277.2 388.2,277.8 388.2,278.4 388.2,279.0 388.2,279.6 388.2,280.2 388.2,280.8 388.2,281.4 388.2,282.0 388.2,282.6 388.2,283.2 388.2,283.8 388.2,284.4 388.2,285.0 388.2,285.6 388.2,286.2 388.2,286.8 388.2,287.4 388.2,288.0 388.2,288.6 388.2,289.2 388.2,289.8 388.2,290.4 388.2,291.0 388.2,291.6 388.2,292.2 388.2,292.8 388.2,293.4 388.2,294.0 388.2,294.6 388.2,295.2 388.2,295.8 388.2,296.4 388.2,297.0 388.2,297.6 388.2,298.2 388.2,298.8 388.2,299.4 388.2,300.0 388.2,300.6 388.2,301.2 388.2,301.8 388.2,302.4 388.2,303.0 388.2,303.6 388.2,304.2 388.2,304.8 388.2,305.4 388.2,306.0 388.2,306.6 388.2,307.2 388.2,307.8 388.2,308.4 388.2,309.0 388.2,309.6 388.2,310.2 388.2,310.8 388.2,311.4 388.2,312.0 388.2,312.6 388.2,313.2 388.2,313.8 388.2,314.4 388.2,315.0 388.2,315.6 388.2,316.2 388.3,316.8 388.3,317.4 388.3,318.0 388.3,318.6 388.3,319.2 388.3,319.8 388.3,320.4 388.3,321.0 388.3,321.6 388.3,322.2 388.3,322.8 388.3,323.4 388.3,324.0 388.3,324.6 388.3,325.2 388.3,325.8 388.3,326.4 388.3,327.0 388.3,327.6 388.3,328.2 388.3,328.8 388.3,329.4 388.3,330.0 388.3,330.6 388.3,331.2 388.3,331.8 388.3,332.4 388.3,333.0 388.3,333.6 388.3,334.2 388.4,334.8 388.4,335.4 388.4,336.0 388.4,336.6 388.4,337.2 388.4,337.8 388.4,338.4 388.4,339.0 388.4,339.6 388.4,340.2 388.4,340.8 388.4,341.4 388.4,342.0 388.4,342.6 388.4,343.2 388.4,343.8 388.4,344.4 388.4,345.0 388.4,345.6 388.4,346.2 388.4,346.8 388.5,347.4 388.5,348.0 388.5,348.6 388.5,349.2 388.5,349.8 388.5,350.4 388.5,351.0 388.5,351.6 388.5,352.2 388.5,352.8 388.5,353.4 388.5,354.0 388.5,354.6 388.5,355.2 388.6,355.8 388.6,356.4 388.6,357.0 388.6,357.6 388.7,358.2 388.7,358.8 388.8,359.4 388.8,360.0 388.9,360.6 388.9,361.2 389.0,361.8 389.1,362.4 389.2,363.0 389.4,363.5 389.6,364.1 389.8,364.7 390.0,365.3 390.2,365.8 390.4,366.5 390.6,367.0 390.7,367.4 390.9,368.1 391.0,368.7 391.1,369.3 391.3,369.9 391.4,370.5 391.5,371.0 391.6,371.6 391.7,372.3 391.8,372.8 392.0,373.4 392.1,374.0 392.2,374.5 392.3,375.1 392.5,375.7 392.6,376.4 392.7,376.9 392.9,377.5 393.0,378.0 393.2,378.7 393.4,379.2 393.5,379.8 393.7,380.3 393.8,381.0 394.0,381.5 394.2,382.1 394.4,382.7 394.5,383.1 394.7,383.9 394.9,384.4 395.1,384.9 395.3,385.5 395.5,386.1 395.7,386.7 395.8,387.4 396.0,387.8 396.2,388.3 396.4,388.9 396.6,389.7 396.8,390.1 397.0,390.8 397.2,391.2 397.4,391.7 397.6,392.3 397.8,392.8 398.0,393.5 398.2,394.0 398.5,394.4 398.7,395.0 399.0,395.6 399.3,396.1 399.6,396.9 399.9,397.4 400.2,397.8 400.6,398.3 400.9,398.5 401.3,399.2 401.7,399.3 402.1,400.0 402.5,400.5 402.9,401.0 403.3,401.3 403.7,401.8 404.1,402.1 404.5,402.3 404.9,403.0 405.3,403.3 405.7,404.0 406.1,404.4 406.5,404.7 406.9,405.1 407.3,405.8 407.7,406.1 408.2,406.7 408.6,407.2 409.0,407.8 409.5,408.1 410.0,408.1 410.5,408.6 411.0,409.3 411.5,409.0 412.1,409.3 412.6,410.0 413.2,410.0 413.8,409.9 414.3,410.3 414.9,410.2 415.5,410.7 416.1,410.6 416.7,410.8 417.2,411.0 417.8,410.6 418.4,411.3 418.9,411.6 419.5,411.7 420.1,411.8 420.6,412.1 421.2,412.6 421.8,412.7 422.3,412.6 422.9,413.2 423.5,413.2 424.0,413.3 424.5,413.3 425.1,414.1 425.6,414.0 426.1,414.6 426.6,415.1 427.2,415.3 427.7,415.1 428.3,415.4 428.8,415.9 429.4,416.2 430.0,416.1 430.6,416.2 431.2,416.8 431.8,416.9 432.3,416.7 432.9,416.6 433.5,417.0 434.1,416.6 434.7,417.1 435.3,417.2 435.9,417.5 436.5,417.4 437.1,416.9 437.7,417.9 438.3,417.7 438.9,417.1 439.5,417.3 440.1,417.9 440.7,417.5 441.3,418.1 441.9,417.7 442.4,417.6 443.0,418.4 443.6,418.5 444.2,418.0 444.8,418.5 445.4,418.2 446.0,418.3 446.6,418.1 447.2,418.3 447.8,418.5 448.4,418.5 449.0,418.7 449.6,418.6 450.2,418.3 450.8,418.0 451.4,418.4 452.0,418.3 452.6,418.1 453.2,417.9 453.8,418.1 454.4,418.0 455.0,418.3 455.6,418.7 456.2,419.2 456.7,419.2 457.2,419.3 457.7,419.6 458.3,420.0 458.8,420.6 459.3,420.6 459.9,420.4 460.4,421.0 461.0,420.8 461.6,421.3 462.1,421.7 462.7,421.6 463.3,422.0 463.8,422.6 464.4,422.3 464.9,422.9 465.5,423.1 466.1,423.2 466.7,423.0 467.3,423.6 467.8,423.5 468.4,423.7 469.0,423.6 469.6,423.9 470.2,423.3 470.8,423.7 471.4,423.8 472.0,424.3 472.6,423.1 473.2,423.2 473.8,423.4 474.4,423.4 475.0,423.1 475.6,423.4 476.2,423.1 476.8,423.1 477.4,422.7 478.0,423.0 478.6,422.9 479.2,423.2 479.8,422.9 480.4,423.0 481.0,422.7 481.6,422.3 482.2,422.6 482.8,421.9 483.4,421.9 483.9,422.0 484.5,422.2 485.1,422.2 485.7,421.4 486.3,421.6 486.9,421.8 487.5,421.3 488.1,420.8 488.6,421.1 489.2,421.3 489.8,420.6 490.4,420.5 491.0,421.0 491.5,420.5 492.1,419.9 492.7,420.2 493.3,420.1 493.8,419.5 494.4,419.5 495.0,419.5 495.5,419.1 496.1,419.2 496.7,418.9 497.2,418.6 497.8,418.5 498.3,417.9 498.9,417.5 499.4,417.2 500.0,417.2 500.5,416.8 501.1,416.8 501.7,416.9 502.2,416.8 502.8,416.5 503.4,416.3 504.0,416.0 504.5,415.9 505.1,415.5 505.7,415.4 506.3,415.1 506.9,415.2 507.5,415.2 508.1,414.9 508.6,414.9 509.2,415.2 509.8,414.7 510.4,414.6 511.0,414.4 511.6,414.4 512.2,413.9 512.8,414.2 513.4,414.2 514.0,414.1 514.5,413.4 515.1,413.7 515.7,414.0 516.3,413.7 516.9,413.1 517.5,413.2 518.1,413.1 518.7,413.4 519.3,413.5 519.9,413.1 520.5,412.8 521.1,413.2 521.7,412.6 522.3,413.4 522.9,412.9 523.5,412.9 524.1,412.8 524.7,413.1 525.3,413.2 525.9,413.3 526.5,413.1 527.1,413.1 527.7,413.4 528.3,413.5 528.9,413.3 529.5,413.3 530.1,413.4 530.7,413.1 531.3,413.0 531.9,412.9 532.5,413.1 533.1,413.6 533.7,413.0 534.3,412.9 534.9,413.1 535.5,413.3 536.1,413.3 536.7,413.0 537.3,413.3 537.9,413.1 538.5,413.1 539.1,413.2 539.7,413.0 540.3,413.1 540.9,413.4 541.5,413.0 542.1,413.2 542.7,413.4 543.3,413.4 543.9,413.4 544.5,413.1 545.1,413.1 545.7,413.4 546.3,413.3 546.9,413.0 547.5,413.5 548.1,413.6 548.7,413.9 549.3,413.6 549.9,413.7 550.5,413.6 551.1,413.9 551.7,413.9 552.3,414.5 552.9,414.0 553.5,414.6 554.0,414.3 554.6,414.2 555.2,414.6 555.8,414.7 556.4,415.1 557.0,415.0 557.6,415.0 558.2,414.9 558.8,415.0 559.4,415.2 560.0,415.4 560.6,415.3 561.1,415.4 561.7,415.7 562.3,415.6 562.9,415.8 563.5,415.9 564.1,415.9 564.7,416.5 565.3,416.5 565.9,416.4 566.5,416.2 567.0,416.7 567.6,416.7 568.2,416.9 568.8,417.0 569.4,417.0 570.0,417.8 570.6,417.5 571.2,417.4 571.8,417.6 572.3,417.6 572.9,417.6 573.5,417.7 574.1,418.2 574.7,418.5 575.3,418.7 575.9,418.5 576.5,418.7 577.0,418.3 577.6,418.4 578.2,418.9 578.8,419.3 579.4,419.5 580.0,419.3 580.6,419.2 581.1,419.5 581.7,419.7 582.3,419.6 582.9,419.9 583.5,420.3 584.1,420.1 584.7,420.3 585.3,420.9 585.8,420.7 586.4,420.8 587.0,420.7 587.6,421.1 588.2,420.7 588.8,421.5 589.4,421.3 590.0,421.2 590.5,421.4 591.1,421.6 591.7,421.2 592.3,421.8 592.9,422.0 593.5,421.7 594.1,422.3 594.7,422.6 595.2,422.0 595.8,422.3 596.4,422.8 597.0,423.3 597.6,422.8 598.2,423.1 598.8,423.0 599.4,423.3 600.0,423.5 600.5,423.3 601.1,423.8 601.7,424.5 602.3,424.2 602.9,423.9 603.5,424.1 604.1,423.8 604.7,424.2 605.3,424.2 605.9,424.2 606.5,424.0 607.1,425.0 607.6,424.8 608.2,424.5 608.8,425.0 609.4,425.1 610.0,424.7 610.6,425.4 611.2,424.6 611.8,425.5 612.4,425.1 613.0,425.5 613.6,425.1 614.2,425.6 614.8,425.9 615.4,426.0 616.0,425.8 616.6,425.9 617.2,425.8 617.8,425.9 618.3,426.1 618.9,425.8 619.5,426.3 620.1,426.2 620.7,426.5 621.3,426.6 621.9,426.5 622.5,426.3 623.1,426.7 623.7,426.6 624.3,426.8 624.9,426.9 625.5,426.6 626.1,427.2 626.7,426.8 627.3,427.1 627.9,427.4 628.5,427.4 629.1,427.5 629.7,427.9 630.3,427.5 630.9,427.7 631.5,428.0 632.1,427.4 632.7,427.8 633.2,428.1 633.8,428.1 634.4,427.9 635.0,428.2 635.6,428.3 636.2,428.3 636.8,428.6 637.4,428.1 638.0,428.6 638.6,428.4 639.2,428.5 639.8,428.1 640.4,429.2 641.0,428.1 641.6,428.8 642.2,428.7 642.8,429.3 643.4,428.7 644.0,428.9 644.6,429.0 645.2,429.2 645.8,429.3 646.4,429.3 647.0,428.6 647.6,429.0 648.2,429.4 648.8,429.4 649.4,429.6 650.0,429.2 650.6,429.4 651.2,429.5 651.8,429.7 652.4,429.8 653.0,429.6 653.6,429.9 654.2,429.7 654.8,429.8 655.4,429.4 656.0,429.5 656.6,430.1 657.2,429.7 657.8,430.2 658.4,430.2 659.0,429.6 659.6,429.9 660.2,430.0 660.8,429.9 661.4,429.5 662.0,430.1 662.6,430.0 663.2,429.8 663.8,430.1 664.4,430.1 665.0,430.7 665.6,430.3 666.2,430.1 666.8,430.3 667.4,429.9 668.0,430.5 668.5,430.4 669.1,430.7 669.7,430.5 670.3,430.9 670.9,430.9 671.5,430.3 672.1,430.6 672.7,430.7 673.3,430.7 673.9,430.5 674.5,430.7 675.1,430.8 675.7,431.0 676.3,430.8 676.8,430.9" fill="none" stroke="#3aa866" stroke-width="1.5" stroke-linejoin="round"/>
<polyline points="388.2,246.6 388.2,247.2 388.2,247.8 388.2,248.4 388.2,249.0 388.2,249.6 388.2,250.2 388.2,250.8 388.2,251.4 388.2,252.0 388.2,252.6 388.2,253.2 388.2,253.8 388.2,254.4 388.2,255.0 388.2,255.6 388.2,256.2 388.2,256.8 388.2,257.4 388.2,258.0 388.2,258.6 388.2,259.2 388.2,259.8 388.2,260.4 388.2,261.0 388.2,261.6 388.2,262.2 388.2,262.8 388.2,263.4 388.2,264.0 388.2,264.6 388.2,265.2 388.2,265.8 388.2,266.4 388.2,267.0 388.2,267.6 388.2,268.2 388.2,268.8 388.2,269.4 388.2,270.0 388.2,270.6 388.2,271.2 388.2,271.8 388.2,272.4 388.2,273.0 388.2,273.6 388.2,274.2 388.2,274.8 388.2,275.4 388.2,276.0 388.2,276.6 388.2,277.2 388.2,277.8 388.2,278.4 388.2,279.0 388.2,279.6 388.2,280.2 388.2,280.8 388.2,281.4 388.2,282.0 388.2,282.6 388.2,283.2 388.2,283.8 388.2,284.4 388.2,285.0 388.2,285.6 388.2,286.2 388.2,286.8 388.2,287.4 388.2,288.0 388.2,288.6 388.2,289.2 388.2,289.8 388.2,290.4 388.2,291.0 388.2,291.6 388.2,292.2 388.2,292.8 388.2,293.4 388.2,294.0 388.2,294.6 388.2,295.2 388.2,295.8 388.2,296.4 388.2,297.0 388.2,297.6 388.2,298.2 388.2,298.8 388.2,299.4 388.2,300.0 388.2,300.6 388.2,301.2 388.2,301.8 388.2,302.4 388.2,303.0 388.2,303.6 388.2,304.2 388.2,304.8 388.2,305.4 388.2,306.0 388.2,306.6 388.2,307.2 388.2,307.8 388.2,308.4 388.2,309.0 388.2,309.6 388.2,310.2 388.2,310.8 388.2,311.4 388.2,312.0 388.2,312.6 388.2,313.2 388.2,313.8 388.2,314.4 388.2,315.0 388.2,315.6 388.2,316.2 388.2,316.8 388.2,317.4 388.3,318.0 388.3,318.6 388.3,319.2 388.3,319.8 388.3,320.4 388.3,321.0 388.3,321.6 388.3,322.2 388.3,322.8 388.3,323.4 388.3,324.0 388.3,324.6 388.3,325.2 388.3,325.8 388.3,326.4 388.3,327.0 388.3,327.6 388.3,328.2 388.3,328.8 388.3,329.4 388.3,330.0 388.3,330.6 388.3,331.2 388.3,331.8 388.3,332.4 388.3,333.0 388.3,333.6 388.3,334.2 388.3,334.8 388.4,335.4 388.4,336.0 388.4,336.6 388.4,337.2 388.4,337.8 388.4,338.4 388.4,339.0 388.4,339.6 388.4,340.2 388.4,340.8 388.4,341.4 388.4,342.0 388.4,342.6 388.4,343.2 388.4,343.8 388.4,344.4 388.5,345.0 388.5,345.6 388.5,346.2 388.5,346.8 388.5,347.4 388.5,348.0 388.5,348.6 388.5,349.2 388.5,349.8 388.5,350.4 388.5,351.0 388.5,351.6 388.5,352.2 388.5,352.8 388.6,353.4 388.6,354.0 388.6,354.6 388.6,355.2 388.6,355.8 388.7,356.4 388.7,357.0 388.7,357.6 388.8,358.2 388.8,358.8 388.8,359.4 388.9,360.0 389.0,360.6 389.0,361.1 389.1,361.8 389.2,362.3 389.4,363.0 389.5,363.6 389.7,364.2 389.9,364.8 390.1,365.2 390.4,365.7 390.6,366.3 390.8,366.9 390.9,367.6 391.1,368.0 391.2,368.8 391.4,369.2 391.5,369.8 391.6,370.4 391.7,371.0 391.9,371.6 392.0,372.1 392.1,372.8 392.2,373.3 392.4,374.0 392.5,374.5 392.6,375.1 392.7,375.7 392.9,376.2 393.0,376.8 393.2,377.4 393.3,377.9 393.5,378.5 393.7,379.3 393.8,379.9 394.0,380.4 394.1,381.0 394.3,381.5 394.5,382.1 394.7,382.6 394.8,383.0 395.0,383.8 395.2,384.4 395.4,385.0 395.6,385.4 395.7,386.1 395.9,386.6 396.1,387.1 396.3,387.7 396.5,388.4 396.7,388.9 396.9,389.5 397.1,390.0 397.2,390.6 397.4,391.3 397.6,391.7 397.9,392.3 398.1,392.7 398.3,393.4 398.5,393.8 398.7,394.6 399.0,395.1 399.3,395.5 399.5,396.2 399.8,396.5 400.1,397.2 400.5,397.6 400.8,398.2 401.2,398.6 401.6,399.3 402.0,399.6 402.4,400.1 402.8,400.2 403.2,400.6 403.6,401.2 404.0,402.1 404.4,402.1 404.7,402.9 405.1,403.4 405.5,403.5 405.9,404.1 406.3,404.8 406.7,405.0 407.0,405.4 407.4,405.8 407.8,406.4 408.2,406.8 408.7,407.5 409.1,407.7 409.5,408.3 410.0,408.4 410.5,409.3 411.0,409.1 411.5,409.4 412.1,409.5 412.6,409.5 413.2,409.9 413.7,410.4 414.3,410.2 414.9,410.8 415.5,410.4 416.1,410.5 416.6,411.2 417.2,411.4 417.8,411.2 418.4,411.9 418.9,412.2 419.5,412.1 420.0,411.9 420.6,412.7 421.2,412.6 421.7,412.8 422.3,413.2 422.8,413.2 423.4,413.9 423.9,413.7 424.5,414.3 425.0,414.5 425.5,415.1 426.0,415.1 426.6,415.5 427.1,415.5 427.6,415.8 428.2,415.9 428.7,416.4 429.3,416.3 429.9,417.0 430.5,416.7 431.1,416.6 431.6,416.8 432.2,417.4 432.8,417.1 433.4,417.5 434.0,417.1 434.6,417.7 435.2,417.8 435.8,417.9 436.4,418.0 437.0,417.7 437.6,417.6 438.2,417.8 438.8,418.4 439.3,418.4 439.9,418.5 440.5,418.3 441.1,418.7 441.7,418.1 442.3,418.7 442.9,418.4 443.5,418.6 444.1,418.9 444.7,418.9 445.3,418.7 445.9,418.6 446.5,419.1 447.1,419.0 447.7,418.5 448.3,418.8 448.9,418.6 449.5,418.9 450.1,418.8 450.7,418.8 451.3,418.7 451.9,418.5 452.5,418.9 453.1,418.8 453.7,418.2 454.3,418.8 454.9,419.0 455.5,419.0 456.0,419.1 456.6,419.5 457.1,420.0 457.6,420.0 458.1,420.6 458.6,421.2 459.1,421.4 459.7,421.6 460.3,421.6 460.8,422.1 461.4,422.0 461.9,422.4 462.5,422.2 463.1,422.9 463.7,422.7 464.2,423.0 464.8,423.4 465.4,423.3 466.0,423.4 466.5,423.6 467.1,424.0 467.7,424.2 468.3,424.2 468.9,423.9 469.5,424.0 470.1,424.3 470.7,424.4 471.3,424.0 471.9,424.1 472.5,424.4 473.1,424.5 473.7,424.2 474.3,423.9 474.9,424.5 475.5,424.1 476.1,424.2 476.7,423.5 477.3,423.8 477.9,423.9 478.5,424.1 479.1,423.7 479.7,423.6 480.3,423.5 480.9,423.8 481.5,423.9 482.1,423.9 482.7,423.4 483.3,423.6 483.9,423.7 484.5,423.9 485.1,423.7 485.7,423.6 486.3,423.0 486.9,423.6 487.4,423.2 488.0,423.2 488.6,422.9 489.2,422.9 489.8,422.8 490.4,422.6 491.0,422.4 491.6,422.6 492.2,422.6 492.7,422.1 493.3,421.8 493.9,421.7 494.5,421.6 495.0,421.9 495.6,421.3 496.2,421.5 496.7,420.6 497.3,420.4 497.8,420.3 498.4,420.0 499.0,420.1 499.5,420.2 500.1,419.4 500.6,419.4 501.2,419.4 501.7,419.4 502.3,418.7 502.9,418.7 503.4,418.6 504.0,418.1 504.6,418.0 505.1,417.6 505.7,417.3 506.3,417.1 506.8,417.4 507.4,417.2 508.0,416.8 508.5,416.3 509.1,416.7 509.7,416.2 510.3,416.4 510.9,415.9 511.4,415.5 512.0,415.6 512.6,415.4 513.2,415.8 513.8,414.7 514.4,415.1 515.0,415.0 515.6,414.5 516.2,415.0 516.8,415.0 517.4,415.0 518.0,414.9 518.5,414.6 519.1,414.8 519.7,414.4 520.3,414.5 520.9,414.5 521.5,414.4 522.1,414.4 522.7,414.1 523.3,414.2 523.9,414.1 524.5,414.2 525.1,414.2 525.7,413.9 526.3,414.5 526.9,414.5 527.5,414.2 528.1,414.0 528.7,413.8 529.3,413.9 529.9,413.9 530.5,414.1 531.1,413.9 531.7,414.0 532.3,414.0 532.9,413.7 533.5,413.5 534.1,413.5 534.7,413.5 535.3,413.7 535.9,414.0 536.5,413.5 537.1,413.9 537.7,413.7 538.3,414.0 538.9,414.2 539.5,413.9 540.1,413.7 540.7,413.8 541.3,414.0 541.9,413.6 542.5,413.5 543.1,413.7 543.7,414.1 544.3,413.5 544.9,414.0 545.5,413.9 546.1,413.7 546.7,413.6 547.3,413.4 547.9,413.6 548.5,414.0 549.1,414.2 549.7,414.0 550.3,414.1 550.9,414.1 551.5,415.0 552.1,414.2 552.7,414.3 553.2,415.0 553.8,414.5 554.4,415.2 555.0,414.8 555.6,415.4 556.2,415.5 556.8,415.2 557.4,415.4 558.0,415.3 558.6,415.8 559.2,415.6 559.8,415.6 560.3,416.0 560.9,416.1 561.5,416.1 562.1,416.1 562.7,416.6 563.3,416.3 563.9,416.3 564.5,416.6 565.1,416.9 565.7,416.8 566.2,416.8 566.8,416.8 567.4,417.0 568.0,417.1 568.6,417.9 569.2,417.1 569.8,417.5 570.4,417.8 571.0,417.7 571.5,417.7 572.1,418.3 572.7,418.6 573.3,418.6 573.9,418.5 574.5,418.5 575.1,418.9 575.7,418.5 576.2,418.8 576.8,419.5 577.4,419.4 578.0,419.4 578.6,419.5 579.2,419.6 579.8,419.6 580.3,420.0 580.9,420.2 581.5,420.3 582.1,419.7 582.7,420.7 583.3,420.7 583.9,421.0 584.5,420.6 585.0,420.4 585.6,420.7 586.2,420.9 586.8,421.8 587.4,421.2 588.0,421.4 588.6,421.9 589.2,421.9 589.8,422.1 590.3,421.8 590.9,422.5 591.5,422.3 592.1,422.1 592.7,422.5 593.3,422.2 593.9,422.3 594.5,422.6 595.1,422.6 595.6,422.8 596.2,422.9 596.8,423.1 597.4,423.1 598.0,423.7 598.6,423.3 599.2,423.5 599.8,423.5 600.4,423.7 601.0,423.6 601.5,424.5 602.1,424.1 602.7,424.4 603.3,424.2 603.9,424.1 604.5,424.4 605.1,424.4 605.7,424.4 606.3,424.8 606.9,425.3 607.5,425.0 608.1,425.3 608.7,425.5 609.3,424.8 609.8,425.8 610.4,425.1 611.0,426.0 611.6,425.6 612.2,425.8 612.8,426.3 613.4,426.1 614.0,425.5 614.6,425.5 615.2,425.7 615.8,426.4 616.4,426.3 617.0,426.5 617.6,426.4 618.2,426.7 618.8,426.2 619.4,426.1 620.0,426.4 620.6,426.9 621.2,426.5 621.8,426.2 622.4,426.7 622.9,427.1 623.5,427.1 624.1,427.0 624.7,427.0 625.3,426.7 625.9,427.3 626.5,427.8 627.1,427.3 627.7,427.9 628.3,427.3 628.9,427.6 629.5,427.6 630.1,427.8 630.7,427.4 631.3,428.2 631.9,427.9 632.5,427.6 633.1,428.3 633.7,428.3 634.3,428.0 634.9,428.4 635.5,428.7 636.0,428.7 636.6,428.7 637.2,428.5 637.8,428.8 638.4,429.1 639.0,429.4 639.6,429.1 640.2,429.2 640.8,429.3 641.4,429.0 642.0,428.7 642.6,429.1 643.2,429.2 643.8,429.4 644.4,429.3 645.0,429.2 645.6,429.3 646.2,429.4 646.8,429.3 647.4,429.3 648.0,429.1 648.6,429.5 649.2,429.6 649.8,429.5 650.4,429.6 651.0,429.7 651.6,429.5 652.2,429.6 652.8,429.6 653.4,430.0 654.0,429.6 654.6,429.9 655.2,429.4 655.8,430.4 656.4,430.1 657.0,429.8 657.6,430.1 658.2,430.6 658.8,430.2 659.4,429.8 660.0,430.2 660.6,430.1 661.2,430.4 661.8,430.4 662.4,430.0 663.0,430.5 663.6,430.7 664.2,430.8 664.8,430.6 665.4,431.0 666.0,431.0 666.6,430.8 667.2,431.0 667.8,430.1 668.4,431.0 669.0,431.1 669.6,430.8 670.2,431.0 670.8,430.7 671.4,430.8 672.0,430.9 672.6,430.7 673.2,430.9 673.8,430.6 674.4,431.0 675.0,431.5 675.6,431.6 676.2,431.1 676.8,431.6 676.8,431.2" fill="none" stroke="#2a66e0" stroke-width="1.5" stroke-linejoin="round"/>
<polyline points="388.3,246.6 388.3,247.2 388.3,247.8 388.3,248.4 388.3,249.0 388.3,249.6 388.3,250.2 388.3,250.8 388.3,251.4 388.3,252.0 388.3,252.6 388.3,253.2 388.3,253.8 388.3,254.4 388.3,255.0 388.3,255.6 388.3,256.2 388.3,256.8 388.3,257.4 388.3,258.0 388.3,258.6 388.3,259.2 388.3,259.8 388.3,260.4 388.3,261.0 388.3,261.6 388.3,262.2 388.3,262.8 388.3,263.4 388.3,264.0 388.3,264.6 388.3,265.2 388.3,265.8 388.3,266.4 388.3,267.0 388.3,267.6 388.3,268.2 388.3,268.8 388.3,269.4 388.3,270.0 388.3,270.6 388.3,271.2 388.3,271.8 388.3,272.4 388.3,273.0 388.3,273.6 388.3,274.2 388.3,274.8 388.3,275.4 388.3,276.0 388.3,276.6 388.3,277.2 388.3,277.8 388.3,278.4 388.3,279.0 388.3,279.6 388.3,280.2 388.3,280.8 388.3,281.4 388.3,282.0 388.3,282.6 388.3,283.2 388.3,283.8 388.3,284.4 388.3,285.0 388.3,285.6 388.3,286.2 388.3,286.8 388.3,287.4 388.3,288.0 388.3,288.6 388.3,289.2 388.3,289.8 388.3,290.4 388.3,291.0 388.3,291.6 388.3,292.2 388.3,292.8 388.3,293.4 388.3,294.0 388.3,294.6 388.3,295.2 388.3,295.8 388.3,296.4 388.3,297.0 388.3,297.6 388.3,298.2 388.3,298.8 388.3,299.4 388.3,300.0 388.3,300.6 388.3,301.2 388.3,301.8 388.3,302.4 388.3,303.0 388.3,303.6 388.3,304.2 388.3,304.8 388.3,305.4 388.3,306.0 388.3,306.6 388.3,307.2 388.3,307.8 388.3,308.4 388.3,309.0 388.3,309.6 388.3,310.2 388.3,310.8 388.3,311.4 388.3,312.0 388.3,312.6 388.3,313.2 388.3,313.8 388.3,314.4 388.3,315.0 388.3,315.6 388.3,316.2 388.3,316.8 388.3,317.4 388.3,318.0 388.3,318.6 388.3,319.2 388.3,319.8 388.3,320.4 388.3,321.0 388.3,321.6 388.3,322.2 388.3,322.8 388.3,323.4 388.3,324.0 388.3,324.6 388.3,325.2 388.3,325.8 388.3,326.4 388.3,327.0 388.3,327.6 388.3,328.2 388.3,328.8 388.3,329.4 388.3,330.0 388.3,330.6 388.4,331.2 388.4,331.8 388.4,332.4 388.4,333.0 388.4,333.6 388.4,334.2 388.4,334.8 388.4,335.4 388.4,336.0 388.4,336.6 388.4,337.2 388.4,337.8 388.4,338.4 388.4,339.0 388.4,339.6 388.4,340.2 388.4,340.8 388.4,341.4 388.4,342.0 388.4,342.6 388.4,343.2 388.4,343.8 388.4,344.4 388.4,345.0 388.4,345.6 388.4,346.2 388.4,346.8 388.5,347.4 388.5,348.0 388.5,348.6 388.5,349.2 388.5,349.8 388.5,350.4 388.5,351.0 388.5,351.6 388.5,352.2 388.5,352.8 388.5,353.4 388.5,354.0 388.5,354.6 388.6,355.2 388.6,355.8 388.6,356.4 388.6,357.0 388.7,357.6 388.7,358.2 388.7,358.8 388.8,359.4 388.8,360.0 388.9,360.6 388.9,361.2 389.0,361.8 389.1,362.4 389.2,362.9 389.3,363.6 389.5,364.1 389.7,364.7 389.9,365.3 390.1,365.8 390.2,366.3 390.4,367.1 390.6,367.6 390.7,368.1 390.8,368.7 390.9,369.3 391.1,369.9 391.2,370.5 391.3,371.1 391.4,371.7 391.5,372.3 391.6,372.9 391.8,373.5 391.9,374.1 392.0,374.7 392.1,375.2 392.3,375.9 392.4,376.4 392.6,377.0 392.7,377.5 392.9,378.1 393.0,378.6 393.2,379.2 393.3,379.8 393.5,380.4 393.7,380.9 393.8,381.6 394.0,382.1 394.2,382.8 394.4,383.3 394.5,383.7 394.7,384.5 394.9,385.1 395.1,385.7 395.3,386.1 395.5,386.6 395.7,387.3 395.8,387.8 396.0,388.4 396.2,388.9 396.4,389.5 396.6,390.2 396.8,390.6 397.0,391.1 397.2,392.0 397.4,392.3 397.6,392.9 397.8,393.6 398.0,394.1 398.3,394.5 398.5,395.3 398.8,395.8 399.1,396.3 399.4,396.5 399.7,397.3 400.0,397.5 400.4,398.3 400.7,398.8 401.1,399.3 401.5,399.5 401.9,400.4 402.3,400.5 402.7,401.0 403.1,401.3 403.5,402.0 403.9,402.5 404.3,402.8 404.7,403.1 405.1,403.9 405.4,404.2 405.8,404.8 406.2,405.2 406.6,405.6 407.0,405.9 407.4,406.3 407.9,406.8 408.3,406.8 408.7,407.6 409.2,408.2 409.6,408.5 410.1,408.5 410.6,409.2 411.2,409.3 411.7,409.9 412.2,409.9 412.8,409.9 413.4,410.4 413.9,410.5 414.5,410.8 415.1,410.7 415.7,411.3 416.3,411.1 416.8,411.0 417.4,411.4 418.0,411.6 418.5,412.1 419.1,412.2 419.7,412.3 420.2,412.7 420.8,412.8 421.4,413.1 421.9,413.0 422.5,413.6 423.1,413.1 423.6,413.4 424.2,414.0 424.7,414.4 425.2,414.9 425.7,414.9 426.3,415.2 426.8,415.5 427.4,415.7 427.9,415.9 428.5,415.8 429.1,416.0 429.6,416.3 430.2,416.1 430.8,416.5 431.4,416.9 432.0,416.6 432.6,416.5 433.2,416.5 433.8,416.7 434.4,417.0 435.0,417.2 435.6,417.0 436.2,417.2 436.8,417.2 437.4,417.1 438.0,417.0 438.6,417.6 439.2,417.4 439.8,417.6 440.4,417.2 441.0,417.2 441.6,417.3 442.2,417.2 442.8,417.0 443.4,417.1 444.0,416.9 444.6,417.0 445.2,416.5 445.8,416.9 446.3,416.8 446.9,415.9 447.4,416.1 448.0,416.0 448.6,415.5 449.1,415.6 449.7,415.4 450.2,415.0 450.8,415.1 451.4,414.7 451.9,414.3 452.5,414.4 453.1,415.0 453.7,415.2 454.3,415.2 454.8,415.7 455.3,415.5 455.8,416.4 456.2,416.8 456.6,416.9 457.0,417.4 457.4,417.7 457.7,418.8 458.1,418.8 458.5,419.2 458.9,419.6 459.4,420.0 459.9,420.3 460.4,420.9 461.0,421.1 461.5,421.0 462.1,421.5 462.6,421.5 463.2,421.9 463.8,421.4 464.3,422.6 464.9,422.5 465.5,422.3 466.1,422.9 466.6,422.9 467.2,422.9 467.8,423.5 468.4,423.3 469.0,423.5 469.6,423.7 470.2,423.5 470.8,423.4 471.4,423.4 472.0,423.2 472.6,423.6 473.2,423.0 473.8,423.6 474.4,423.6 475.0,423.5 475.6,423.3 476.2,423.1 476.8,423.3 477.4,423.5 478.0,423.3 478.6,423.3 479.2,422.8 479.8,422.8 480.4,423.0 481.0,422.3 481.6,422.5 482.2,422.3 482.7,422.1 483.3,422.6 483.9,422.6 484.5,422.3 485.1,422.0 485.7,421.7 486.3,421.8 486.9,421.5 487.4,421.8 488.0,421.1 488.6,421.1 489.2,421.5 489.8,420.7 490.3,420.9 490.9,420.5 491.5,419.7 492.1,420.3 492.6,420.1 493.2,419.6 493.8,419.8 494.4,419.8 494.9,419.3 495.5,419.3 496.1,418.7 496.6,419.1 497.2,418.5 497.7,418.3 498.3,417.8 498.9,417.7 499.4,417.9 500.0,417.5 500.5,417.0 501.1,416.6 501.7,416.3 502.2,416.8 502.8,416.2 503.4,416.2 504.0,416.5 504.5,415.7 505.1,415.7 505.7,416.0 506.3,415.6 506.9,415.7 507.5,415.6 508.1,415.0 508.6,415.0 509.2,415.2 509.8,414.9 510.4,414.7 511.0,414.9 511.6,414.7 512.2,414.0 512.8,414.9 513.4,414.6 514.0,414.0 514.6,414.4 515.2,414.0 515.8,413.4 516.4,414.0 517.0,414.2 517.6,414.3 518.2,413.6 518.8,414.0 519.4,413.8 520.0,413.9 520.6,413.7 521.2,413.8 521.8,413.4 522.4,414.0 523.0,413.7 523.6,413.9 524.2,413.7 524.8,414.0 525.4,414.1 526.0,413.9 526.6,413.7 527.2,413.8 527.8,414.0 528.4,414.3 529.0,414.1 529.6,414.0 530.2,414.2 530.8,413.6 531.4,414.0 532.0,414.2 532.6,414.2 533.2,414.2 533.8,414.3 534.4,413.7 535.0,414.2 535.6,414.2 536.2,413.5 536.8,414.4 537.4,413.9 538.0,414.2 538.6,414.4 539.2,414.2 539.8,414.2 540.4,414.3 541.0,414.1 541.5,414.3 542.1,414.0 542.7,414.6 543.3,414.2 543.9,414.2 544.5,414.6 545.1,414.5 545.7,414.3 546.3,414.4 546.9,415.0 547.5,414.7 548.1,414.5 548.7,414.8 549.3,415.0 549.9,415.0 550.5,415.3 551.1,415.2 551.7,415.9 552.3,416.1 552.8,415.6 553.4,415.4 554.0,415.5 554.6,415.9 555.2,416.7 555.8,416.4 556.3,416.8 556.9,417.0 557.5,417.0 558.1,417.2 558.7,417.7 559.2,417.1 559.8,417.7 560.4,417.9 561.0,418.1 561.6,418.1 562.1,418.0 562.7,418.6 563.3,418.7 563.9,418.1 564.5,418.2 565.0,418.8 565.6,419.4 566.2,418.9 566.8,419.4 567.4,419.5 568.0,419.8 568.5,419.5 569.1,419.5 569.7,419.5 570.3,420.0 570.9,420.2 571.5,420.2 572.1,420.6 572.6,420.6 573.2,420.9 573.8,420.6 574.4,420.8 575.0,421.1 575.6,420.9 576.2,420.8 576.8,421.5 577.4,421.5 577.9,422.1 578.5,421.8 579.1,421.6 579.7,422.3 580.3,422.3 580.9,422.1 581.5,422.7 582.1,422.6 582.7,422.6 583.3,422.5 583.8,422.3 584.4,423.0 585.0,423.0 585.6,423.3 586.2,423.2 586.8,423.6 587.4,423.5 588.0,423.6 588.6,423.7 589.2,423.7 589.7,423.5 590.3,423.3 590.9,423.9 591.5,423.9 592.1,424.3 592.7,424.2 593.3,424.8 593.9,424.6 594.5,424.4 595.1,424.6 595.7,424.6 596.3,425.0 596.8,425.2 597.4,425.5 598.0,424.7 598.6,425.3 599.2,425.3 599.8,425.2 600.4,425.5 601.0,425.7 601.6,425.9 602.2,425.7 602.8,426.0 603.4,426.5 604.0,426.0 604.6,426.3 605.2,426.3 605.7,426.7 606.3,425.8 606.9,426.2 607.5,426.2 608.1,426.6 608.7,426.7 609.3,427.0 609.9,427.0 610.5,426.6 611.1,427.0 611.7,427.2 612.3,427.0 612.9,427.4 613.5,427.3 614.1,427.7 614.7,427.2 615.3,427.7 615.9,427.6 616.5,427.8 617.1,427.7 617.7,427.6 618.3,427.6 618.9,428.0 619.5,427.7 620.1,428.2 620.7,427.9 621.3,427.7 621.9,428.3 622.5,428.1 623.1,428.1 623.6,428.4 624.2,427.9 624.8,428.3 625.4,428.6 626.0,428.4 626.6,428.7 627.2,428.2 627.8,428.3 628.4,428.8 629.0,428.0 629.6,428.9 630.2,429.2 630.8,428.6 631.4,429.3 632.0,428.8 632.6,429.4 633.2,429.0 633.8,429.0 634.4,428.5 635.0,429.2 635.6,428.7 636.2,429.3 636.8,428.9 637.4,429.1 638.0,429.5 638.6,429.1 639.2,429.2 639.8,429.5 640.4,429.7 641.0,429.7 641.6,429.4 642.2,429.5 642.8,429.4 643.4,429.7 644.0,429.6 644.6,429.6 645.2,429.6 645.8,429.8 646.4,429.6 647.0,429.7 647.6,430.0 648.2,430.0 648.8,429.6 649.4,430.2 650.0,429.8 650.6,429.9 651.2,430.2 651.8,430.0 652.4,429.8 653.0,430.4 653.6,430.2 654.2,430.2 654.8,430.4 655.4,430.5 656.0,430.6 656.6,430.5 657.2,430.2 657.8,430.4 658.4,430.4 659.0,430.5 659.6,430.2 660.2,430.6 660.8,430.7 661.4,430.9 662.0,430.3 662.6,430.9 663.2,430.9 663.8,430.6 664.4,430.7 665.0,430.7 665.6,430.8 666.2,431.3 666.8,430.8 667.4,431.0 668.0,431.1 668.6,431.3 669.2,431.2 669.8,431.7 670.3,431.0 670.9,431.3 671.5,431.3 672.1,431.4 672.7,431.6 673.3,431.5 673.9,431.4 674.5,431.3 675.1,431.5 675.7,431.4 676.3,431.8 676.8,431.6" fill="none" stroke="#22c8d0" stroke-width="1.8" stroke-linejoin="round"/>
<polyline points="386.9,254.9 386.9,255.5 386.9,256.1 386.9,256.7 386.9,257.3 386.9,257.9 386.9,258.5 386.9,259.1 386.9,259.7 386.9,260.3 386.9,260.9 386.9,261.5 386.9,262.1 386.9,262.7 386.9,263.3 386.9,263.9 386.9,264.5 386.9,265.1 386.9,265.7 386.9,266.3 386.9,266.9 386.9,267.5 386.9,268.1 386.9,268.7 386.9,269.3 386.9,269.9 386.9,270.5 386.9,271.1 386.9,271.7 386.9,272.3 386.9,272.9 386.9,273.5 386.9,274.1 386.9,274.7 386.9,275.3 386.9,275.9 386.9,276.5 386.9,277.1 386.9,277.7 386.9,278.3 386.9,278.9 386.9,279.5 386.9,280.1 386.9,280.7 386.9,281.3 386.9,281.9 386.9,282.5 386.9,283.1 386.9,283.7 386.9,284.3 386.9,284.9 386.9,285.5 386.9,286.1 386.9,286.7 386.9,287.3 386.9,287.9 386.9,288.5 386.9,289.1 386.9,289.7 386.9,290.3 386.9,290.9 386.9,291.5 386.9,292.1 386.9,292.7 386.9,293.3 386.9,293.9 386.9,294.5 386.9,295.1 386.9,295.7 386.9,296.3 386.9,296.9 386.9,297.5 386.9,298.1 386.9,298.7 386.9,299.3 386.9,299.9 386.9,300.5 386.9,301.1 386.9,301.7 386.9,302.3 386.9,302.9 386.9,303.5 386.9,304.1 386.9,304.7 386.9,305.3 386.9,305.9 386.9,306.5 386.9,307.1 386.9,307.7 386.9,308.3 386.9,308.9 386.9,309.5 386.9,310.1 386.9,310.7 386.9,311.3 386.9,311.9 386.9,312.5 386.9,313.1 386.9,313.7 386.9,314.3 386.9,314.9 386.9,315.5 386.9,316.1 386.9,316.7 386.9,317.3 386.9,317.9 386.9,318.5 386.9,319.1 386.9,319.7 386.9,320.3 386.9,320.9 386.9,321.5 386.9,322.1 386.9,322.7 386.9,323.3 386.9,323.9 386.9,324.5 386.9,325.1 386.9,325.7 386.9,326.3 386.9,326.9 386.9,327.5 386.9,328.1 386.9,328.7 386.9,329.3 386.9,329.9 386.9,330.5 386.9,331.1 386.9,331.7 386.9,332.3 386.9,332.9 386.9,333.5 386.9,334.1 386.9,334.7 386.9,335.3 386.9,335.9 386.9,336.5 386.9,337.1 386.9,337.7 386.9,338.3 386.9,338.9 386.9,339.5 386.9,340.1 386.9,340.7 386.9,341.3 386.9,341.9 386.9,342.5 386.9,343.1 386.9,343.7 386.9,344.3 386.9,344.9 386.9,345.5 386.9,346.1 386.9,346.7 386.9,347.3 386.9,347.9 386.9,348.5 386.9,349.1 386.9,349.7 386.9,350.3 386.9,350.9 386.9,351.5 386.9,352.1 386.9,352.7 386.9,353.3 386.9,353.9 386.9,354.5 386.9,355.1 386.9,355.7 386.9,356.3 386.9,356.9 386.9,357.5 386.9,358.1 386.9,358.7 386.9,359.3 386.9,359.9 386.9,360.5 386.9,361.1 386.9,361.7 386.9,362.3 386.9,362.9 386.9,363.5 386.9,364.1 386.9,364.7 386.9,365.3 386.9,365.9 386.9,366.5 386.9,367.1 386.9,367.7 386.9,368.3 386.9,368.9 386.9,369.5 386.9,370.1 386.9,370.7 386.9,371.3 386.9,371.9 386.9,372.5 386.9,373.1 386.9,373.7 386.9,374.3 386.9,374.9 386.9,375.5 386.9,376.1 386.9,376.7 386.9,377.3 386.9,377.9 386.9,378.5 386.9,379.1 386.9,379.7 386.9,380.3 386.9,380.9 386.9,381.5 386.9,382.1 386.9,382.7 386.9,383.3 386.9,383.9 386.9,384.5 386.9,385.1 386.9,385.7 386.9,386.3 386.9,386.9 386.9,387.5 386.9,388.1 386.9,388.7 386.9,389.3 386.9,389.9 386.9,390.5 386.9,391.1 387.0,391.7 387.0,392.3 387.0,392.9 387.0,393.5 387.0,394.1 387.0,394.7 387.0,395.3 387.0,395.9 387.0,396.5 387.0,397.1 387.1,397.7 387.1,398.3 387.1,398.9 387.1,399.5 387.1,400.1 387.1,400.7 387.1,401.3 387.1,401.9 387.1,402.5 387.2,403.1 387.2,403.7 387.2,404.3 387.2,404.9 387.2,405.5 387.2,406.1 387.3,406.7 387.3,407.3 387.3,407.9 387.4,408.5 387.4,409.1 387.4,409.7 387.5,410.3 387.5,410.9 387.5,411.5 387.6,412.1 387.6,412.7 387.6,413.3 387.7,413.9 387.7,414.5 387.8,415.1 387.9,415.7 387.9,416.3 388.0,416.9 388.2,417.4 388.4,417.9 388.6,418.6 388.9,419.0 389.2,419.6 389.6,420.5 390.0,420.3 390.5,420.7 390.9,421.5 391.3,421.9 391.7,422.1 392.2,422.5 392.6,422.8 393.0,423.6 393.5,423.8 393.9,424.3 394.4,424.4 394.9,425.0 395.4,425.3 395.9,425.7 396.4,426.0 396.9,425.8 397.4,426.2 398.0,427.2 398.5,427.0 399.1,427.4 399.7,427.4 400.2,427.6 400.8,427.9 401.4,427.9 402.0,428.1 402.6,428.4 403.1,428.1 403.7,428.8 404.3,428.4 404.9,428.3 405.5,428.6 406.1,429.0 406.7,429.6 407.3,429.1 407.8,429.2 408.4,429.2 409.0,429.6 409.6,429.7 410.2,429.8 410.8,429.7 411.4,429.4 412.0,429.8 412.6,429.7 413.2,429.9 413.8,429.9 414.4,429.9 415.0,430.2 415.6,430.2 416.2,430.4 416.8,430.5 417.4,430.2 418.0,430.7 418.6,431.3 419.2,431.0 419.7,430.6 420.3,431.2 420.9,431.3 421.5,431.0 422.1,430.9 422.7,431.0 423.3,431.2 423.9,431.2 424.5,431.3 425.1,431.5 425.7,431.8 426.3,431.6 426.9,431.5 427.5,431.8 428.1,431.5 428.7,431.5 429.3,431.9 429.9,432.0 430.5,432.1 431.1,431.8 431.7,432.2 432.3,431.8 432.9,432.3 433.5,431.9 434.1,432.4 434.7,432.4 435.3,432.3 435.9,432.6 436.5,432.7 437.1,432.8 437.7,432.7 438.3,432.8 438.9,432.3 439.5,433.0 440.1,432.7 440.7,432.4 441.3,432.7 441.8,432.5 442.4,432.8 443.0,432.8 443.6,432.8 444.2,432.4 444.8,432.7 445.4,433.1 446.0,433.0 446.6,432.7 447.2,432.5 447.8,432.7 448.4,433.0 449.0,432.9 449.6,433.1 450.2,433.0 450.8,432.6 451.4,432.9 452.0,432.5 452.6,432.9 453.2,433.1 453.8,433.1 454.4,433.1 455.0,433.2 455.6,433.1 456.2,433.2 456.8,432.7 457.4,433.2 458.0,433.1 458.6,433.1 459.2,433.5 459.8,433.4 460.4,433.1 461.0,433.5 461.6,433.0 462.2,433.5 462.8,433.1 463.4,433.8 464.0,434.1 464.6,433.7 465.2,433.6 465.8,433.4 466.4,434.0 467.0,433.8 467.6,433.9 468.2,434.1 468.8,433.8 469.4,434.1 470.0,434.5 470.6,433.9 471.2,434.1 471.8,434.3 472.4,434.2 473.0,433.9 473.6,434.0 474.2,433.9 474.8,434.3 475.4,433.6 476.0,434.1 476.6,433.8 477.2,433.9 477.8,433.7 478.4,434.1 479.0,434.4 479.6,434.4 480.2,433.7 480.8,434.2 481.4,434.1 482.0,434.0 482.6,434.1 483.2,434.0 483.8,433.0 484.4,433.9 485.0,433.7 485.6,433.3 486.2,433.0 486.7,433.2 487.3,433.3 487.9,433.3 488.5,432.9 489.1,433.0 489.7,432.8 490.3,432.9 490.9,432.3 491.5,432.7 492.1,432.7 492.6,432.7 493.2,432.5 493.8,432.3 494.4,431.9 495.0,431.7 495.6,431.7 496.2,431.6 496.8,431.4 497.3,431.2 497.9,431.0 498.5,431.1 499.1,430.8 499.7,431.0 500.2,430.4 500.8,430.1 501.4,430.3 502.0,430.1 502.5,429.4 503.1,429.5 503.7,429.2 504.2,429.3 504.8,429.2 505.4,428.5 505.9,428.3 506.5,428.1 507.0,428.1 507.6,427.9 508.2,427.7 508.7,427.3 509.3,427.2 509.8,427.2 510.4,426.5 511.0,426.6 511.5,426.0 512.1,426.1 512.7,426.2 513.3,425.8 513.9,425.7 514.4,425.8 515.0,425.6 515.6,425.4 516.2,425.3 516.8,425.3 517.4,425.4 517.9,424.7 518.5,425.1 519.1,424.3 519.7,424.4 520.3,424.4 520.9,424.1 521.4,424.1 522.0,423.5 522.6,423.8 523.2,423.3 523.8,423.7 524.3,423.1 524.9,423.2 525.5,422.9 526.1,423.1 526.7,422.4 527.3,422.4 527.9,422.7 528.4,422.4 529.0,422.4 529.6,421.8 530.2,422.1 530.8,421.7 531.4,421.5 532.0,421.5 532.6,421.7 533.2,421.9 533.8,421.4 534.4,421.9 535.0,421.7 535.6,421.3 536.2,421.2 536.8,421.3 537.4,421.0 538.0,420.8 538.6,420.8 539.2,421.1 539.8,420.9 540.4,420.5 541.0,420.5 541.6,421.1 542.2,421.0 542.8,420.9 543.4,420.9 544.0,420.7 544.6,420.8 545.2,420.8 545.8,421.1 546.4,420.7 547.0,420.9 547.6,420.8 548.2,420.5 548.8,421.1 549.4,420.7 550.0,420.5 550.6,420.6 551.2,420.7 551.8,420.4 552.4,421.0 552.9,420.2 553.5,420.7 554.1,419.8 554.7,420.1 555.3,420.4 555.9,420.1 556.5,419.7 557.1,420.2 557.7,420.0 558.3,420.0 558.9,419.4 559.5,419.9 560.1,419.9 560.7,420.2 561.3,420.1 561.9,420.2 562.5,419.8 563.1,420.2 563.7,420.4 564.3,419.9 564.9,420.3 565.5,420.1 566.1,420.3 566.6,420.9 567.2,420.7 567.8,421.0 568.4,421.2 569.0,420.8 569.6,420.8 570.2,421.0 570.8,421.2 571.4,421.9 571.9,421.8 572.5,421.8 573.1,422.0 573.7,421.8 574.3,421.5 574.9,421.6 575.5,422.3 576.1,422.0 576.7,422.0 577.3,422.5 577.9,422.4 578.5,422.5 579.1,422.6 579.7,422.1 580.3,422.9 580.9,422.7 581.5,422.9 582.1,422.6 582.7,422.8 583.3,422.7 583.9,422.8 584.5,423.0 585.0,423.0 585.6,423.3 586.2,423.4 586.8,423.3 587.4,423.8 588.0,423.2 588.6,423.8 589.2,423.7 589.8,423.5 590.4,424.0 591.0,424.1 591.6,424.0 592.2,424.0 592.8,424.4 593.4,424.2 594.0,424.2 594.6,424.1 595.2,423.9 595.8,423.8 596.4,424.6 597.0,424.2 597.6,424.5 598.2,424.4 598.8,424.8 599.4,424.7 600.0,424.5 600.6,424.9 601.2,424.8 601.8,424.9 602.4,424.9 603.0,424.7 603.6,424.6 604.2,424.8 604.8,425.1 605.4,425.0 606.0,425.0 606.6,425.1 607.2,425.6 607.8,425.7 608.3,425.0 608.9,425.5 609.5,425.4 610.1,425.3 610.7,425.6 611.3,425.5 611.9,425.5 612.5,426.0 613.1,426.0 613.7,426.0 614.3,425.9 614.9,425.8 615.5,426.1 616.1,425.7 616.7,426.2 617.3,426.1 617.9,426.6 618.5,426.1 619.1,426.4 619.7,426.6 620.3,426.4 620.9,426.7 621.5,426.2 622.1,426.6 622.7,427.1 623.3,426.8 623.9,426.6 624.5,427.3 625.1,427.2 625.7,427.0 626.2,427.2 626.8,427.6 627.4,427.8 628.0,427.6 628.6,427.4 629.2,427.8 629.8,427.7 630.4,427.3 631.0,427.7 631.6,427.7 632.2,428.1 632.8,428.2 633.4,428.0 634.0,428.2 634.6,428.1 635.2,427.9 635.8,428.1 636.4,428.6 637.0,428.3 637.6,428.1 638.2,428.5 638.8,428.8 639.4,428.3 640.0,428.5 640.6,429.0 641.2,428.7 641.8,428.6 642.4,428.9 642.9,428.9 643.5,429.4 644.1,429.2 644.7,429.2 645.3,429.6 645.9,429.4 646.5,429.7 647.1,429.8 647.7,429.7 648.3,430.0 648.9,429.6 649.5,430.0 650.1,430.3 650.7,429.8 651.3,430.0 651.9,430.3 652.5,430.4 653.1,430.2 653.7,430.5 654.3,430.5 654.9,430.7 655.5,430.0 656.1,430.8 656.7,430.9 657.3,430.8 657.9,431.2 658.5,430.7 659.0,431.1 659.6,430.7 660.2,431.0 660.8,430.9 661.4,431.4 662.0,431.1 662.6,431.5 663.2,430.9 663.8,431.4 664.4,431.5 665.0,432.0 665.6,431.6 666.2,431.4 666.8,431.8 667.4,431.7 668.0,431.6 668.6,432.5 669.2,432.0 669.8,432.6 670.4,432.2 671.0,432.3 671.6,432.1 672.1,432.5 672.7,432.4 673.3,433.0 673.9,432.9 674.5,432.6 675.1,433.1 675.7,433.4 676.3,433.0 676.8,433.1" fill="none" stroke="#d4a010" stroke-width="1.6" stroke-linejoin="round"/>
<polyline points="389.6,240.0 389.6,240.6 389.6,241.2 389.6,241.8 389.7,242.4 389.7,243.0 389.7,243.6 389.7,244.2 389.7,244.8 389.7,245.4 389.8,246.0 389.8,246.6 389.8,247.2 389.9,247.8 389.9,248.4 389.9,249.0 390.0,249.6 390.0,250.2 390.1,250.8 390.1,251.4 390.1,252.0 390.2,252.6 390.2,253.2 390.3,253.8 390.3,254.4 390.4,255.0 390.5,255.6 390.5,256.1 390.6,256.8 390.6,257.4 390.7,258.0 390.7,258.6 390.8,259.2 390.8,259.8 390.9,260.3 390.9,260.9 391.0,261.5 391.0,262.2 391.1,262.7 391.1,263.3 391.2,264.0 391.3,264.5 391.3,265.1 391.4,265.7 391.4,266.4 391.5,266.9 391.5,267.5 391.6,268.1 391.6,268.7 391.7,269.3 391.8,269.9 391.8,270.5 391.9,271.1 391.9,271.7 392.0,272.3 392.0,272.9 392.1,273.5 392.1,274.1 392.2,274.7 392.3,275.3 392.3,275.9 392.4,276.5 392.4,277.1 392.5,277.7 392.5,278.3 392.6,278.9 392.6,279.5 392.7,280.1 392.8,280.7 392.8,281.3 392.9,281.9 392.9,282.4 393.0,283.0 393.1,283.6 393.1,284.3 393.2,284.9 393.2,285.4 393.3,286.0 393.3,286.6 393.4,287.2 393.5,287.9 393.5,288.4 393.6,289.0 393.6,289.6 393.7,290.2 393.8,290.8 393.8,291.5 393.9,292.0 393.9,292.7 394.0,293.2 394.1,293.8 394.1,294.4 394.2,295.0 394.2,295.6 394.3,296.2 394.4,296.8 394.4,297.4 394.5,298.0 394.5,298.6 394.6,299.2 394.7,299.8 394.7,300.4 394.8,300.9 394.8,301.5 394.9,302.2 394.9,302.8 395.0,303.3 395.0,304.0 395.1,304.5 395.1,305.2 395.2,305.8 395.3,306.3 395.3,307.0 395.4,307.6 395.4,308.1 395.5,308.7 395.6,309.3 395.6,309.9 395.7,310.5 395.7,311.1 395.8,311.7 395.9,312.3 395.9,312.9 396.0,313.5 396.1,314.1 396.2,314.6 396.2,315.3 396.3,315.8 396.4,316.5 396.5,317.1 396.5,317.6 396.6,318.3 396.7,318.9 396.8,319.5 396.9,320.1 397.0,320.6 397.0,321.3 397.1,321.8 397.2,322.5 397.3,323.0 397.4,323.6 397.5,324.2 397.6,324.8 397.7,325.4 397.8,326.0 397.9,326.6 398.0,327.2 398.1,327.7 398.2,328.4 398.3,329.0 398.4,329.6 398.5,330.2 398.6,330.7 398.7,331.4 398.8,331.9 398.9,332.4 399.1,333.1 399.2,333.7 399.3,334.2 399.5,334.7 399.6,335.5 399.7,335.9 399.9,336.6 400.0,337.1 400.2,337.8 400.3,338.2 400.5,338.8 400.6,339.5 400.8,340.0 400.9,340.7 401.1,341.3 401.2,341.8 401.4,342.4 401.6,342.9 401.7,343.5 401.9,344.2 402.0,344.7 402.2,345.3 402.3,345.9 402.5,346.4 402.6,347.0 402.8,347.6 402.9,348.2 403.1,348.8 403.3,349.4 403.4,349.9 403.6,350.5 403.8,351.2 404.0,351.4 404.2,352.0 404.4,352.7 404.7,353.4 404.9,353.8 405.1,354.5 405.3,354.9 405.5,355.6 405.7,356.1 405.9,356.7 406.2,357.2 406.4,357.7 406.6,358.3 406.9,358.7 407.1,359.4 407.4,360.0 407.6,360.4 407.9,361.2 408.1,361.6 408.4,362.0 408.7,362.8 409.0,363.1 409.2,363.9 409.5,364.1 409.8,364.7 410.1,365.1 410.3,365.8 410.6,366.3 410.9,366.8 411.2,367.5 411.5,368.1 411.8,368.6 412.1,369.0 412.4,369.6 412.7,369.8 413.0,370.4 413.4,371.0 413.7,371.5 414.0,371.9 414.4,372.7 414.7,373.3 415.1,373.4 415.5,374.2 415.9,374.3 416.4,374.7 416.8,375.3 417.3,375.6 417.8,375.6 418.3,376.2 418.8,376.7 419.3,376.5 419.8,377.1 420.2,377.6 420.7,377.8 421.1,378.2 421.5,379.0 421.9,379.6 422.3,379.7 422.6,380.2 423.0,380.7 423.3,381.0 423.6,381.8 423.9,382.3 424.2,382.9 424.6,383.6 424.9,383.7 425.2,384.5 425.5,384.9 425.8,385.3 426.1,386.0 426.5,386.3 426.8,386.7 427.2,387.4 427.5,387.7 427.9,388.3 428.4,388.8 428.8,389.1 429.3,389.2 429.8,389.9 430.3,390.2 430.9,390.0 431.4,390.3 432.0,390.1 432.6,390.6 433.2,390.4 433.8,390.8 434.4,390.9 435.0,391.2 435.6,391.0 436.1,391.2 436.6,391.8 437.1,392.0 437.6,392.4 438.0,392.9 438.5,393.0 438.9,393.9 439.4,394.0 439.8,394.6 440.3,395.0 440.8,395.0 441.3,395.1 441.8,396.0 442.3,396.3 442.9,396.1 443.5,396.2 444.1,396.1 444.6,396.1 445.2,395.5 445.7,395.5 446.3,395.5 446.8,395.2 447.4,394.5 448.0,395.0 448.6,394.4 449.2,394.6 449.8,394.4 450.3,394.8 450.9,394.8 451.5,395.1 452.1,395.5 452.7,395.1 453.2,395.5 453.7,396.0 454.2,395.9 454.7,396.6 455.2,397.0 455.6,397.4 456.1,397.9 456.5,398.4 456.9,398.7 457.3,399.0 457.7,399.6 458.1,399.7 458.5,400.5 458.9,401.0 459.3,401.5 459.8,402.1 460.2,401.8 460.7,402.4 461.3,402.3 461.8,402.8 462.4,402.8 462.9,403.5 463.5,403.7 464.0,403.6 464.5,404.3 464.9,404.7 465.4,405.3 465.8,405.3 466.2,406.1 466.6,406.4 467.0,406.8 467.4,407.4 467.9,407.7 468.4,408.0 469.0,408.3 469.6,408.4 470.1,408.4 470.7,407.8 471.3,407.6 471.8,406.9 472.4,407.5 473.0,406.8 473.6,407.5 474.2,407.9 474.7,407.7 475.3,408.1 475.8,408.2 476.4,409.0 477.0,408.8 477.5,409.3 478.1,409.1 478.7,409.4 479.3,409.1 479.9,409.1 480.5,409.9 481.1,410.0 481.7,409.4 482.3,409.3 482.9,409.2 483.5,409.3 484.1,409.0 484.7,409.3 485.3,409.1 485.9,409.1 486.5,408.9 487.0,409.2 487.6,408.6 488.2,408.5 488.8,408.7 489.4,408.8 490.0,408.8 490.6,408.6 491.2,408.5 491.8,408.5 492.4,409.4 493.0,408.2 493.6,408.5 494.2,408.6 494.8,408.5 495.4,408.7 496.0,408.6 496.6,408.5 497.2,407.8 497.8,407.7 498.4,408.0 499.0,408.1 499.6,408.2 500.2,407.9 500.8,407.7 501.4,408.0 502.0,407.6 502.6,407.9 503.2,407.6 503.8,407.3 504.4,407.8 505.0,407.2 505.5,407.0 506.1,406.6 506.7,406.5 507.3,406.3 507.8,406.3 508.4,406.0 509.0,406.1 509.5,405.8 510.1,405.2 510.7,405.5 511.3,405.0 511.9,405.7 512.5,405.4 513.1,405.1 513.6,404.7 514.2,405.3 514.8,405.4 515.4,405.6 516.0,405.5 516.6,405.6 517.2,406.2 517.7,406.2 518.3,406.2 518.9,406.5 519.5,406.5 520.1,407.0 520.7,406.8 521.2,407.0 521.8,406.9 522.4,407.3 523.0,407.3 523.6,407.4 524.2,407.2 524.8,407.3 525.4,408.0 526.0,408.1 526.5,407.9 527.1,407.9 527.7,408.1 528.3,408.4 528.9,408.6 529.5,408.5 530.1,408.7 530.6,409.3 531.2,409.0 531.8,409.0 532.4,409.6 533.0,409.8 533.6,409.2 534.1,409.4 534.7,410.3 535.3,410.4 535.9,409.9 536.5,410.4 537.0,410.6 537.6,410.7 538.2,410.3 538.8,410.6 539.4,411.1 540.0,411.2 540.5,411.5 541.1,411.6 541.7,411.8 542.3,412.0 542.9,412.0 543.5,412.1 544.0,412.3 544.6,412.7 545.2,412.7 545.8,412.6 546.4,412.7 546.9,413.2 547.5,413.2 548.1,413.2 548.7,413.5 549.3,413.7 549.9,413.9 550.5,414.0 551.1,413.8 551.7,413.6 552.3,413.6 552.9,413.1 553.5,413.5 554.0,413.4 554.6,412.8 555.2,412.6 555.8,413.3 556.4,413.4 557.0,413.2 557.6,413.3 558.2,413.7 558.8,413.1 559.4,413.5 560.0,413.6 560.6,413.5 561.2,414.3 561.7,413.7 562.3,414.4 562.9,414.1 563.5,414.3 564.1,414.7 564.6,415.0 565.2,415.2 565.8,415.2 566.4,415.3 567.0,415.5 567.5,415.4 568.1,415.7 568.7,415.9 569.3,415.9 569.9,415.9 570.5,416.4 571.0,416.6 571.6,416.6 572.2,416.6 572.8,417.3 573.4,416.8 574.0,417.1 574.6,417.4 575.2,417.4 575.7,417.6 576.3,417.3 576.9,417.9 577.5,417.5 578.1,418.0 578.7,418.0 579.3,418.2 579.9,418.1 580.5,418.3 581.0,418.3 581.6,418.9 582.2,419.1 582.8,418.9 583.4,418.9 584.0,419.0 584.6,419.8 585.2,419.1 585.8,419.6 586.3,419.4 586.9,419.5 587.5,420.0 588.1,419.4 588.7,420.2 589.3,419.9 589.9,420.0 590.5,420.0 591.1,420.3 591.7,420.8 592.3,420.9 592.9,420.9 593.4,420.7 594.0,421.0 594.6,420.6 595.2,420.8 595.8,421.1 596.4,421.2 597.0,421.5 597.6,421.5 598.2,421.2 598.8,421.5 599.4,421.6 600.0,422.0 600.6,421.7 601.2,421.5 601.7,422.3 602.3,422.0 602.9,422.6 603.5,422.0 604.1,422.5 604.7,422.5 605.3,422.5 605.9,422.6 606.5,422.4 607.1,422.6 607.7,422.8 608.3,422.8 608.9,423.0 609.5,423.3 610.1,422.7 610.7,423.3 611.3,423.0 611.8,423.4 612.4,423.4 613.0,423.5 613.6,423.4 614.2,423.8 614.8,423.9 615.4,423.5 616.0,423.6 616.6,424.3 617.2,423.8 617.8,424.3 618.4,424.3 619.0,424.2 619.6,424.5 620.2,424.6 620.8,424.6 621.4,424.2 622.0,424.7 622.6,424.6 623.2,424.9 623.7,425.2 624.3,424.9 624.9,424.7 625.5,425.3 626.1,425.1 626.7,425.3 627.3,425.4 627.9,425.0 628.5,425.6 629.1,426.3 629.7,425.7 630.3,425.8 630.9,426.1 631.5,425.8 632.1,425.3 632.7,426.0 633.3,426.2 633.9,426.0 634.5,426.5 635.1,426.3 635.7,426.3 636.3,426.6 636.9,426.6 637.5,426.5 638.1,426.5 638.7,426.5 639.3,426.9 639.9,426.7 640.5,426.8 641.1,426.5 641.6,426.5 642.2,427.1 642.8,426.6 643.4,426.6 644.0,426.7 644.6,427.0 645.2,427.3 645.8,427.3 646.4,427.4 647.0,427.4 647.6,427.3 648.2,427.5 648.8,427.8 649.4,427.6 650.0,428.0 650.6,427.5 651.2,427.1 651.8,427.7 652.4,427.9 653.0,427.5 653.6,428.1 654.2,427.4 654.8,427.5 655.4,427.9 656.0,428.4 656.6,427.8 657.2,427.4 657.8,428.3 658.4,427.8 659.0,428.1 659.6,428.0 660.2,428.0 660.8,428.3 661.4,428.5 662.0,428.3 662.6,428.2 663.2,428.1 663.8,428.5 664.4,428.4 665.0,428.3 665.6,428.8 666.2,428.2 666.8,428.2 667.4,428.5 668.0,428.8 668.6,428.6 669.2,428.6 669.8,428.6 670.4,428.6 671.0,428.9 671.6,429.0 672.2,428.9 672.8,429.0 673.4,428.7 674.0,428.8 674.6,429.0 675.2,429.3 675.8,429.1 676.4,429.2 676.8,429.0" fill="none" stroke="#b070e8" stroke-width="1.6" stroke-linejoin="round"/>
<polyline points="390.2,254.5 390.3,255.1 390.4,255.6 390.5,256.3 390.7,256.9 391.0,257.4 391.2,257.6 391.4,258.3 391.7,259.1 392.0,259.8 392.3,259.8 392.6,260.8 393.1,261.2 393.6,261.3 394.1,261.3 394.5,261.9 394.9,262.4 395.4,263.0 395.8,263.5 396.1,263.6 396.4,264.3 396.7,264.8 397.0,265.4 397.2,266.0 397.4,266.5 397.6,267.0 397.8,267.5 398.0,268.2 398.2,268.7 398.4,269.5 398.6,269.9 398.8,270.5 399.0,271.0 399.1,271.5 399.3,272.1 399.5,272.8 399.6,273.4 399.8,273.9 399.9,274.4 400.1,275.1 400.2,275.7 400.3,276.1 400.4,276.9 400.6,277.5 400.7,278.0 400.8,278.8 401.0,279.2 401.2,279.7 401.3,280.5 401.6,280.8 401.8,281.4 402.2,281.6 402.5,282.2 402.9,283.2 403.2,283.2 403.5,283.8 403.8,284.4 404.1,284.9 404.4,285.3 404.6,285.9 404.9,286.5 405.2,287.3 405.5,287.7 405.8,288.5 406.1,288.5 406.4,289.2 406.7,289.7 407.0,290.3 407.3,290.8 407.6,291.0 407.9,292.0 408.2,292.3 408.5,292.7 408.9,293.3 409.4,293.4 410.0,293.2 410.5,293.2 411.0,292.5 411.5,292.3 412.0,292.6 412.6,292.4 413.2,291.9 413.8,291.6 414.4,292.5 414.8,292.9 415.1,293.3 415.4,293.7 415.7,294.4 415.9,294.9 416.1,295.6 416.3,296.2 416.5,296.7 416.7,297.2 416.9,297.9 417.1,298.4 417.2,298.9 417.4,299.5 417.6,300.2 417.7,300.7 417.9,301.2 418.1,301.8 418.2,302.3 418.4,303.0 418.6,303.7 418.8,304.2 418.9,304.7 419.1,305.3 419.3,305.9 419.5,306.5 419.6,306.9 419.8,307.5 420.0,308.2 420.2,308.8 420.3,309.2 420.5,309.8 420.7,310.6 420.8,311.1 421.0,311.6 421.2,312.2 421.4,312.7 421.5,313.2 421.7,313.9 421.9,314.5 422.0,315.0 422.2,315.6 422.4,316.1 422.5,316.7 422.7,317.2 422.9,318.0 423.1,318.6 423.2,319.0 423.4,319.5 423.6,320.3 423.7,320.9 423.9,321.3 424.1,321.9 424.3,322.7 424.4,323.1 424.6,323.7 424.7,324.3 424.9,324.9 425.0,325.5 425.2,326.1 425.3,326.5 425.5,327.2 425.6,327.8 425.7,328.4 425.9,328.9 426.0,329.6 426.2,330.1 426.3,330.7 426.5,331.3 426.7,331.9 426.9,332.6 427.1,333.0 427.3,333.5 427.6,334.2 427.9,334.5 428.4,335.0 428.8,335.3 429.4,335.4 430.0,335.8 430.6,335.8 431.2,335.9 431.8,335.7 432.3,336.3 432.9,336.4 433.3,336.7 433.8,337.1 434.2,337.5 434.5,337.9 434.9,338.9 435.2,339.1 435.6,339.7 435.9,340.2 436.2,340.4 436.5,341.1 436.8,341.5 437.1,342.2 437.3,342.7 437.6,343.1 437.8,343.9 438.1,344.4 438.3,344.7 438.6,345.5 438.9,346.0 439.2,346.1 439.6,346.6 440.1,347.4 440.7,347.0 441.3,346.7 441.8,347.1 442.4,346.4 443.0,346.9 443.6,347.1 444.1,347.4 444.6,347.9 445.0,348.2 445.5,348.5 445.9,348.8 446.3,349.7 446.6,349.7 447.0,350.5 447.4,350.8 447.8,351.2 448.2,351.5 448.6,351.9 449.0,352.6 449.5,353.2 449.9,353.5 450.4,353.5 450.9,354.3 451.5,353.6 452.1,354.5 452.6,354.9 453.2,355.1 453.8,354.8 454.4,355.4 455.0,355.7 455.6,355.3 456.1,355.9 456.7,355.7 457.3,356.2 457.8,355.7 458.4,356.5 459.0,356.8 459.6,357.0 460.1,356.9 460.7,356.5 461.2,357.4 461.8,356.9 462.3,357.8 462.9,358.0 463.4,358.4 464.0,358.3 464.5,358.9 465.1,358.9 465.6,359.0 466.1,359.7 466.6,360.6 467.0,360.5 467.5,360.9 468.0,361.5 468.5,361.7 469.1,362.0 469.6,361.4 470.2,361.8 470.8,362.8 471.3,362.5 471.9,362.5 472.3,363.4 472.8,363.6 473.2,363.5 473.6,364.2 473.9,364.6 474.3,365.1 474.7,365.7 475.0,366.1 475.3,366.7 475.7,367.3 476.0,367.7 476.4,368.2 476.7,368.9 477.1,369.2 477.4,369.8 477.8,370.1 478.1,370.5 478.5,371.3 478.9,371.4 479.3,372.1 479.7,372.7 480.1,372.8 480.5,373.8 481.0,374.0 481.4,374.0 481.9,375.1 482.3,375.1 482.8,375.6 483.3,375.6 483.8,376.2 484.2,376.4 484.7,376.9 485.2,377.0 485.7,377.4 486.2,377.6 486.7,377.6 487.2,378.3 487.7,378.9 488.2,378.8 488.7,379.2 489.2,380.1 489.7,379.6 490.2,380.3 490.8,380.8 491.3,381.2 491.8,381.4 492.3,381.7 492.8,381.9 493.3,381.9 493.9,381.9 494.4,383.2 494.9,383.0 495.4,383.4 496.0,383.4 496.5,384.0 497.0,383.9 497.5,384.3 498.1,384.9 498.6,385.6 499.1,385.5 499.7,386.2 500.2,386.0 500.8,386.2 501.3,386.8 501.9,386.7 502.4,386.5 503.0,387.2 503.5,387.4 504.1,387.6 504.7,387.9 505.2,387.8 505.8,388.1 506.4,387.9 506.9,388.7 507.5,388.4 508.1,389.1 508.7,389.0 509.3,388.8 509.8,389.4 510.4,389.5 511.0,389.7 511.6,389.7 512.2,389.6 512.8,390.4 513.3,389.6 513.9,389.8 514.5,390.6 515.1,390.8 515.7,389.9 516.3,391.1 516.9,390.8 517.5,390.2 518.1,390.7 518.7,390.7 519.2,391.2 519.8,391.2 520.4,391.8 521.0,391.7 521.5,392.1 522.1,392.4 522.7,392.0 523.2,392.5 523.8,392.9 524.3,393.0 524.9,393.0 525.4,393.6 526.0,393.3 526.6,393.7 527.1,394.2 527.7,394.5 528.3,394.1 528.8,394.7 529.4,395.0 530.0,395.2 530.6,395.3 531.1,395.3 531.7,395.1 532.3,395.0 532.9,395.4 533.5,395.6 534.1,395.8 534.7,396.1 535.2,396.3 535.8,396.9 536.4,396.0 537.0,396.4 537.6,396.3 538.1,396.6 538.7,396.7 539.3,397.1 539.8,397.3 540.4,397.4 541.0,397.7 541.5,398.3 542.1,398.5 542.7,398.5 543.2,398.9 543.8,398.3 544.4,398.8 545.0,399.5 545.5,399.3 546.1,399.4 546.7,399.6 547.3,399.8 547.9,400.2 548.4,400.6 549.0,399.9 549.6,400.2 550.2,400.5 550.8,400.8 551.3,401.1 551.9,401.0 552.5,401.3 553.1,401.2 553.7,401.5 554.3,400.9 554.9,401.9 555.5,401.8 556.0,401.6 556.6,402.0 557.2,401.7 557.8,402.5 558.4,402.6 559.0,402.4 559.6,402.0 560.2,402.0 560.8,402.7 561.4,402.5 562.0,403.5 562.6,402.5 563.1,402.6 563.7,403.4 564.3,403.9 564.9,402.9 565.5,403.7 566.1,403.7 566.7,403.5 567.3,403.3 567.9,403.6 568.5,403.8 569.1,404.2 569.7,404.3 570.3,404.1 570.8,403.7 571.4,404.2 572.0,404.4 572.6,404.3 573.2,404.9 573.8,405.3 574.4,405.2 575.0,405.0 575.5,404.8 576.1,405.6 576.7,405.9 577.3,405.8 577.9,405.9 578.5,406.1 579.0,406.1 579.6,406.0 580.2,407.0 580.8,406.9 581.4,407.1 582.0,406.9 582.5,407.2 583.1,406.5 583.7,407.2 584.3,407.4 584.9,407.3 585.5,407.4 586.1,407.2 586.6,408.0 587.2,408.0 587.8,408.2 588.4,408.0 589.0,408.5 589.6,409.0 590.2,408.2 590.8,408.7 591.4,407.7 592.0,409.1 592.6,409.1 593.2,408.7 593.8,409.0 594.4,408.4 595.0,409.2 595.6,408.6 596.2,408.8 596.8,408.8 597.4,409.3 598.0,409.1 598.6,409.2 599.2,409.5 599.8,408.8 600.4,409.4 601.0,409.5 601.6,409.9 602.2,409.7 602.8,409.1 603.4,409.7 604.0,409.0 604.6,409.4 605.2,409.4 605.8,409.8 606.4,409.5 607.0,409.6 607.6,409.8 608.2,409.8 608.8,409.9 609.4,409.7 610.0,409.9 610.6,410.2 611.2,410.2 611.7,410.1 612.3,410.1 612.9,409.6 613.5,410.5 614.1,410.6 614.7,410.6 615.3,409.8 615.9,410.1 616.5,410.1 617.1,410.4 617.7,410.2 618.3,410.5 618.9,410.6 619.5,410.5 620.1,411.0 620.7,410.9 621.3,410.6 621.9,410.4 622.5,410.7 623.1,410.5 623.7,410.3 624.3,410.8 624.9,411.1 625.5,410.7 626.1,410.5 626.7,410.9 627.3,410.7 627.9,411.2 628.5,410.9 629.1,411.0 629.7,411.0 630.3,411.1 630.9,410.8 631.5,411.2 632.1,411.0 632.7,411.0 633.3,411.4 633.9,410.8 634.5,411.2 635.1,411.4 635.7,411.5 636.3,411.8 636.9,412.0 637.5,411.8 638.1,411.9 638.7,411.9 639.3,412.0 639.9,412.1 640.4,413.1 641.0,412.1 641.6,412.7 642.2,412.7 642.8,412.7 643.4,412.6 644.0,412.9 644.6,413.1 645.2,412.6 645.8,413.3 646.4,413.1 647.0,413.5 647.6,413.2 648.2,413.2 648.8,413.3 649.4,413.6 650.0,413.2 650.6,413.7 651.2,413.4 651.8,412.8 652.4,413.2 653.0,413.7 653.6,413.3 654.2,412.9 654.8,413.4 655.4,413.2 656.0,413.4 656.6,413.1 657.2,413.5 657.8,413.3 658.4,413.2 659.0,412.7 659.6,413.0 660.2,413.6 660.8,413.8 661.4,413.4 662.0,413.1 662.6,413.4 663.2,413.1 663.8,412.8 664.4,413.2 665.0,412.8 665.6,413.3 666.2,413.5 666.8,413.7 667.4,414.2 668.0,413.6 668.6,414.0 669.1,413.8 669.7,414.2 670.3,414.1 670.9,414.1 671.5,414.2 672.1,414.1 672.7,414.2 673.3,415.1 673.9,414.5 674.5,414.7 675.1,414.6 675.6,414.6 676.2,415.2 676.8,415.1" fill="none" stroke="#e83a3a" stroke-width="1.6" stroke-linejoin="round"/>
<line x1="390.3" y1="246.6" x2="390.5" y2="256" stroke="#b070e8" stroke-width="3.2"/>
</g>
<rect x="385.8" y="246.6" width="290.7" height="191.8" fill="none" stroke="#111" stroke-width="1.3"/>
<line x1="381.4" y1="438.4" x2="385.8" y2="438.4" stroke="#111" stroke-width="1.1"/>
<line x1="383.6" y1="426.41" x2="385.8" y2="426.41" stroke="#111" stroke-width="1.1"/>
<line x1="381.4" y1="414.42" x2="385.8" y2="414.42" stroke="#111" stroke-width="1.1"/>
<line x1="383.6" y1="402.44" x2="385.8" y2="402.44" stroke="#111" stroke-width="1.1"/>
<line x1="381.4" y1="390.45" x2="385.8" y2="390.45" stroke="#111" stroke-width="1.1"/>
<line x1="383.6" y1="378.46" x2="385.8" y2="378.46" stroke="#111" stroke-width="1.1"/>
<line x1="381.4" y1="366.47" x2="385.8" y2="366.47" stroke="#111" stroke-width="1.1"/>
<line x1="383.6" y1="354.49" x2="385.8" y2="354.49" stroke="#111" stroke-width="1.1"/>
<line x1="381.4" y1="342.5" x2="385.8" y2="342.5" stroke="#111" stroke-width="1.1"/>
<line x1="383.6" y1="330.51" x2="385.8" y2="330.51" stroke="#111" stroke-width="1.1"/>
<line x1="381.4" y1="318.52" x2="385.8" y2="318.52" stroke="#111" stroke-width="1.1"/>
<line x1="383.6" y1="306.54" x2="385.8" y2="306.54" stroke="#111" stroke-width="1.1"/>
<line x1="381.4" y1="294.55" x2="385.8" y2="294.55" stroke="#111" stroke-width="1.1"/>
<line x1="383.6" y1="282.56" x2="385.8" y2="282.56" stroke="#111" stroke-width="1.1"/>
<line x1="381.4" y1="270.57" x2="385.8" y2="270.57" stroke="#111" stroke-width="1.1"/>
<line x1="383.6" y1="258.59" x2="385.8" y2="258.59" stroke="#111" stroke-width="1.1"/>
<line x1="381.4" y1="246.6" x2="385.8" y2="246.6" stroke="#111" stroke-width="1.1"/>
<text x="377.6" y="441.2" font-size="8.4" stroke="#000" stroke-width="0.25" text-anchor="end" font-weight="bold" textLength="13.4" lengthAdjust="spacingAndGlyphs">0.0</text>
<text x="377.6" y="417.22" font-size="8.4" stroke="#000" stroke-width="0.25" text-anchor="end" font-weight="bold" textLength="13.4" lengthAdjust="spacingAndGlyphs">0.5</text>
<text x="377.6" y="393.25" font-size="8.4" stroke="#000" stroke-width="0.25" text-anchor="end" font-weight="bold" textLength="13.4" lengthAdjust="spacingAndGlyphs">1.0</text>
<text x="377.6" y="369.27" font-size="8.4" stroke="#000" stroke-width="0.25" text-anchor="end" font-weight="bold" textLength="13.4" lengthAdjust="spacingAndGlyphs">1.5</text>
<text x="377.6" y="345.3" font-size="8.4" stroke="#000" stroke-width="0.25" text-anchor="end" font-weight="bold" textLength="13.4" lengthAdjust="spacingAndGlyphs">2.0</text>
<text x="377.6" y="321.32" font-size="8.4" stroke="#000" stroke-width="0.25" text-anchor="end" font-weight="bold" textLength="13.4" lengthAdjust="spacingAndGlyphs">2.5</text>
<text x="377.6" y="297.35" font-size="8.4" stroke="#000" stroke-width="0.25" text-anchor="end" font-weight="bold" textLength="13.4" lengthAdjust="spacingAndGlyphs">3.0</text>
<text x="377.6" y="273.38" font-size="8.4" stroke="#000" stroke-width="0.25" text-anchor="end" font-weight="bold" textLength="13.4" lengthAdjust="spacingAndGlyphs">3.5</text>
<text x="377.6" y="249.4" font-size="8.4" stroke="#000" stroke-width="0.25" text-anchor="end" font-weight="bold" textLength="13.4" lengthAdjust="spacingAndGlyphs">4.0</text>
<line x1="402.45" y1="438.4" x2="402.45" y2="440.3" stroke="#111" stroke-width="1.1"/>
<line x1="432.9" y1="438.4" x2="432.9" y2="441.7" stroke="#111" stroke-width="1.1"/>
<line x1="463.35" y1="438.4" x2="463.35" y2="440.3" stroke="#111" stroke-width="1.1"/>
<line x1="493.8" y1="438.4" x2="493.8" y2="441.7" stroke="#111" stroke-width="1.1"/>
<line x1="524.25" y1="438.4" x2="524.25" y2="440.3" stroke="#111" stroke-width="1.1"/>
<line x1="554.7" y1="438.4" x2="554.7" y2="441.7" stroke="#111" stroke-width="1.1"/>
<line x1="585.15" y1="438.4" x2="585.15" y2="440.3" stroke="#111" stroke-width="1.1"/>
<line x1="615.6" y1="438.4" x2="615.6" y2="441.7" stroke="#111" stroke-width="1.1"/>
<line x1="646.05" y1="438.4" x2="646.05" y2="440.3" stroke="#111" stroke-width="1.1"/>
<line x1="676.5" y1="438.4" x2="676.5" y2="441.7" stroke="#111" stroke-width="1.1"/>
<text x="432.9" y="451.1" font-size="8.4" stroke="#000" stroke-width="0.25" text-anchor="middle" font-weight="bold" textLength="15.6" lengthAdjust="spacingAndGlyphs">450</text>
<text x="493.8" y="451.1" font-size="8.4" stroke="#000" stroke-width="0.25" text-anchor="middle" font-weight="bold" textLength="15.6" lengthAdjust="spacingAndGlyphs">500</text>
<text x="554.7" y="451.1" font-size="8.4" stroke="#000" stroke-width="0.25" text-anchor="middle" font-weight="bold" textLength="15.6" lengthAdjust="spacingAndGlyphs">550</text>
<text x="615.6" y="451.1" font-size="8.4" stroke="#000" stroke-width="0.25" text-anchor="middle" font-weight="bold" textLength="15.6" lengthAdjust="spacingAndGlyphs">600</text>
<text x="676.5" y="451.1" font-size="8.4" stroke="#000" stroke-width="0.25" text-anchor="middle" font-weight="bold" textLength="15.6" lengthAdjust="spacingAndGlyphs">650</text>
<text x="531.1" y="465.1" font-size="10.2" stroke="#000" stroke-width="0.35" text-anchor="middle" font-weight="bold" textLength="97" lengthAdjust="spacingAndGlyphs">Wavelength (nm)</text>
<text x="0" y="0" font-size="10.2" stroke="#000" stroke-width="0.2" text-anchor="middle" font-weight="bold" textLength="71.5" lengthAdjust="spacingAndGlyphs" transform="translate(357.5,333.9) rotate(-90)">Intensity (a.u.)</text>
<text x="342.5" y="243.2" font-size="16" stroke="#000" stroke-width="0.2" font-weight="bold" textLength="18" lengthAdjust="spacingAndGlyphs">(d)</text>
<rect x="557" y="249.2" width="115.5" height="99.4" fill="#fff" stroke="#c4c4c4" stroke-width="0.8"/>
<line x1="558.2" y1="255.6" x2="586" y2="255.6" stroke="#555" stroke-width="1.7"/>
<text x="589.6" y="259.6" font-size="10.0" textLength="22.8" lengthAdjust="spacingAndGlyphs">CdS</text>
<line x1="558.2" y1="267.8" x2="586" y2="267.8" stroke="#e84040" stroke-width="1.7"/>
<text x="589.6" y="271.8" font-size="10.0" textLength="29.4" lengthAdjust="spacingAndGlyphs">CeO<tspan font-size="7.20" dy="2.6">2</tspan></text>
<line x1="558.2" y1="282.8" x2="586" y2="282.8" stroke="#2a66e0" stroke-width="1.7"/>
<text x="589.6" y="286.8" font-size="10.0" textLength="81.3" lengthAdjust="spacingAndGlyphs">CdS/CeO<tspan font-size="7.20" dy="2.6">2</tspan><tspan dy="-2.6">(3:1)</tspan></text>
<line x1="558.2" y1="297.3" x2="586" y2="297.3" stroke="#3aa866" stroke-width="1.7"/>
<text x="589.6" y="301.3" font-size="10.0" textLength="81.3" lengthAdjust="spacingAndGlyphs">CdS/CeO<tspan font-size="7.20" dy="2.6">2</tspan><tspan dy="-2.6">(1:2)</tspan></text>
<line x1="558.2" y1="311.6" x2="586" y2="311.6" stroke="#b878ee" stroke-width="1.7"/>
<text x="589.6" y="315.6" font-size="10.0" textLength="81.3" lengthAdjust="spacingAndGlyphs">CdS/CeO<tspan font-size="7.20" dy="2.6">2</tspan><tspan dy="-2.6">(1:3)</tspan></text>
<line x1="558.2" y1="326.2" x2="586" y2="326.2" stroke="#d0a020" stroke-width="1.7"/>
<text x="589.6" y="330.2" font-size="10.0" textLength="81.3" lengthAdjust="spacingAndGlyphs">CdS/CeO<tspan font-size="7.20" dy="2.6">2</tspan><tspan dy="-2.6">(1:1)</tspan></text>
<line x1="558.2" y1="340.5" x2="586" y2="340.5" stroke="#30d0d8" stroke-width="1.7"/>
<text x="589.6" y="344.5" font-size="10.0" textLength="81.3" lengthAdjust="spacingAndGlyphs">CdS/CeO<tspan font-size="7.20" dy="2.6">2</tspan><tspan dy="-2.6">(2:1)</tspan></text>
<rect x="385.8" y="246.6" width="290.7" height="191.8" fill="none" stroke="#111" stroke-width="1.3"/>
<line x1="386.5" y1="254.9" x2="386.5" y2="405" stroke="#d89c00" stroke-width="1.4"/>
<line x1="388.1" y1="247.3" x2="388.1" y2="352" stroke="#22c8d0" stroke-width="1.8"/>
</svg>
</body></html>
